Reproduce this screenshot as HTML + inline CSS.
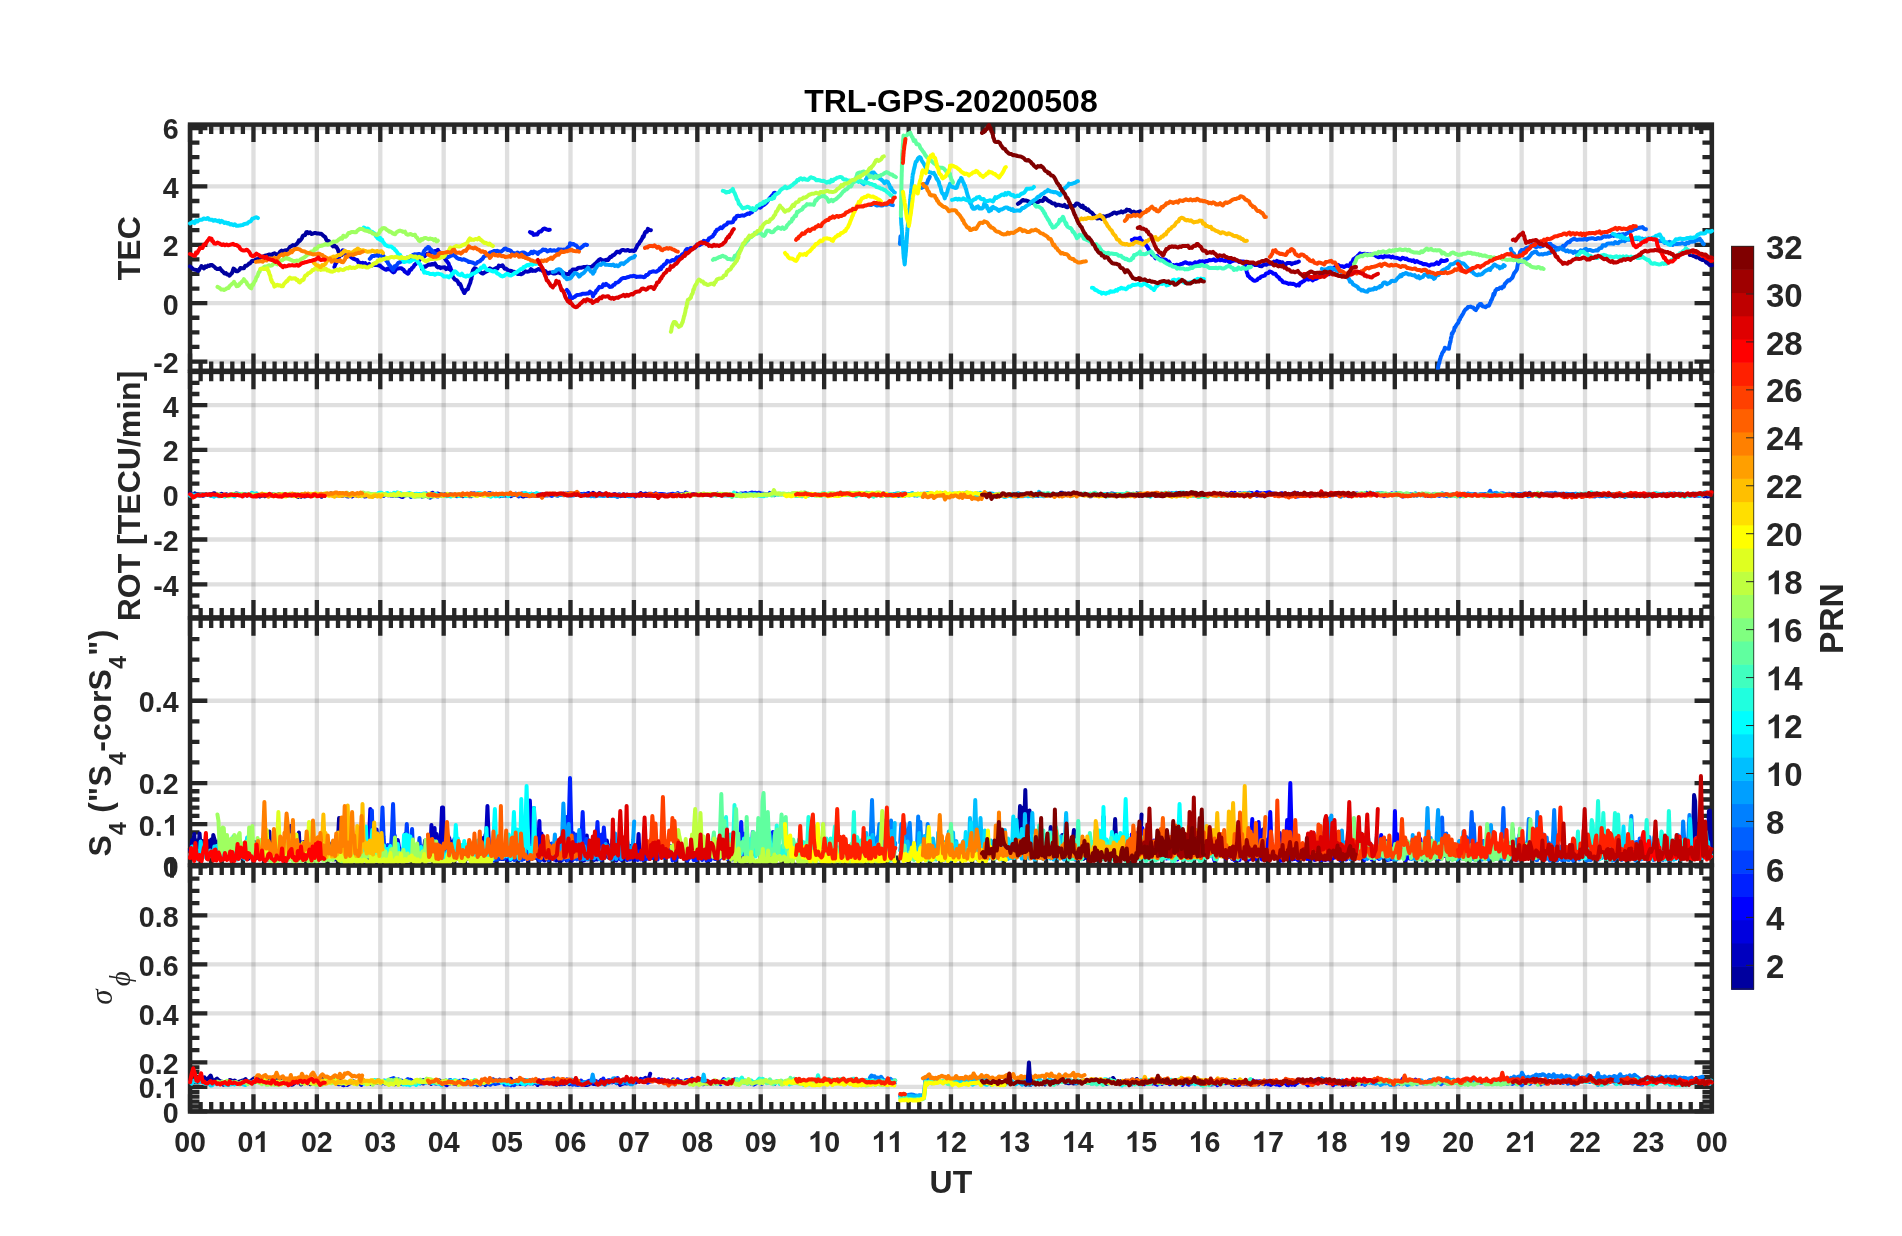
<!DOCTYPE html>
<html><head><meta charset="utf-8"><title>TRL-GPS-20200508</title>
<style>html,body{margin:0;padding:0;background:#fff;}body{width:1902px;height:1236px;overflow:hidden;font-family:"Liberation Sans",sans-serif;}svg{display:block;}</style></head>
<body>
<svg width="1902" height="1236" viewBox="0 0 1902 1236" font-family="'Liberation Sans', sans-serif" font-weight="bold" style="will-change:transform">
<style>.n path{vector-effect:non-scaling-stroke}text{font-kerning:none}</style>
<rect width="1902" height="1236" fill="#fff"/>
<g id="p1">
<path d="M253.46,124.6V370.8M316.87,124.6V370.8M380.27,124.6V370.8M443.68,124.6V370.8M507.09,124.6V370.8M570.5,124.6V370.8M633.91,124.6V370.8M697.32,124.6V370.8M760.72,124.6V370.8M824.13,124.6V370.8M887.54,124.6V370.8M950.95,124.6V370.8M1014.36,124.6V370.8M1077.77,124.6V370.8M1141.17,124.6V370.8M1204.58,124.6V370.8M1267.99,124.6V370.8M1331.4,124.6V370.8M1394.81,124.6V370.8M1458.22,124.6V370.8M1521.62,124.6V370.8M1585.03,124.6V370.8M1648.44,124.6V370.8" stroke="rgba(38,38,38,0.15)" stroke-width="4.3" fill="none"/>
<path d="M190.05,128H1711.85M190.05,186.39H1711.85M190.05,244.78H1711.85M190.05,303.16H1711.85M190.05,361.55H1711.85" stroke="rgba(38,38,38,0.15)" stroke-width="4.3" fill="none"/>
<path d="M190.05,124.6v17.3M190.05,370.8v-17.3M200.62,124.6v9.4M200.62,370.8v-9.4M211.19,124.6v9.4M211.19,370.8v-9.4M221.75,124.6v9.4M221.75,370.8v-9.4M232.32,124.6v9.4M232.32,370.8v-9.4M242.89,124.6v9.4M242.89,370.8v-9.4M253.46,124.6v17.3M253.46,370.8v-17.3M264.03,124.6v9.4M264.03,370.8v-9.4M274.59,124.6v9.4M274.59,370.8v-9.4M285.16,124.6v9.4M285.16,370.8v-9.4M295.73,124.6v9.4M295.73,370.8v-9.4M306.3,124.6v9.4M306.3,370.8v-9.4M316.87,124.6v17.3M316.87,370.8v-17.3M327.43,124.6v9.4M327.43,370.8v-9.4M338,124.6v9.4M338,370.8v-9.4M348.57,124.6v9.4M348.57,370.8v-9.4M359.14,124.6v9.4M359.14,370.8v-9.4M369.71,124.6v9.4M369.71,370.8v-9.4M380.27,124.6v17.3M380.27,370.8v-17.3M390.84,124.6v9.4M390.84,370.8v-9.4M401.41,124.6v9.4M401.41,370.8v-9.4M411.98,124.6v9.4M411.98,370.8v-9.4M422.55,124.6v9.4M422.55,370.8v-9.4M433.12,124.6v9.4M433.12,370.8v-9.4M443.68,124.6v17.3M443.68,370.8v-17.3M454.25,124.6v9.4M454.25,370.8v-9.4M464.82,124.6v9.4M464.82,370.8v-9.4M475.39,124.6v9.4M475.39,370.8v-9.4M485.96,124.6v9.4M485.96,370.8v-9.4M496.52,124.6v9.4M496.52,370.8v-9.4M507.09,124.6v17.3M507.09,370.8v-17.3M517.66,124.6v9.4M517.66,370.8v-9.4M528.23,124.6v9.4M528.23,370.8v-9.4M538.8,124.6v9.4M538.8,370.8v-9.4M549.36,124.6v9.4M549.36,370.8v-9.4M559.93,124.6v9.4M559.93,370.8v-9.4M570.5,124.6v17.3M570.5,370.8v-17.3M581.07,124.6v9.4M581.07,370.8v-9.4M591.64,124.6v9.4M591.64,370.8v-9.4M602.2,124.6v9.4M602.2,370.8v-9.4M612.77,124.6v9.4M612.77,370.8v-9.4M623.34,124.6v9.4M623.34,370.8v-9.4M633.91,124.6v17.3M633.91,370.8v-17.3M644.48,124.6v9.4M644.48,370.8v-9.4M655.04,124.6v9.4M655.04,370.8v-9.4M665.61,124.6v9.4M665.61,370.8v-9.4M676.18,124.6v9.4M676.18,370.8v-9.4M686.75,124.6v9.4M686.75,370.8v-9.4M697.32,124.6v17.3M697.32,370.8v-17.3M707.88,124.6v9.4M707.88,370.8v-9.4M718.45,124.6v9.4M718.45,370.8v-9.4M729.02,124.6v9.4M729.02,370.8v-9.4M739.59,124.6v9.4M739.59,370.8v-9.4M750.16,124.6v9.4M750.16,370.8v-9.4M760.72,124.6v17.3M760.72,370.8v-17.3M771.29,124.6v9.4M771.29,370.8v-9.4M781.86,124.6v9.4M781.86,370.8v-9.4M792.43,124.6v9.4M792.43,370.8v-9.4M803,124.6v9.4M803,370.8v-9.4M813.57,124.6v9.4M813.57,370.8v-9.4M824.13,124.6v17.3M824.13,370.8v-17.3M834.7,124.6v9.4M834.7,370.8v-9.4M845.27,124.6v9.4M845.27,370.8v-9.4M855.84,124.6v9.4M855.84,370.8v-9.4M866.41,124.6v9.4M866.41,370.8v-9.4M876.97,124.6v9.4M876.97,370.8v-9.4M887.54,124.6v17.3M887.54,370.8v-17.3M898.11,124.6v9.4M898.11,370.8v-9.4M908.68,124.6v9.4M908.68,370.8v-9.4M919.25,124.6v9.4M919.25,370.8v-9.4M929.81,124.6v9.4M929.81,370.8v-9.4M940.38,124.6v9.4M940.38,370.8v-9.4M950.95,124.6v17.3M950.95,370.8v-17.3M961.52,124.6v9.4M961.52,370.8v-9.4M972.09,124.6v9.4M972.09,370.8v-9.4M982.65,124.6v9.4M982.65,370.8v-9.4M993.22,124.6v9.4M993.22,370.8v-9.4M1003.79,124.6v9.4M1003.79,370.8v-9.4M1014.36,124.6v17.3M1014.36,370.8v-17.3M1024.93,124.6v9.4M1024.93,370.8v-9.4M1035.49,124.6v9.4M1035.49,370.8v-9.4M1046.06,124.6v9.4M1046.06,370.8v-9.4M1056.63,124.6v9.4M1056.63,370.8v-9.4M1067.2,124.6v9.4M1067.2,370.8v-9.4M1077.77,124.6v17.3M1077.77,370.8v-17.3M1088.33,124.6v9.4M1088.33,370.8v-9.4M1098.9,124.6v9.4M1098.9,370.8v-9.4M1109.47,124.6v9.4M1109.47,370.8v-9.4M1120.04,124.6v9.4M1120.04,370.8v-9.4M1130.61,124.6v9.4M1130.61,370.8v-9.4M1141.17,124.6v17.3M1141.17,370.8v-17.3M1151.74,124.6v9.4M1151.74,370.8v-9.4M1162.31,124.6v9.4M1162.31,370.8v-9.4M1172.88,124.6v9.4M1172.88,370.8v-9.4M1183.45,124.6v9.4M1183.45,370.8v-9.4M1194.02,124.6v9.4M1194.02,370.8v-9.4M1204.58,124.6v17.3M1204.58,370.8v-17.3M1215.15,124.6v9.4M1215.15,370.8v-9.4M1225.72,124.6v9.4M1225.72,370.8v-9.4M1236.29,124.6v9.4M1236.29,370.8v-9.4M1246.86,124.6v9.4M1246.86,370.8v-9.4M1257.42,124.6v9.4M1257.42,370.8v-9.4M1267.99,124.6v17.3M1267.99,370.8v-17.3M1278.56,124.6v9.4M1278.56,370.8v-9.4M1289.13,124.6v9.4M1289.13,370.8v-9.4M1299.7,124.6v9.4M1299.7,370.8v-9.4M1310.26,124.6v9.4M1310.26,370.8v-9.4M1320.83,124.6v9.4M1320.83,370.8v-9.4M1331.4,124.6v17.3M1331.4,370.8v-17.3M1341.97,124.6v9.4M1341.97,370.8v-9.4M1352.54,124.6v9.4M1352.54,370.8v-9.4M1363.1,124.6v9.4M1363.1,370.8v-9.4M1373.67,124.6v9.4M1373.67,370.8v-9.4M1384.24,124.6v9.4M1384.24,370.8v-9.4M1394.81,124.6v17.3M1394.81,370.8v-17.3M1405.38,124.6v9.4M1405.38,370.8v-9.4M1415.94,124.6v9.4M1415.94,370.8v-9.4M1426.51,124.6v9.4M1426.51,370.8v-9.4M1437.08,124.6v9.4M1437.08,370.8v-9.4M1447.65,124.6v9.4M1447.65,370.8v-9.4M1458.22,124.6v17.3M1458.22,370.8v-17.3M1468.78,124.6v9.4M1468.78,370.8v-9.4M1479.35,124.6v9.4M1479.35,370.8v-9.4M1489.92,124.6v9.4M1489.92,370.8v-9.4M1500.49,124.6v9.4M1500.49,370.8v-9.4M1511.06,124.6v9.4M1511.06,370.8v-9.4M1521.62,124.6v17.3M1521.62,370.8v-17.3M1532.19,124.6v9.4M1532.19,370.8v-9.4M1542.76,124.6v9.4M1542.76,370.8v-9.4M1553.33,124.6v9.4M1553.33,370.8v-9.4M1563.9,124.6v9.4M1563.9,370.8v-9.4M1574.47,124.6v9.4M1574.47,370.8v-9.4M1585.03,124.6v17.3M1585.03,370.8v-17.3M1595.6,124.6v9.4M1595.6,370.8v-9.4M1606.17,124.6v9.4M1606.17,370.8v-9.4M1616.74,124.6v9.4M1616.74,370.8v-9.4M1627.31,124.6v9.4M1627.31,370.8v-9.4M1637.87,124.6v9.4M1637.87,370.8v-9.4M1648.44,124.6v17.3M1648.44,370.8v-17.3M1659.01,124.6v9.4M1659.01,370.8v-9.4M1669.58,124.6v9.4M1669.58,370.8v-9.4M1680.15,124.6v9.4M1680.15,370.8v-9.4M1690.71,124.6v9.4M1690.71,370.8v-9.4M1701.28,124.6v9.4M1701.28,370.8v-9.4M1711.85,124.6v17.3M1711.85,370.8v-17.3M190.05,361.55h9.4M1711.85,361.55h-9.4M190.05,346.95h9.4M1711.85,346.95h-9.4M190.05,332.36h9.4M1711.85,332.36h-9.4M190.05,317.76h9.4M1711.85,317.76h-9.4M190.05,303.16h9.4M1711.85,303.16h-9.4M190.05,288.57h9.4M1711.85,288.57h-9.4M190.05,273.97h9.4M1711.85,273.97h-9.4M190.05,259.37h9.4M1711.85,259.37h-9.4M190.05,244.78h9.4M1711.85,244.78h-9.4M190.05,230.18h9.4M1711.85,230.18h-9.4M190.05,215.58h9.4M1711.85,215.58h-9.4M190.05,200.98h9.4M1711.85,200.98h-9.4M190.05,186.39h9.4M1711.85,186.39h-9.4M190.05,171.79h9.4M1711.85,171.79h-9.4M190.05,157.19h9.4M1711.85,157.19h-9.4M190.05,142.6h9.4M1711.85,142.6h-9.4M190.05,128h9.4M1711.85,128h-9.4M190.05,128h17.3M1711.85,128h-17.3M190.05,186.39h17.3M1711.85,186.39h-17.3M190.05,244.78h17.3M1711.85,244.78h-17.3M190.05,303.16h17.3M1711.85,303.16h-17.3M190.05,361.55h17.3M1711.85,361.55h-17.3" stroke="#262626" stroke-width="4.3" fill="none"/>
<rect x="190.05" y="124.6" width="1521.8" height="246.2" fill="none" stroke="#262626" stroke-width="4.5"/>
<text x="162.7" y="139.34" font-size="28.6" text-anchor="start" fill="#262626" >6</text>
<text x="162.7" y="197.73" font-size="28.6" text-anchor="start" fill="#262626" >4</text>
<text x="162.7" y="256.11" font-size="28.6" text-anchor="start" fill="#262626" >2</text>
<text x="162.7" y="314.5" font-size="28.6" text-anchor="start" fill="#262626" >0</text>
<text x="153.17" y="372.89" font-size="28.6" text-anchor="start" fill="#262626" >-2</text>
<clipPath id="c0"><rect x="187.85" y="122.4" width="1526.2" height="250.6"/></clipPath>
<g clip-path="url(#c0)">
<g fill="none" stroke-width="4" stroke-linejoin="round" stroke-linecap="round">
<polyline points="190.0,266.4 191.3,267.3 192.7,268.7 194.0,269.4 195.3,269.7 196.7,269.9 198.0,270.9 198.9,270.4 199.7,268.7 200.6,267.8 201.5,266.0 202.7,267.4 204.0,268.5 205.3,266.4 206.7,267.0 208.0,265.6 209.4,266.0 210.7,264.9 212.1,265.1 213.5,266.2 214.6,267.0 215.8,268.3 217.0,268.9 218.5,269.0 220.0,268.2 221.0,269.8 222.0,271.0 223.0,271.7 224.5,273.5 226.0,273.1 227.1,274.6 228.3,274.6 229.5,275.7 230.3,274.7 231.1,273.9 232.0,273.1 232.5,271.7 233.0,270.0 233.5,268.6 234.8,269.5 236.1,271.3 237.5,271.2 238.5,270.6 239.5,269.7 240.4,268.0 242.2,268.2 243.9,268.3 245.3,265.7 246.6,265.7 247.9,264.9 248.9,263.6 249.9,263.5 250.9,262.3 251.9,261.0 253.4,261.1 254.9,260.2 256.4,259.2 257.8,259.3 259.2,258.2 260.6,257.5 261.9,256.6 263.3,256.9 264.7,255.8 266.0,255.6 267.4,255.1 268.8,254.6 270.2,254.6 271.5,255.5 272.9,253.8 274.4,253.3 275.9,254.1 277.4,254.6 278.9,253.6 280.2,251.6 281.6,250.6 282.9,251.6 284.7,250.5 286.4,250.1 287.6,249.9 288.7,248.8 289.9,247.0 291.4,246.1 292.9,245.1 294.4,245.7 295.9,244.6 296.9,243.7 297.9,242.6 298.9,240.3 299.9,240.9 300.9,239.6 301.9,238.1 303.0,235.6 304.1,235.3 305.2,235.0 306.3,232.2 307.4,232.1 308.7,233.2 310.0,232.3 311.4,234.0 312.9,233.6 314.4,233.0 315.9,233.1 317.2,233.5 318.5,233.4 319.9,233.8 321.0,233.7 322.2,234.6 323.4,235.8 324.3,236.6 325.2,237.1 326.1,239.3 327.0,240.7 327.9,240.8 328.9,241.1 329.9,242.9 330.9,243.9 331.9,244.9 333.0,246.3 334.2,245.3 335.4,246.8 336.2,246.7 337.0,248.0 337.9,249.6 338.5,251.6 339.2,253.0 339.9,254.1 341.8,255.0" stroke="#00009f"/>
<polyline points="1017.9,203.9 1019.2,203.0 1020.4,202.3 1021.7,200.8 1022.9,200.0 1024.6,200.6 1026.3,200.6 1027.9,201.2 1029.4,201.8 1030.9,203.1 1032.4,202.6 1033.9,202.8 1035.4,202.2 1036.9,201.9 1038.4,202.0 1039.9,200.8 1041.4,200.7 1042.9,201.0 1044.4,197.9 1045.9,198.6 1047.1,199.9 1048.3,200.8 1049.5,201.5 1050.7,201.9 1051.9,203.1 1053.3,203.5 1054.7,203.4 1056.1,205.6 1057.5,204.7 1058.9,204.8 1060.3,205.3 1061.7,205.6 1063.1,206.1 1064.5,204.9 1065.9,206.8 1067.4,207.3 1068.9,205.7 1070.4,206.1 1071.9,206.2 1073.4,205.9 1074.9,205.8 1076.4,203.4 1077.9,203.8 1079.1,204.5 1080.3,205.9 1081.5,207.0 1082.7,205.5 1083.9,208.2 1085.3,207.8 1086.7,209.9 1088.1,209.4 1089.5,211.2 1090.9,212.3 1091.9,212.8 1092.9,214.0 1093.9,215.4 1094.9,216.0 1095.9,216.9 1096.9,218.4 1098.5,218.3 1100.0,217.3 1101.6,219.0 1103.2,216.4 1104.8,217.2 1106.2,216.1 1107.6,215.8 1109.0,215.5 1110.4,214.6 1111.8,214.1 1113.4,212.8 1115.0,212.6 1116.6,213.7 1118.2,212.5 1119.8,212.6 1121.2,211.4 1122.6,212.5 1124.0,211.6 1125.4,211.4 1126.8,209.6 1128.2,210.3 1129.6,210.0 1131.0,211.6 1132.4,212.5 1133.8,211.6 1135.4,212.8 1136.9,212.5 1138.5,211.8 1140.0,211.3 1140.0,212.3 1142.0,212.9" stroke="#00009f"/>
<polyline points="1689.8,254.9 1691.4,254.9 1693.0,255.9 1694.6,256.3 1696.2,257.4 1697.8,256.6 1699.3,258.3 1700.8,259.3 1702.3,260.0 1703.8,259.8 1705.0,260.4 1706.2,262.5 1707.4,262.9 1708.6,263.9 1709.8,265.3 1710.9,265.2 1712.0,265.2" stroke="#00009f"/>
<polyline points="422.0,268.9 423.0,267.7 424.0,266.4 425.3,266.8 426.6,265.8 428.0,264.8 429.3,264.6 430.6,264.8 431.9,264.0 433.4,264.5 434.9,263.4 435.9,265.2 436.9,266.7 437.9,267.4 439.3,266.9 440.6,268.1 441.9,267.4 443.3,267.5 444.7,267.2 446.1,269.2 447.5,268.0 448.9,268.9 450.2,269.6 451.4,270.4 451.8,271.7 452.2,273.8 452.6,276.4 452.9,276.9 453.9,278.2 454.9,279.5 455.9,279.8 456.9,280.5 457.9,281.8 458.9,284.1 459.9,283.7 460.9,285.7 461.6,287.9 462.3,289.2 463.0,290.1 463.7,292.0 464.4,293.0 465.3,291.2 466.2,290.0 467.0,289.5 467.9,289.2 468.4,287.3 468.9,285.9 469.4,284.7 469.9,283.5 470.4,282.2 470.9,279.9 471.4,279.0 471.7,276.1 471.9,276.3 472.2,274.3 472.4,272.1 472.7,272.3 472.9,270.4 474.4,268.3 475.9,268.7 477.2,269.9 478.6,270.3 479.9,271.7 481.4,272.9 482.9,273.6 484.4,272.6 485.9,271.8 487.2,271.0 488.6,270.0 489.9,268.3 491.6,269.5 493.2,269.7 494.9,268.8 496.2,267.9 497.5,268.5 498.8,265.5 500.1,266.0 501.4,265.7 502.5,265.3 503.6,267.1 504.8,268.7 505.9,268.4 507.2,269.6 508.5,270.6 509.9,270.7 511.2,271.0 512.5,271.4 513.9,271.7 515.2,272.4 516.5,273.3 517.9,274.1 519.5,273.9 521.2,274.3 522.9,273.5 524.2,272.1 525.5,271.3 526.9,271.7 528.3,271.5 529.7,271.1 531.0,269.1 532.4,270.9 533.8,270.6 535.5,270.9 537.2,269.7 538.8,268.9 540.1,269.7 541.3,268.8 542.6,271.1 543.8,271.0 545.3,271.0 546.8,272.7 548.3,273.5 549.8,272.5 551.5,272.7 553.2,273.4 554.8,273.5 556.5,272.9 558.2,272.2 559.8,273.1 561.5,273.6 563.2,272.7 564.8,273.5 566.1,274.7 567.4,274.0 568.7,274.3 570.0,273.2 570.0,271.6 571.3,271.4 572.7,269.4 574.0,269.6 575.3,269.4 576.7,269.2 578.0,268.0 579.5,267.8 581.0,267.8 582.5,267.4 584.0,267.0 585.6,267.0 587.2,266.7 588.8,267.3 590.4,266.9 592.0,266.6 593.0,265.5 594.0,264.9 595.0,263.8 596.0,263.0 597.0,261.9 598.0,261.0 599.0,259.8 600.5,259.1 602.0,260.1 603.5,260.5 605.0,260.1 606.5,259.8 608.0,260.0 609.2,258.3 610.4,256.7 611.6,256.9 612.8,255.3 614.0,255.1 615.4,253.4 616.8,251.7 618.2,251.8 619.6,252.6 620.9,250.8 622.3,249.9 623.7,250.0 625.1,250.6 626.5,250.4 627.9,249.9 629.4,251.0 630.9,250.8 632.4,250.6 633.9,251.1 634.8,250.6 635.6,248.9 636.5,247.6 637.4,245.1 638.2,244.4 639.1,243.6 639.9,241.8 640.6,241.2 641.4,239.7 642.1,238.6 642.8,236.6 643.5,237.0 644.2,234.9 644.9,232.8 645.9,231.6 646.9,231.8 647.9,228.8 649.4,229.9 650.9,230.2" stroke="#0000bf"/>
<polyline points="334.4,266.9 334.9,265.6 335.5,263.6 336.1,263.1 336.7,261.8 337.3,261.0 337.9,259.2 338.6,257.7 339.3,256.9 340.0,255.4 340.7,253.9 341.4,252.6 342.1,251.1 342.8,250.2 343.6,250.6 344.3,252.1 345.1,253.7 345.8,254.5 347.3,255.3 348.8,255.0 350.3,256.4 351.8,257.6 353.2,258.6 354.5,259.1 355.8,259.8 357.2,259.9 358.5,262.7 359.8,262.6 361.2,263.5 362.5,262.7 363.8,263.6 365.2,263.0 366.5,265.0 367.8,265.2 369.2,263.9 370.6,265.1 372.0,265.6 373.4,264.3 374.8,264.9 376.5,265.0 378.3,265.4 380.0,265.5 380.0,265.9 381.2,266.8 382.5,267.8 383.7,268.6 385.0,269.4 386.3,269.8 387.7,268.5 389.0,269.3 390.1,269.5 391.2,270.3 392.4,271.6 393.5,272.4 394.6,271.7 395.7,269.5 396.9,268.7 398.0,268.4 399.7,268.3 401.5,268.3 402.6,269.3 403.6,269.8 404.7,271.6 405.8,272.3 406.9,273.0 408.0,273.7 408.8,272.7 409.6,270.1 410.4,270.0 411.2,269.6 412.0,268.0 412.8,267.6 413.7,266.5 414.6,264.6 415.5,264.4 416.3,263.3 417.2,262.7 418.1,261.8 419.0,260.4 420.0,259.1 421.0,258.6 422.0,257.8 423.0,257.2 424.4,256.3 425.8,254.9 427.2,253.7 428.6,253.5 430.0,252.7 431.3,251.8 432.7,251.9 434.1,251.2 435.4,251.0 436.7,250.8 437.9,249.8 438.9,252.6 439.9,252.3 440.9,254.4 441.9,255.0 442.9,257.0 443.9,256.2 444.9,258.7 445.9,260.1 446.9,261.3 447.9,262.6 448.6,263.5 449.2,265.5 449.8,266.5 450.4,267.7 450.9,269.2 451.4,270.4" stroke="#0000df"/>
<polyline points="529.9,232.0 531.1,233.0 532.3,232.8 533.6,234.9 534.8,234.7 536.1,234.2 537.3,234.5 538.6,232.2 539.8,231.5 541.1,231.4 542.3,230.0 543.6,228.7 544.8,228.6 546.5,229.3 548.2,229.9 549.8,229.7" stroke="#0000df"/>
<polyline points="1243.9,261.5 1245.2,262.9 1246.6,263.3 1247.9,262.7 1249.2,263.2 1250.6,263.2 1251.9,264.3 1253.5,263.8 1255.1,265.1 1256.7,264.8 1258.3,265.0 1259.9,266.1 1261.5,266.3 1263.1,265.1 1264.7,264.3 1266.3,264.7 1267.9,263.8 1269.4,263.5 1270.9,263.8 1272.4,263.0 1273.9,261.6 1275.4,262.7 1276.9,260.9 1278.3,261.9 1279.7,261.7 1281.1,262.6 1282.5,262.2 1283.9,264.4 1285.5,264.7 1287.1,263.1 1288.7,263.0 1290.2,262.9 1291.8,264.2 1293.2,263.2 1294.6,263.0 1296.0,262.5 1297.4,262.2 1298.8,261.5" stroke="#0000df"/>
<polyline points="1131.8,239.9 1133.2,239.6 1134.5,238.4 1135.9,238.8 1137.3,238.7 1138.6,238.5 1140.0,237.8 1140.0,238.6 1141.0,240.0 1142.0,240.6 1143.0,242.8 1144.0,243.3 1145.0,243.8 1145.8,244.8 1146.6,245.9 1147.4,246.9 1148.2,248.5 1149.0,250.0 1150.0,251.4 1151.0,252.6 1152.0,254.7 1153.0,254.2 1154.0,255.9 1155.5,258.3 1157.0,256.2 1158.5,257.8 1160.0,258.9 1161.5,259.2 1163.0,259.6 1164.5,259.5 1166.0,260.0 1167.0,260.9 1168.0,262.3 1169.0,261.7 1170.0,263.3 1171.0,264.9 1172.0,265.5 1173.5,265.0 1175.0,265.7 1176.5,264.7 1178.0,265.0 1179.5,264.8 1181.0,264.0 1182.5,263.7 1184.0,262.8 1185.6,262.2 1187.2,263.2 1188.8,263.7 1190.3,263.3 1191.9,263.8 1193.4,263.8 1194.9,262.3 1196.4,262.7 1197.9,262.4 1199.5,261.3 1201.1,261.6 1202.7,261.2 1204.3,262.0 1205.9,261.0 1207.5,261.2 1209.1,260.0 1210.7,260.3 1212.3,260.1 1213.9,259.3 1215.5,260.7 1217.1,260.4 1218.7,258.8 1220.3,260.3 1221.9,259.8 1223.5,260.5 1225.1,260.9 1226.7,260.2 1228.3,261.3 1229.9,262.3 1231.5,261.3 1233.1,260.8 1234.7,260.4 1236.3,260.3 1237.9,261.0 1239.4,262.0 1240.9,261.4 1242.4,261.5 1243.9,262.1 1244.3,262.6 1244.7,263.9 1245.1,266.1 1245.5,267.5 1245.9,268.0 1246.3,269.4 1246.7,271.7 1247.1,273.1 1247.5,273.6 1247.9,275.8 1249.1,276.5 1250.3,278.1 1251.5,278.8 1252.7,279.8 1253.9,280.7 1255.4,280.7 1256.9,280.2 1258.4,278.4 1259.9,278.1 1261.1,276.6 1262.3,276.3 1263.5,275.9 1264.7,275.6 1265.9,273.7 1267.1,273.3 1268.4,273.0 1269.6,271.5 1270.9,271.9 1272.0,272.3 1273.2,273.7 1274.4,273.7 1275.5,274.0 1276.7,276.0 1277.9,276.9 1278.9,277.5 1279.9,279.4 1280.9,279.7 1281.9,280.5 1282.9,282.1 1283.9,282.4 1285.5,282.6 1287.1,283.2 1288.7,283.9 1290.2,283.5 1291.8,283.9 1293.3,283.7 1294.8,284.5 1296.3,285.6 1297.8,284.6 1299.0,285.5 1300.2,282.9 1301.4,282.5 1302.6,281.7 1303.8,281.2 1305.3,279.6 1306.8,278.6 1308.3,279.7 1309.8,279.1 1311.3,279.2 1312.8,280.4 1314.3,279.0 1315.8,278.9 1317.0,278.4 1318.2,277.1 1319.4,276.8 1320.6,274.1 1321.8,273.7 1323.2,271.6 1324.5,274.0 1325.9,273.1 1327.3,273.7 1328.6,274.3 1330.0,272.8 1330.0,272.8 1331.0,271.3 1332.0,269.9 1333.0,268.7 1334.0,268.0 1335.3,266.9 1336.7,265.9 1338.0,264.8 1339.5,265.9 1341.0,266.2 1342.5,266.3 1344.0,267.1 1345.5,266.3 1347.0,265.2 1348.5,266.2 1350.0,265.0 1350.8,263.1 1351.6,263.2 1352.5,261.6 1353.3,259.3 1354.1,260.0 1355.0,258.0 1356.2,257.4 1357.5,256.0 1358.7,254.8 1360.0,253.4 1361.5,254.5 1363.0,253.9 1364.5,253.7 1366.0,254.0 1367.5,254.2 1369.0,254.8 1370.5,254.4 1372.0,254.9 1373.6,254.0 1375.2,255.4 1376.8,256.5 1378.4,257.3 1380.0,256.8 1381.5,256.6 1383.1,257.4 1384.7,256.1 1386.3,256.5 1387.9,256.4 1389.5,256.3 1391.1,257.4 1392.7,256.6 1394.3,257.6 1395.9,257.8 1397.5,258.0 1399.1,258.7 1400.7,259.5 1402.3,257.8 1403.9,258.1 1405.3,259.0 1406.6,258.5 1407.9,259.9 1409.3,260.3 1410.6,260.3 1411.9,261.0 1413.5,260.3 1415.1,262.1 1416.7,261.1 1418.3,262.0 1419.9,262.7 1421.5,263.0 1423.1,264.2 1424.7,264.1 1426.3,264.2 1427.9,265.0 1429.4,265.7 1430.9,264.6 1432.4,264.6 1433.9,264.6 1435.4,263.8 1436.9,262.3 1438.4,264.0 1439.9,262.5 1441.3,260.3 1442.7,261.0 1444.1,260.9 1445.5,260.8 1446.9,260.1" stroke="#0000ff"/>
<polyline points="566.8,289.9 567.6,291.0 568.4,291.8 569.2,293.7 570.0,295.2 570.0,295.9 570.0,297.6 570.0,299.8 571.2,297.9 572.4,298.1 573.6,297.2 574.8,296.9 576.0,295.6 577.6,294.9 579.2,294.8 580.8,294.6 582.4,293.8 584.0,293.8 585.5,293.8 587.0,293.5 588.5,293.4 590.0,291.6 591.0,292.9 592.0,293.0 593.0,296.4 593.8,294.2 594.6,293.5 595.5,292.6 596.3,290.4 597.1,290.3 598.0,288.8 599.3,286.9 600.6,287.3 602.0,287.1 603.3,284.4 604.6,285.2 606.0,283.9 607.2,284.9 608.5,285.6 609.7,286.9 611.0,286.8 612.1,286.5 613.3,284.9 614.5,284.8 615.6,283.0 616.8,282.6 618.0,282.4 619.2,281.3 620.3,280.1 621.5,278.8 622.7,278.2 623.9,277.9 625.5,278.0 627.1,277.3 628.7,277.0 630.3,276.2 631.9,276.3 633.3,275.8 634.7,275.9 636.1,277.0 637.5,276.7 638.9,276.8 640.4,276.5 641.9,276.7 643.4,277.2 644.9,277.0 646.1,275.1 647.3,275.1 648.5,274.0 649.7,272.3 650.9,272.1 652.3,271.5 653.7,271.3 655.1,271.7 656.5,271.8 657.9,270.6 658.9,270.1 659.9,268.3 660.9,269.2 661.9,266.6 662.9,266.6 663.9,264.5 664.9,264.3 665.9,263.5 667.2,260.8 668.6,261.6 669.9,261.7 671.2,260.8 672.6,260.0 673.9,260.5 675.4,259.2 676.9,257.4 678.4,258.1 679.9,256.4 680.9,256.6 681.9,254.5 682.9,254.0 683.9,253.6 684.9,251.9 685.9,250.0 686.9,248.9 687.9,249.2 689.4,249.1 690.9,247.9 692.4,248.6 693.9,248.0 695.3,247.5 696.7,244.9 698.1,245.3 699.5,245.2 700.9,244.1 702.3,243.6 703.7,240.8 705.1,241.6 706.5,241.0 707.9,240.6 709.1,238.3 710.4,237.7 711.6,236.9 712.9,236.2 713.7,234.4 714.5,234.2 715.3,231.8 716.1,231.3 716.9,229.7 718.1,229.5 719.4,228.5 720.6,227.4 721.8,228.2 723.0,227.1 724.2,225.6 725.4,225.0 726.6,224.5 727.8,222.6 729.5,222.5 731.2,222.6 732.8,222.1 733.6,220.5 734.4,218.2 735.2,219.1 736.0,217.3 736.8,215.9 738.2,215.7 739.6,216.1 741.0,215.7 742.4,215.3 743.8,215.7 745.2,215.0 746.6,214.3 748.0,213.4 749.4,213.9 750.8,212.5 752.0,212.3 753.2,210.3 754.4,210.1 755.6,209.7 756.8,208.0 757.9,206.5 758.9,205.9 760.0,205.0 760.0,205.4 760.0,207.7 761.2,207.0 762.5,205.6 763.7,205.0 765.0,204.1 766.0,203.2 767.0,202.1 768.0,200.7 769.0,199.0 770.0,197.9 771.0,196.8 772.0,195.7 773.0,194.8 774.0,192.9 775.0,192.8" stroke="#0020ff"/>
<polyline points="369.8,258.9 370.8,257.9 371.8,256.4 372.8,255.9 374.1,255.9 375.5,255.2 376.8,255.6 377.9,254.1 378.9,256.2 380.0,256.4 380.0,256.2 381.3,257.9 382.7,255.1 384.0,257.0 384.8,258.5 385.6,259.2 386.4,260.9 387.2,260.4 388.0,263.2 388.8,264.3 389.7,265.3 390.5,266.1 391.3,268.0 392.2,268.5 393.0,270.0 393.8,268.5 394.6,266.4 395.4,266.6 396.2,265.7 397.0,264.7 398.3,262.9 399.6,262.4 401.0,261.6 402.2,261.0 403.5,261.2 404.7,261.1 406.0,259.2 407.1,257.5 408.3,258.5 409.5,258.1 410.6,257.0 411.8,256.2 413.0,254.8 414.5,254.3 416.0,254.7 417.5,254.2 419.0,253.9 420.5,254.6 422.0,256.2 422.7,255.2 423.5,252.3 424.2,250.9 425.0,250.0 426.0,248.5 427.0,248.7 428.0,246.9 429.0,247.1 430.0,249.4 430.9,249.3 431.9,250.8 432.9,251.8 433.9,252.9 435.4,253.9 436.9,254.0 438.4,254.1 439.9,255.3 441.5,255.4 443.1,255.9 444.7,256.5 446.3,256.8 447.9,257.1 449.4,256.6 450.9,255.7 452.4,255.4 453.9,254.8 455.2,256.2 456.4,257.5 457.7,258.4 458.9,258.9 460.4,259.0 461.9,259.8 463.4,259.3 464.9,259.7 466.2,260.4 467.4,260.8 468.7,262.1 469.9,261.8 471.2,262.2 472.6,262.5 473.9,263.2 475.2,263.9 476.4,263.5 477.7,262.0 478.9,261.6 480.1,261.0 481.4,259.7 482.6,258.8 483.9,256.6 485.1,255.8 486.3,255.6 487.5,255.4 488.7,253.8 489.9,252.7 491.4,252.2 492.9,251.6 494.4,250.9 495.9,251.4 497.2,250.7 498.5,251.3 499.9,252.1 501.4,251.4 502.9,250.2 504.4,248.8 505.9,248.6 507.2,249.9 508.5,249.8 509.9,250.3 510.9,251.0 511.9,252.3 512.9,252.9 514.4,253.3 515.9,254.0 517.4,252.5 518.9,253.4 520.5,253.3 522.2,252.4 523.9,252.4 525.5,253.4 527.2,254.7 528.9,254.1 530.1,253.5 531.3,251.8 532.6,253.2 533.8,251.5 535.2,252.3 536.5,252.4 537.8,253.9 539.1,252.2 540.3,251.7 541.6,250.9 542.8,249.5 544.3,250.0 545.8,249.7 547.3,251.4 548.8,250.8 550.2,249.9 551.6,250.8 553.0,250.5 554.4,250.3 555.8,250.8 557.1,250.6 558.3,249.2 559.6,249.4 560.8,249.4 562.5,249.7 564.1,249.5 565.8,250.0 566.9,248.6 567.9,247.4 569.0,246.6 570.0,244.9 570.0,243.2 571.7,244.2 573.3,244.0 575.0,245.1 576.2,245.5 577.5,247.0 578.7,249.2 580.0,248.6 581.4,247.4 582.8,246.4 584.2,245.0 585.6,244.6 587.0,245.0" stroke="#0040ff"/>
<polyline points="1437.9,368.8 1438.2,366.9 1438.6,364.7 1438.9,363.5 1439.2,363.4 1439.6,361.1 1439.9,359.9 1440.2,358.9 1440.6,358.0 1440.9,356.4 1441.6,355.1 1442.2,353.2 1442.9,351.9 1443.6,351.5 1444.2,350.0 1444.9,347.7 1446.2,348.4 1447.5,348.6 1448.9,348.8 1449.2,347.0 1449.5,345.0 1449.8,344.0 1450.1,341.9 1450.4,342.0 1450.7,340.1 1451.0,337.6 1451.3,337.6 1451.6,335.8 1451.9,333.2 1452.5,333.6 1453.2,331.6 1453.9,331.0 1454.5,327.7 1455.2,327.4 1455.9,325.9 1456.7,324.7 1457.5,323.5 1458.3,322.8 1459.1,320.1 1459.9,319.4 1460.5,317.6 1461.2,316.8 1461.9,315.4 1462.5,314.7 1463.2,313.3 1463.9,311.8 1464.9,310.2 1465.9,309.0 1466.9,308.6 1467.9,307.0 1469.2,306.9 1470.5,306.6 1471.9,307.3 1473.2,307.5 1474.5,309.2 1475.9,310.2 1476.7,308.5 1477.5,307.9 1478.3,305.5 1479.1,305.6 1479.9,303.9 1481.2,303.9 1482.5,306.2 1483.8,306.5 1485.5,307.3 1487.2,305.7 1488.8,305.8 1489.4,304.7 1490.0,303.0 1490.6,302.1 1491.1,300.3 1491.7,299.8 1492.3,298.1 1492.8,296.9 1493.5,293.8 1494.2,294.9 1494.8,292.9 1495.5,290.4 1496.2,290.2 1496.8,289.0 1498.5,289.1 1500.2,287.5 1501.8,288.3 1502.8,286.5 1503.8,286.8 1504.8,284.0 1505.8,283.0 1507.0,281.6 1508.2,280.2 1509.4,280.5 1510.6,279.4 1511.8,278.3 1512.7,277.0 1513.5,274.8 1514.3,272.9 1515.1,272.1 1516.0,270.8 1516.8,269.6 1517.1,268.7 1517.3,267.1 1517.6,265.2 1517.9,264.0 1518.1,262.3 1518.4,261.0 1518.7,259.8 1518.9,258.4 1519.2,256.0 1519.5,254.0 1519.7,254.2 1520.0,251.9 1520.0,252.2 1521.5,250.1 1523.0,250.2 1524.5,249.6 1526.0,248.4 1527.2,247.8 1528.4,247.7 1529.6,247.1 1530.8,246.6 1532.0,244.6 1533.2,244.5 1534.5,246.2 1535.7,246.9 1537.0,246.9 1538.6,245.8 1540.3,246.7 1542.0,246.1 1543.5,245.7 1545.0,244.6 1546.5,244.6 1548.0,244.1 1549.2,244.0 1550.5,243.8 1551.7,245.6 1553.0,246.0 1554.2,246.6 1555.5,247.9 1556.7,247.8 1558.0,248.9 1559.2,247.9 1560.5,247.7 1561.7,247.6 1563.0,245.8 1564.2,246.1 1565.5,244.8 1566.7,243.4 1568.0,242.1 1569.5,242.2 1570.9,240.3 1572.4,239.6 1573.9,238.6 1575.5,239.3 1577.1,239.9 1578.7,239.6 1580.3,239.6 1581.9,239.4 1583.5,239.5 1585.1,238.4 1586.7,239.8 1588.3,238.8 1589.9,238.6 1591.5,238.3 1593.1,238.2 1594.7,239.0 1596.3,239.0 1597.9,237.9 1599.5,238.6 1601.1,238.3 1602.7,237.1 1604.3,236.3 1605.9,236.7 1607.5,236.3 1609.1,236.7 1610.7,236.1 1612.3,234.9 1613.9,236.0 1615.5,234.8 1617.1,236.0 1618.7,234.6 1620.3,234.7 1621.9,234.6 1623.2,234.1 1624.6,234.7 1625.9,233.9 1627.2,233.3 1628.6,232.6 1629.9,231.4 1631.4,230.8 1632.9,230.1 1634.4,229.1 1635.9,229.0 1637.5,228.1 1639.2,227.8 1640.9,227.6 1642.5,227.0 1644.2,228.9 1645.9,229.3" stroke="#0060ff"/>
<polyline points="869.9,204.9 871.3,205.0 872.7,204.3 874.2,203.3 875.6,205.0 877.0,205.6 878.5,205.1 879.9,205.2 881.5,205.6 883.1,205.2 884.7,204.1 886.3,204.8 887.9,204.2 889.5,203.5 891.2,204.7 892.9,205.1" stroke="#0080ff"/>
<polyline points="899.9,243.9 900.0,242.2 900.2,241.0 900.3,238.4 900.5,236.3 900.7,236.3" stroke="#0080ff"/>
<polyline points="921.8,187.9 922.8,187.2 923.8,186.8 924.8,184.1 925.8,184.3 926.6,183.8 927.4,182.3 928.2,179.6 929.0,178.5 929.8,176.9" stroke="#0080ff"/>
<polyline points="1510.8,248.9 1511.5,250.8 1512.2,252.2 1512.8,252.9 1513.8,253.3 1514.8,255.8 1515.8,256.3 1516.8,258.1 1517.9,259.2 1518.9,261.2 1520.0,261.8 1520.0,261.7 1521.5,261.3 1523.0,261.4 1524.5,259.3 1526.0,259.0 1527.2,258.6 1528.5,257.6 1529.7,256.2 1531.0,254.5 1532.0,253.1 1533.0,253.0 1534.0,252.1 1535.0,251.6 1536.2,251.4 1537.5,253.6 1538.7,254.3 1540.0,254.4 1541.5,254.1 1543.0,254.5 1544.5,253.8 1546.0,253.8 1547.4,253.8 1548.8,252.6 1550.2,253.0 1551.6,251.9 1553.0,251.7 1554.4,251.4 1555.8,249.9 1557.2,249.6 1558.6,249.6 1560.0,247.9 1561.5,248.5 1563.0,249.8 1564.5,249.9 1566.0,251.2 1567.5,250.4 1569.0,251.7 1570.4,251.3 1571.9,251.6 1573.4,252.9 1574.9,251.4 1576.4,252.9 1577.9,252.1 1579.3,252.2 1580.6,250.3 1581.9,251.1 1583.3,250.7 1584.6,249.3 1585.9,248.8 1587.4,250.8 1588.9,250.0 1590.4,250.1 1591.9,250.7 1593.4,250.9 1594.9,250.6 1596.4,250.2 1597.9,250.4 1599.1,248.7 1600.3,248.2 1601.5,247.8 1602.7,245.3 1603.9,245.2 1605.5,245.8 1607.1,243.7 1608.7,243.6 1610.3,243.5 1611.9,243.3 1613.5,243.8 1615.1,242.0 1616.7,243.0 1618.3,243.2 1619.9,241.4 1621.5,241.3 1623.1,239.9 1624.7,241.2 1626.3,239.8 1627.9,239.8 1629.5,239.7 1631.1,239.8 1632.7,239.1 1634.3,239.1 1635.9,238.7 1637.5,239.2 1639.1,238.6 1640.7,239.5 1642.3,238.5 1643.9,239.7 1645.5,240.8 1647.1,239.5 1648.7,238.5 1650.3,239.2 1651.9,238.6 1653.5,238.3 1655.1,239.2 1656.7,240.5 1658.3,240.7 1659.9,240.9 1661.5,240.7 1663.1,241.0 1664.7,242.9 1666.3,242.6 1667.9,242.6 1669.5,241.8 1671.0,242.5 1672.6,245.0 1674.2,243.0 1675.8,243.9 1677.4,244.0 1679.0,243.8 1680.6,243.7 1682.2,243.1 1683.8,243.6 1685.4,244.5 1687.0,242.6 1688.6,243.2 1690.2,241.3 1691.8,241.8 1693.2,241.5 1694.5,241.5 1695.8,239.7 1697.2,240.2 1698.5,239.6 1699.8,238.7 1700.6,240.4 1701.4,240.7 1702.2,242.0 1703.0,243.7 1703.8,244.1" stroke="#0080ff"/>
<polyline points="552.8,271.9 554.3,271.6 555.8,271.1 556.8,269.7 557.8,269.5 558.8,269.2 560.3,269.7 561.8,271.3 562.3,271.5 562.8,272.6 563.3,275.6 563.8,276.0 564.8,277.5 565.8,277.4 566.8,279.2 568.4,278.8 570.0,278.6 570.0,277.9 571.2,277.6 572.4,275.5 573.6,274.3 574.8,273.0 576.0,273.2 577.0,273.7 578.0,274.9 579.0,276.6 580.2,275.6 581.5,274.1 582.7,273.7 584.0,272.7 585.0,271.3 586.0,269.8 587.0,269.1 588.0,267.7 589.0,269.1 590.0,270.4 591.0,271.7 592.0,271.3 593.0,273.7 593.7,272.1 594.4,271.7 595.1,269.1 595.8,268.3 596.5,267.3 597.3,265.9 598.0,265.2 599.5,264.3 601.0,264.9 602.5,263.2 604.0,263.3 605.5,264.8 607.0,264.6 608.5,264.9 610.0,264.9 611.6,265.3 613.2,264.5 614.8,266.0 616.4,265.3 618.0,266.2 619.4,265.3 620.7,263.5 622.1,263.3 623.5,264.1 624.9,262.8 626.2,261.6 627.4,261.0 628.7,259.6 629.9,258.7 631.2,258.2 632.4,257.5 633.7,257.5 634.9,255.9" stroke="#009fff"/>
<polyline points="1321.8,268.9 1323.2,269.8 1324.5,269.6 1325.9,269.4 1327.3,268.8 1328.6,268.1 1330.0,267.9 1330.0,267.8 1331.5,267.9 1333.0,268.8 1334.5,269.0 1336.0,270.3 1337.5,270.9 1339.0,271.1 1340.5,271.0 1342.0,272.8 1343.2,273.6 1344.4,274.2 1345.6,275.2 1346.8,275.5 1348.0,278.0 1349.0,279.0 1350.0,281.7 1351.0,281.3 1352.0,282.4 1353.0,284.5 1354.0,284.9 1355.2,285.7 1356.4,286.2 1357.6,286.9 1358.8,288.9 1360.0,289.1 1361.5,290.6 1363.0,290.1 1364.5,291.1 1366.0,291.6 1367.5,291.7 1369.0,289.5 1370.5,289.9 1372.0,289.2 1373.4,289.5 1374.8,287.9 1376.2,288.9 1377.6,287.6 1379.0,287.6 1380.0,286.0 1380.9,286.5 1381.9,285.8 1382.9,283.5 1383.9,282.6 1385.4,282.6 1386.9,284.3 1388.4,283.4 1389.9,282.7 1391.3,281.0 1392.7,280.8 1394.1,281.2 1395.5,280.8 1396.9,278.8 1398.1,277.6 1399.3,276.9 1400.4,275.2 1401.6,276.1 1402.8,274.0 1403.9,274.2 1405.5,273.0 1407.1,273.5 1408.7,274.6 1410.3,274.2 1411.9,275.1 1413.3,275.4 1414.6,275.1 1415.9,276.7 1417.2,277.4 1418.6,276.2 1419.9,278.4 1421.4,277.4 1422.9,276.8 1424.4,274.5 1425.9,274.6 1427.2,275.3 1428.6,276.8 1429.9,276.0 1431.2,277.0 1432.6,277.0 1433.9,278.8 1434.9,278.1 1435.9,275.8 1436.9,275.5 1437.9,275.2 1438.9,274.8 1439.9,273.1 1441.1,271.9 1442.3,270.5 1443.5,269.9 1444.7,269.3 1445.9,268.9 1447.1,267.8 1448.3,267.9 1449.5,266.0 1450.7,264.2 1451.9,264.3 1453.4,263.9 1454.9,262.9 1456.4,261.9 1457.9,261.3 1459.3,261.8 1460.7,263.6 1462.1,263.2 1463.5,263.5 1464.9,264.9 1465.9,266.0 1466.9,267.2 1467.9,268.2 1468.9,269.7 1469.9,269.6 1471.1,271.4 1472.3,271.3 1473.5,273.3 1474.7,274.0 1475.9,274.9 1477.4,275.2 1478.9,274.3 1480.3,274.8 1481.8,274.1 1483.0,273.1 1484.2,271.9 1485.4,271.0 1486.6,270.3 1487.8,269.8 1489.0,269.0 1490.2,270.0 1491.3,267.7 1492.5,267.0 1493.7,265.2 1494.8,264.6 1496.1,265.4 1497.3,266.5 1498.6,266.5 1499.8,268.3 1501.1,267.0 1502.3,267.5 1503.6,265.0 1504.8,265.9" stroke="#009fff"/>
<polyline points="859.9,180.9 861.2,182.1 862.6,183.1 863.9,184.1 864.6,182.8 865.3,181.5 866.0,179.0 866.8,178.4 867.5,176.1 868.2,176.6 868.9,175.0 870.1,174.1 871.4,173.0 872.6,172.4 873.9,172.5 874.7,174.2 875.5,174.3 876.3,176.3 877.1,175.8 877.9,177.4 879.1,178.4 880.4,178.9 881.6,179.9 882.9,181.0 884.5,183.1 886.2,181.2 887.9,182.0 888.5,183.4 889.2,184.6 889.9,186.5 890.5,188.3 891.2,187.9 891.9,190.0 892.9,190.8 893.9,192.1 894.9,192.5" stroke="#00bfff"/>
<polyline points="900.9,217.9 901.0,218.3 901.1,219.5 901.2,222.7 901.3,224.0 901.4,225.4 901.6,225.5 901.7,228.2 901.8,229.4 901.9,230.5 902.0,232.3 902.1,234.8 902.3,236.1 902.4,237.4 902.5,239.2 902.6,240.0 902.7,241.9 902.8,243.4 902.9,245.2 903.0,246.3 903.1,247.8 903.2,249.3 903.3,250.5 903.4,253.7 903.5,254.0 903.6,255.6 903.8,258.1 904.0,259.0 904.1,258.6 904.3,261.4 904.5,262.9 904.7,264.4 904.8,263.2 905.0,261.3 905.1,258.7 905.3,257.3 905.4,256.5 905.6,255.2 905.7,252.8 905.9,251.8 906.0,250.1 906.1,248.9 906.2,247.6 906.3,245.7 906.4,243.6 906.5,243.6 906.6,242.3 906.7,239.8 906.8,239.0 906.9,237.2 907.0,235.8 907.1,234.2 907.2,231.9 907.3,231.2 907.4,230.0 907.5,227.6 907.6,227.6 907.8,226.2 907.9,224.5 908.1,223.1 908.2,220.8 908.4,218.7 908.5,217.0 908.7,215.4 908.8,214.5 909.0,212.9 909.1,211.8 909.3,208.7 909.4,209.8 909.6,208.3 909.7,205.4 909.9,204.1 910.0,202.7 910.1,201.1 910.3,199.3 910.4,197.9 910.6,195.9 910.7,195.0 910.9,193.4 911.0,192.1 911.2,189.9 911.3,189.0 911.5,187.5 911.6,186.3 911.8,183.8 911.9,183.2 912.1,182.0 912.2,180.3 912.4,178.2 912.5,176.7 912.7,175.3 912.8,174.2 913.2,173.4 913.6,170.9 914.0,169.1 914.3,168.2 914.7,166.6 915.1,164.4 915.5,163.0 915.8,161.9 916.8,161.1 917.8,158.7 918.8,157.6 919.8,157.1 920.6,157.6 921.4,159.8 922.2,161.4 923.0,162.5 923.8,163.7 924.5,165.3 925.2,166.4 925.8,168.2 926.5,168.8 927.2,171.3 927.8,171.4 929.3,172.1 930.8,172.5 932.3,173.3 933.8,172.8 934.5,174.6 935.3,175.2 936.0,177.2 936.7,179.1 937.4,179.1 938.1,180.9 938.8,181.7 939.2,184.0 939.7,185.5 940.1,186.2 940.5,187.0 941.0,189.3 941.4,191.2 941.8,192.3 942.6,193.9 943.3,193.8 944.1,196.0 944.8,198.4 945.3,195.9 945.8,195.9 946.3,195.1 946.8,193.1 947.3,191.9 947.8,189.8 948.4,187.7 948.9,186.9 949.5,185.3 950.0,183.9 950.0,186.1 951.5,186.4 953.0,187.1 954.5,187.7 956.0,187.9 956.7,187.6 957.4,185.3 958.1,183.7 958.8,182.1 959.6,180.4 960.3,180.2 961.0,178.0 961.7,178.6 962.3,180.3 963.0,181.9 963.7,183.0 964.3,185.3 965.0,185.6 965.4,187.6 965.8,188.8 966.2,189.4 966.6,191.6 967.0,192.9 967.4,194.6 967.8,195.5 968.2,197.3 968.6,197.5 969.0,199.6 969.6,201.7 970.1,203.1 970.7,203.8 971.3,204.7 971.8,207.0 972.4,206.4 973.0,208.7 974.2,208.8 975.5,208.3 976.7,206.8 978.0,206.4 979.3,208.5 980.6,208.3 982.0,208.6 982.7,207.7 983.5,207.0 984.2,203.6 985.0,204.3 985.8,205.8 986.6,205.5 987.4,208.6 988.2,208.4 989.0,211.3 990.0,210.2 991.0,210.3 992.0,207.5 993.0,206.9 994.2,208.3 995.4,208.1 996.6,208.9 997.8,209.9 999.0,210.9 1000.3,209.5 1001.7,209.6 1003.1,208.8 1004.5,207.8 1005.9,207.4 1007.3,207.4 1008.6,209.0 1009.9,208.6 1011.3,210.0 1012.6,209.1 1013.9,211.0 1015.4,210.8 1016.9,210.6 1018.4,210.5 1019.9,210.8 1021.1,209.6 1022.3,207.9 1023.4,208.1 1024.6,207.3 1025.8,206.4 1026.9,205.6 1028.1,204.8 1029.3,204.4 1030.4,202.8 1031.6,201.6 1032.8,201.7 1033.9,200.2 1035.1,199.6 1036.2,199.0 1037.4,197.2 1038.6,196.5 1039.7,196.4 1040.9,194.8 1042.1,194.0 1043.2,193.5 1044.4,192.7 1045.6,191.4 1046.7,191.4 1047.9,189.9 1049.4,190.9 1050.9,191.6 1052.4,191.8 1053.9,192.2 1055.4,192.0 1056.9,192.6 1058.4,193.8 1059.9,195.1 1060.7,194.7 1061.6,191.9 1062.4,191.6 1063.2,189.8 1064.1,188.7 1064.9,187.9 1065.9,187.4 1066.9,186.1 1067.9,185.6 1068.9,183.6 1070.5,184.1 1072.2,183.8 1073.9,183.0 1075.2,182.8 1076.5,181.7 1077.9,181.2" stroke="#00bfff"/>
<polyline points="190.0,223.5 191.5,222.6 193.0,221.7 194.5,223.2 196.0,220.6 197.5,221.4 199.0,220.1 200.5,219.8 202.0,219.7 203.5,218.4 205.0,218.8 206.4,218.9 207.8,218.0 209.3,219.5 210.7,219.7 212.1,219.8 213.5,220.7 215.0,219.9 216.3,220.7 217.6,221.2 219.0,220.5 220.3,222.2 221.6,220.9 223.0,221.8 224.4,223.0 225.8,222.4 227.2,223.5 228.6,223.0 230.0,224.5 231.6,224.1 233.2,225.2 234.8,224.3 236.4,225.8 238.0,225.7 239.6,225.6 241.1,225.2 242.7,225.1 244.3,223.9 245.9,223.7 247.2,223.6 248.4,222.2 249.7,221.6 250.9,221.1 252.3,218.7 253.6,218.4 254.9,217.6 256.4,217.3 257.9,218.1" stroke="#00dfff"/>
<polyline points="952.0,199.9 953.4,199.6 954.8,199.0 956.2,198.7 957.6,199.6 959.0,198.7 960.4,199.5 961.8,199.6 963.2,198.4 964.6,199.1 966.0,199.9 967.5,200.4 969.0,200.9 970.5,201.2 972.0,201.2 973.2,199.9 974.4,199.2 975.6,199.0 976.8,197.5 978.0,197.2 979.4,196.8 980.8,198.9 982.2,199.2 983.6,198.9 985.0,201.2 986.6,201.1 988.2,200.9 989.8,200.3 991.4,200.6 993.0,201.4 994.1,199.6 995.3,197.2 996.5,197.9 997.6,196.9 998.8,196.7 1000.0,195.8 1001.3,194.9 1002.6,194.4 1003.9,195.1 1005.3,193.1 1006.6,194.6 1007.9,192.8 1009.3,192.9 1010.6,194.7 1011.9,195.3 1013.3,195.0 1014.6,196.7 1015.9,196.4 1017.4,195.6 1018.9,196.1 1020.4,194.5 1021.9,193.5 1023.1,193.2 1024.3,192.5 1025.5,190.9 1026.7,188.8 1027.9,188.8 1029.4,188.7 1030.9,188.4 1032.4,188.5 1033.9,186.9" stroke="#00dfff"/>
<polyline points="1612.9,233.9 1614.3,234.2 1615.7,235.1 1617.1,236.4 1618.5,235.7 1619.9,237.3 1621.5,235.6 1623.1,238.2 1624.7,237.7 1626.3,238.8 1627.9,239.1 1629.5,238.0 1631.1,238.4 1632.7,238.4 1634.3,238.4 1635.9,237.6 1637.5,237.7 1639.1,237.5 1640.7,240.6 1642.3,239.4 1643.9,239.8 1645.5,238.6 1647.1,239.6 1648.7,238.4 1650.3,239.1 1651.9,238.1 1653.2,237.4 1654.5,237.3 1655.9,235.7 1657.2,235.7 1658.5,235.0 1659.9,234.5 1660.7,236.3 1661.5,237.6 1662.3,239.9 1663.1,238.5 1663.9,241.7 1665.4,242.1 1666.9,243.1 1668.4,244.4 1669.9,245.0 1671.0,243.9 1672.2,242.6 1673.4,242.2 1674.6,241.1 1675.8,239.3 1677.4,239.5 1679.0,238.7 1680.6,238.6 1682.2,239.2 1683.8,238.9 1685.4,238.8 1687.0,238.0 1688.6,238.2 1690.2,237.5 1691.8,238.0 1693.3,237.6 1694.8,237.4 1696.3,236.4 1697.8,234.6 1699.3,234.1 1700.8,233.3 1702.3,233.6 1703.8,233.5 1705.3,233.1 1706.8,231.1 1708.3,231.4 1709.8,231.5 1710.9,231.7 1712.0,230.9" stroke="#00dfff"/>
<polyline points="363.8,227.5 365.1,228.2 366.3,229.5 367.6,228.5 368.8,229.2 369.8,231.5 370.8,231.4 371.8,231.6 372.8,232.4 373.8,233.1 374.8,233.5 375.8,236.0 376.8,237.0 377.9,238.6 378.9,238.9 380.0,239.8 380.0,237.7 381.0,240.4 382.0,239.6 383.0,242.0 384.0,243.1 385.0,244.7 386.0,245.3 387.7,246.1 389.3,246.6 391.0,246.4 392.0,247.1 393.0,248.1 394.0,248.5 395.0,249.9 396.0,250.8 397.0,252.1 398.0,253.8 399.0,254.7 400.0,254.8 400.8,256.7 401.6,257.9 402.4,259.6 403.2,260.6 404.0,262.0 405.6,261.5 407.3,261.1 409.0,261.7 410.2,261.6 411.5,260.6 412.7,259.8 414.0,259.0 415.3,259.7 416.6,259.9 418.0,262.1 418.8,263.2 419.6,263.8 420.4,264.7 421.2,267.1 422.0,266.9 422.7,269.7 423.5,270.3 424.2,272.6 425.0,272.2 426.6,272.9 428.3,273.1 430.0,274.0 431.6,274.0 433.3,273.8 434.9,274.8 436.6,273.8 438.3,273.8 439.9,274.1 441.3,274.4 442.6,275.3 443.9,276.5 445.6,276.5 447.3,276.3 448.9,277.4 449.9,276.1 450.9,276.1 451.9,273.6 452.9,273.7 453.9,271.8 454.9,271.3 456.3,272.2 457.6,273.6 458.9,274.7 460.4,275.2 461.9,273.7 463.3,275.6 464.6,276.2 465.9,276.7 467.2,275.6 468.6,276.3 469.9,275.4 471.2,274.9 472.4,273.8 473.7,273.6 474.9,272.8 476.2,272.2 477.4,270.6 478.7,270.4 479.9,269.4 481.2,267.4 482.6,267.8 483.9,265.5 484.9,267.3 485.9,268.3 486.9,269.8 487.9,270.0 489.2,270.1 490.6,270.5 491.9,271.1 493.4,271.6 494.9,270.9 495.9,271.5 496.9,273.3 497.9,273.7 499.4,274.7 500.9,275.8 502.5,276.4 504.2,275.8 505.9,274.4 507.5,273.8 509.2,275.3 510.9,275.5 512.2,274.8 513.5,274.1 514.9,272.8 516.1,272.7 517.4,271.9 518.6,270.8 519.9,269.8 521.1,268.9 522.4,268.9 523.6,267.0 524.9,266.9 526.1,265.9 527.4,264.9 528.6,265.4 529.9,264.4 531.3,264.3 532.8,264.7 534.3,263.2 535.8,263.9 537.3,263.6 538.8,263.2" stroke="#00ffff"/>
<polyline points="1091.9,287.8 1093.4,287.9 1094.9,289.8 1096.4,290.2 1097.9,291.2 1099.2,292.0 1100.5,292.2 1101.8,293.6 1103.2,292.8 1104.5,293.1 1105.8,293.7 1107.3,292.8 1108.8,292.8 1110.3,291.2 1111.8,291.8 1113.2,291.6 1114.5,291.4 1115.8,290.1 1117.2,290.7 1118.5,288.9 1119.8,288.8 1121.3,287.7 1122.8,288.4 1124.3,288.4 1125.8,289.3 1127.2,288.3 1128.6,286.6 1130.0,286.8 1131.4,285.9 1132.8,284.8 1134.3,284.9 1135.7,284.7 1137.1,284.5 1138.6,283.8 1140.0,284.8 1140.0,285.2 1141.5,285.4 1143.0,284.2 1144.5,283.7 1146.0,283.8 1147.3,285.4 1148.7,286.0 1150.0,286.7 1151.3,288.0 1152.7,288.7 1154.0,290.0 1155.0,288.3 1156.0,286.5 1157.0,286.1 1158.0,285.1 1159.5,283.7 1161.0,283.8 1162.5,283.9 1164.0,282.7 1165.3,283.1 1166.6,285.4 1168.0,285.1 1169.2,284.4 1170.4,282.3 1171.6,282.8 1172.8,279.9 1174.0,279.7 1175.5,280.3 1177.0,280.6 1178.5,279.3 1180.0,279.7 1181.2,280.7 1182.5,280.2 1183.7,282.5 1185.0,283.0 1186.4,282.4 1187.8,282.8 1189.2,282.7 1190.5,282.2 1191.9,282.0 1193.4,282.0 1194.9,280.1 1196.4,279.7 1197.9,278.7 1199.4,279.4 1200.9,278.6 1202.4,279.1 1203.9,278.9" stroke="#00ffff"/>
<polyline points="722.8,190.9 724.5,191.3 726.2,192.6 727.8,191.9 729.1,192.0 730.3,190.9 731.6,190.5 732.8,188.9 733.4,190.9 734.0,192.2 734.6,192.8 735.2,194.7 735.8,195.9 736.3,197.2 736.8,199.3 737.3,199.5 737.8,200.3 738.3,201.6 738.8,203.8 739.8,204.5 740.8,205.9 741.8,207.2 742.8,208.4 744.3,207.8 745.8,207.7 747.3,206.7 748.8,207.1 750.1,208.5 751.3,209.2 752.6,208.0 753.8,210.2 754.8,209.8 755.9,208.4 756.9,206.1 757.9,205.7 759.0,205.3 760.0,204.0 760.0,204.7 761.2,203.6 762.4,203.9 763.6,201.8 764.8,202.6 766.0,200.9 767.5,200.6 769.0,199.2 770.5,199.1 772.0,199.1 773.0,197.1 774.0,198.1 775.0,195.1 776.0,194.2 777.0,193.9 778.0,193.2 779.0,192.4 780.0,190.7 781.0,189.8 782.0,188.9 783.6,188.2 785.2,186.6 786.8,188.3 788.4,187.5 790.0,187.0 791.2,185.6 792.4,185.1 793.6,183.9 794.8,182.9 796.0,182.3 797.2,180.1 798.5,180.3 799.7,178.6 801.0,178.3 802.5,179.6 804.0,178.5 805.5,179.5 807.0,179.8 808.2,179.9 809.5,178.2 810.7,177.2 811.9,177.7 813.4,178.0 814.9,178.8 816.4,180.3 817.9,180.1 819.4,180.3 820.9,180.7 822.4,181.0 823.9,180.8 825.4,181.8 826.9,182.7 828.4,181.5 829.9,182.5 831.3,179.9 832.7,181.2 834.1,179.3 835.5,178.8 836.9,177.8 838.6,177.4 840.3,176.9 841.9,177.4 843.1,179.0 844.3,179.6 845.5,179.4 846.7,180.0 847.9,180.7 849.4,180.5 850.9,182.5 852.4,182.1 853.9,182.0 855.4,181.4 856.9,180.9 858.4,182.0 859.9,181.2 861.4,180.9 862.9,182.5 864.4,181.8 865.9,183.1 867.4,182.6 868.9,183.2 870.4,184.0 871.9,184.1 873.4,185.3 874.9,185.0 876.4,187.1 877.9,187.3 879.4,187.7 880.9,188.7 882.4,188.7 883.9,189.9 885.1,189.9 886.4,191.5 887.6,192.3 888.9,193.3 889.9,194.5 890.9,195.4 891.9,195.7 892.9,196.9" stroke="#20ffdf"/>
<polyline points="1576.9,255.9 1578.2,254.7 1579.4,254.0 1580.7,251.8 1581.9,252.1 1583.4,251.7 1584.9,253.1 1586.4,254.1 1587.9,254.7 1589.3,256.3 1590.6,255.8 1591.9,257.3 1593.3,257.5 1594.6,257.1 1595.9,258.0 1597.3,258.1 1598.6,256.7 1599.9,256.4 1601.3,255.5 1602.6,255.4 1603.9,254.8 1605.5,255.3 1607.1,256.2 1608.7,256.9 1610.3,256.5 1611.9,256.9 1613.5,257.4 1615.1,256.7 1616.7,256.3 1618.3,257.5 1619.9,256.6 1621.5,257.4 1623.1,256.3 1624.7,257.9 1626.3,256.3 1627.9,257.1 1629.5,257.9 1631.1,256.6 1632.7,258.1 1634.3,256.9 1635.9,257.0 1637.5,258.0 1639.1,258.0 1640.7,257.6 1642.3,256.3 1643.9,257.9 1645.1,258.5 1646.3,259.2 1647.5,260.1 1648.7,260.0 1649.9,261.7 1651.4,263.4 1652.9,263.8 1654.4,263.2 1655.9,263.7 1657.5,264.1 1659.1,264.5 1660.7,264.3 1662.3,263.2 1663.9,263.9 1665.1,263.4 1666.4,263.7 1667.6,263.1 1668.9,262.0 1670.1,261.7 1671.4,259.9 1672.7,260.2 1674.0,258.2 1675.3,257.8 1676.6,257.3 1677.8,255.6 1679.0,254.5 1680.1,252.9 1681.3,253.0 1682.4,251.8 1683.6,250.7 1684.7,250.2 1685.8,248.3 1687.3,249.6 1688.8,250.4 1690.3,251.0 1691.8,252.1" stroke="#20ffdf"/>
<polyline points="1034.9,204.9 1036.3,206.7 1037.7,206.3 1039.1,206.8 1040.5,207.8 1041.9,208.9 1042.7,210.5 1043.4,210.9 1044.2,213.2 1044.9,213.3 1045.7,215.6 1046.4,216.7 1047.2,217.9 1047.9,219.5 1048.6,220.0 1049.3,221.4 1050.0,223.0 1050.8,224.5 1051.5,224.6 1052.2,226.8 1052.9,227.7 1054.1,227.3 1055.4,226.7 1056.6,224.9 1057.9,223.9 1058.7,222.8 1059.6,219.9 1060.4,220.8 1061.2,219.6 1062.1,218.2 1062.9,216.8 1063.5,217.8 1064.0,219.4 1064.6,221.5 1065.2,222.0 1065.7,224.1 1066.3,223.1 1066.9,225.8 1068.1,227.1 1069.4,227.9 1070.6,227.9 1071.9,229.7 1072.7,231.9 1073.5,231.8 1074.4,233.3 1075.2,234.6 1076.0,236.2 1076.9,238.1 1078.2,237.2 1079.5,234.7 1080.9,235.3 1081.9,235.5 1082.9,236.5 1083.9,238.8 1084.9,238.8 1085.9,239.5 1087.4,240.3 1088.9,241.0 1090.4,241.6 1091.9,242.8 1093.4,244.1 1094.9,244.6 1096.4,244.3 1097.9,246.7 1098.9,246.5 1099.9,248.3 1100.8,249.5 1101.8,251.1 1102.8,251.8 1104.2,252.5 1105.6,253.9 1107.0,253.1 1108.4,252.8 1109.8,254.0 1111.3,253.4 1112.8,253.7 1114.3,254.0 1115.8,254.0 1117.2,254.4 1118.5,255.7 1119.8,255.8 1121.2,255.8 1122.5,257.7 1123.8,257.8 1125.2,259.2 1126.6,258.7 1128.0,260.0 1129.4,260.4 1130.8,260.1 1131.6,258.8 1132.4,257.8 1133.2,258.1 1134.0,255.0 1134.8,255.1 1136.1,254.7 1137.4,253.7 1138.7,253.0 1140.0,251.7 1140.0,253.9 1141.5,254.0 1143.0,254.1 1144.5,254.3 1146.0,253.8 1147.2,253.0 1148.5,252.5 1149.7,252.6 1151.0,251.4 1152.0,252.3 1153.0,254.0 1154.0,255.2 1155.0,256.5 1156.0,257.1 1157.5,258.4 1159.0,259.2 1160.5,260.6 1162.0,260.3 1163.5,261.4 1165.0,262.6 1166.5,263.4 1168.0,264.2 1169.5,265.2 1171.0,264.8 1172.5,266.5 1174.0,266.8 1175.5,266.9 1177.0,268.7 1178.5,268.0 1180.0,268.6 1181.6,268.6 1183.2,268.4 1184.8,269.4 1186.4,269.1 1188.0,269.3 1189.5,268.6 1190.9,267.5 1192.4,268.0 1193.9,266.7 1195.5,266.2 1197.1,266.0 1198.7,265.7 1200.3,265.9 1201.9,264.7 1203.3,265.7 1204.7,266.0 1206.1,265.9 1207.5,266.6 1208.9,267.8 1210.3,268.1 1211.7,268.0 1213.1,268.1 1214.5,267.9 1215.9,267.7 1217.5,268.3 1219.1,267.7 1220.7,267.7 1222.3,268.5 1223.9,268.4 1225.2,267.8 1226.4,266.9 1227.7,266.3 1228.9,265.8 1230.2,266.4 1231.4,267.6 1232.7,267.9 1233.9,269.9 1235.4,269.1 1236.9,269.6 1238.4,267.5 1239.9,268.6 1241.4,269.0 1242.9,267.4 1244.4,268.6 1245.9,268.9 1247.1,268.4 1248.4,267.0 1249.6,267.5 1250.9,266.9" stroke="#40ffbf"/>
<polyline points="712.9,259.9 714.1,258.8 715.4,259.3 716.6,258.3 717.9,257.9 719.1,257.0 720.3,257.0 721.6,256.1 722.8,255.8 724.1,256.6 725.3,256.8 726.6,257.9 727.8,259.1 729.5,258.9 731.2,259.5 732.8,259.6 733.8,258.2 734.8,255.8 735.8,256.1 736.8,254.9 737.6,253.7 738.4,252.0 739.2,251.9 739.9,249.9 740.7,248.4 741.5,247.1 742.3,246.5 743.0,244.5 743.8,243.6 744.8,244.0 745.8,242.5 746.8,241.3 747.8,240.4 748.8,238.9 749.8,237.0 751.1,237.2 752.3,236.2 753.6,234.8 754.8,232.9 756.1,233.8 757.4,233.5 758.7,232.0 760.0,231.9 760.0,233.1 761.3,233.8 762.7,235.5 764.0,235.9 764.8,235.1 765.6,233.5 766.4,231.4 767.2,230.5 768.0,230.8 769.3,230.7 770.7,232.0 772.0,232.2 773.2,232.1 774.4,230.6 775.6,229.1 776.8,228.7 778.0,227.3 779.5,228.0 781.0,228.9 782.5,227.4 784.0,229.0 785.0,228.4 786.0,227.7 787.0,225.4 788.0,224.5 789.0,223.4 789.8,222.1 790.6,221.9 791.5,221.6 792.3,218.6 793.1,218.9 794.0,217.0 795.0,215.5 796.0,215.9 797.0,211.9 798.0,212.2 799.0,211.2 800.0,210.5 801.1,210.0 802.3,209.2 803.5,207.0 804.6,206.5 805.8,205.7 807.0,204.1 808.5,204.4 810.0,204.3 811.4,204.4 812.9,204.6 813.8,204.9 814.7,202.4 815.5,200.3 816.4,200.5 817.2,199.2 818.1,198.2 818.9,197.5 820.6,196.5 822.3,196.1 823.9,195.7 825.1,196.9 826.3,197.7 827.5,199.0 828.7,201.7 829.9,201.0 831.4,199.9 832.9,201.1 834.4,199.9 835.9,199.2 836.9,198.3 837.9,197.4 838.9,196.3 839.9,195.8 840.9,194.5 841.9,193.3 843.1,191.6 844.3,190.9 845.5,189.5 846.7,189.5 847.9,188.2 848.9,186.7 849.9,186.3 850.9,186.5 851.9,184.7 852.9,182.3 853.9,181.9 854.5,181.0 855.0,179.4 855.6,178.3 856.2,177.5 856.8,175.7 857.3,173.6 857.9,173.2 859.4,172.6 860.9,172.5 862.4,171.9 863.9,171.5 865.1,172.2 866.4,173.7 867.6,174.3 868.9,175.2 870.1,177.1 871.4,176.3 872.6,177.0 873.9,178.1 875.4,176.0 876.9,177.7 878.4,176.0 879.9,176.1 881.1,174.9 882.4,174.6 883.6,173.8 884.9,173.0 886.4,172.1 887.9,172.6 889.4,173.7 890.9,174.4 892.1,174.4 893.4,175.8 894.6,176.3 895.9,177.1" stroke="#60ff9f"/>
<polyline points="900.9,215.9 900.9,215.0 900.9,212.0 900.9,211.5 901.0,209.7 901.0,208.1 901.0,206.3 901.1,204.8 901.1,203.1 901.1,201.6 901.1,202.2 901.2,200.2 901.2,197.6 901.2,196.6 901.3,194.0 901.3,191.4 901.3,190.5 901.3,190.1 901.4,189.3 901.4,187.0 901.4,184.9 901.5,183.9 901.5,181.9 901.5,180.1 901.6,179.3 901.6,177.7 901.7,176.0 901.7,174.4 901.7,172.9 901.8,172.1 901.8,171.3 901.9,168.8 901.9,168.8 901.9,165.0 902.0,164.6 902.0,162.3 902.1,161.4 902.1,160.0 902.1,158.8 902.2,157.6 902.2,155.1 902.3,153.6 902.4,152.4 902.5,151.1 902.6,149.1 902.7,148.5 902.8,147.5 902.9,144.1 903.0,143.7 903.1,142.6 903.2,139.4 903.3,139.1 903.4,137.4 903.5,135.6 905.2,136.3 906.9,135.1 908.0,133.8 909.1,133.5 910.2,132.6 910.8,134.3 911.4,135.6 912.0,136.9 912.6,137.4 913.2,139.3 913.8,141.0 915.2,140.4 916.5,144.2 917.8,143.9 918.6,144.6 919.4,145.3 920.2,147.7 921.0,148.8 921.8,149.8 922.6,150.9 923.4,151.9 924.2,153.1 925.0,154.7 925.8,155.8 927.0,157.4 928.2,157.9 929.4,159.0 930.6,160.2 931.8,161.3 932.8,162.3 933.8,163.1 934.8,163.9 935.8,164.5 936.8,165.8 937.8,167.2 939.3,167.6 940.8,167.7 942.3,167.7 943.8,168.5 945.1,170.1 946.3,171.6 947.5,172.2 948.8,172.1 950.0,173.9 950.0,176.0 950.6,176.8 951.2,178.9 951.8,180.0 952.4,181.1 953.0,182.6" stroke="#60ff9f"/>
<polyline points="1354.0,263.9 1354.8,262.9 1355.6,261.3 1356.4,259.1 1357.2,257.7 1358.0,257.1 1359.5,256.7 1361.0,255.7 1362.5,256.3 1364.0,254.8 1365.6,254.3 1367.2,255.5 1368.8,254.8 1370.4,255.1 1372.0,254.9 1373.3,253.8 1374.6,253.2 1376.0,253.3 1377.3,253.7 1378.6,251.8 1380.0,252.3 1381.5,252.0 1383.1,251.2 1384.7,252.0 1386.3,252.2 1387.9,251.6 1389.5,250.3 1391.1,251.4 1392.7,250.3 1394.3,250.9 1395.9,249.7 1397.4,250.1 1398.8,249.7 1400.2,249.2 1401.6,249.9 1403.1,250.1 1404.5,249.6 1405.9,249.5 1407.5,250.4 1409.1,249.7 1410.7,251.4 1412.3,251.8 1413.9,252.4 1415.4,252.6 1416.9,252.6 1418.4,252.8 1419.9,252.9 1421.3,251.3 1422.7,252.1 1424.1,250.8 1425.5,249.5 1426.9,248.5 1428.3,249.9 1429.7,249.6 1431.1,248.8 1432.5,250.1 1433.9,250.4 1435.3,250.1 1436.7,250.5 1438.1,250.2 1439.5,250.3 1440.9,251.2 1442.1,253.5 1443.3,252.5 1444.5,253.2 1445.7,254.5 1446.9,254.8 1448.3,254.9 1449.7,254.6 1451.1,253.1 1452.5,252.6 1453.9,252.8 1455.4,253.9 1456.9,254.0 1458.4,255.1 1459.9,254.5 1461.5,254.8 1463.1,253.7 1464.7,253.7 1466.3,253.5 1467.9,252.6 1469.4,253.0 1470.9,252.7 1472.4,253.8 1473.9,253.6 1475.3,253.8 1476.7,254.4 1478.1,254.1 1479.5,255.3 1480.8,254.7 1482.2,255.8 1483.6,255.8 1485.0,255.5 1486.4,256.3 1487.8,256.6 1489.4,256.9 1491.0,257.1 1492.6,258.5 1494.2,257.4 1495.8,258.3 1497.4,258.3 1499.0,257.5 1500.6,257.1 1502.2,259.1 1503.8,258.3 1505.4,259.5 1507.0,259.9 1508.6,259.7 1510.2,259.5 1511.8,259.8 1513.2,260.2 1514.5,260.0 1515.9,260.1 1517.3,260.3 1518.6,261.4 1520.0,260.7 1520.0,261.0 1521.5,260.7 1523.0,261.4 1524.5,261.6 1526.0,262.8 1527.2,264.1 1528.4,264.6 1529.6,265.0 1530.8,266.4 1532.0,266.8 1533.5,267.3 1535.0,267.5 1536.5,267.9 1538.0,267.1 1539.4,267.2 1540.8,268.5 1542.2,268.1 1543.6,268.9" stroke="#80ff80"/>
<polyline points="217.5,286.9 218.7,287.5 220.0,288.3 221.3,289.6 222.6,289.4 224.0,290.0 225.5,289.2 227.0,288.3 228.5,288.1 229.3,286.5 230.1,285.7 231.0,284.8 232.0,283.8 233.0,283.4 234.0,281.8 234.8,283.4 235.7,284.1 236.6,286.2 237.5,286.1 238.3,285.8 239.2,285.0 240.1,283.3 240.9,283.2 241.9,281.7 242.9,281.0 243.9,279.2 244.8,280.7 245.7,281.6 246.6,282.4 247.4,284.4 248.4,285.3 249.4,286.9 250.4,287.8 251.3,288.4 252.2,284.5 253.1,284.9 253.9,282.8 254.6,281.4 255.3,280.8 255.9,278.9 256.6,276.9 257.3,276.5 257.9,274.9 258.7,272.2 259.4,272.0 260.2,269.8 260.9,268.7 262.2,268.5 263.4,267.6 264.7,266.5 265.9,266.6 267.4,266.1 268.9,265.3 270.4,265.7 271.9,265.4 273.3,263.7 274.6,263.5 275.9,263.5 277.2,264.3 278.6,262.2 279.9,261.4 281.1,260.3 282.2,260.3 283.4,259.0 284.7,258.9 285.9,257.2 287.2,258.7 288.6,258.5 289.9,259.6 291.2,259.9 292.6,260.7 293.9,260.9 295.2,260.9 296.6,260.6 297.9,260.8 299.2,260.8 300.6,259.4 301.9,258.8 303.2,258.1 304.6,257.3 305.9,256.2 307.2,254.6 308.5,254.4 309.9,252.9 311.1,251.6 312.4,251.6 313.6,251.2 314.9,248.7 316.1,249.2 317.4,247.9 318.6,246.2 319.9,246.0 321.2,245.8 322.5,245.5 323.9,244.9 325.2,244.1 326.5,244.6 327.9,244.7 329.2,244.2 330.5,243.5 331.9,242.8 333.2,241.6 334.5,241.8 335.9,241.6 337.1,241.2 338.4,239.8 339.6,239.1 340.8,238.0 342.1,238.7 343.3,235.7 344.6,236.5 345.8,236.7 347.2,235.1 348.5,232.9 349.8,233.0 351.5,231.9 353.2,232.0 354.8,232.2 356.1,232.2 357.3,230.6 358.6,229.8 359.8,228.8 361.2,229.1 362.5,229.0 363.8,229.9 365.1,230.6 366.3,230.7 367.6,230.9 368.8,231.7 370.1,231.5 371.3,232.3 372.6,233.4 373.8,233.9 375.1,234.2 376.5,235.1 377.8,234.6 378.9,233.2 380.0,231.6 380.0,230.2 381.2,229.9 382.3,228.3 383.5,228.1 385.0,228.2 386.5,229.7 388.0,230.5 389.2,231.7 390.4,231.6 391.6,232.4 392.8,233.4 394.0,234.0 395.2,234.2 396.4,232.4 397.6,231.6 398.8,231.0 400.0,230.6 401.6,231.1 403.3,231.9 405.0,231.6 406.3,234.2 407.6,234.7 409.0,234.5 410.6,233.9 412.3,234.9 414.0,235.1 415.0,234.7 416.0,237.0 417.0,237.5 418.0,239.2 419.0,240.8 420.0,241.3 421.3,239.1 422.6,239.8 424.0,238.2 425.5,237.9 427.0,238.5 428.5,239.2 430.0,238.4 431.3,239.0 432.6,239.1 433.9,240.3 435.3,239.1 436.6,241.5 437.9,240.7" stroke="#9fff60"/>
<polyline points="670.9,331.8 671.3,330.7 671.7,327.7 672.1,326.5 672.5,325.1 672.9,324.0 673.9,321.9 674.9,322.0 675.9,322.7 676.9,325.0 677.9,325.4 678.9,326.9 679.9,325.7 680.9,325.8 681.9,323.7 682.3,322.4 682.7,322.1 683.2,319.6 683.6,318.5 684.0,316.2 684.5,315.4 684.9,313.2 685.2,312.5 685.5,310.6 685.8,308.7 686.1,307.4 686.4,307.5 686.7,305.7 687.0,303.1 687.3,303.7 687.6,300.8 687.9,299.7 689.4,299.0 690.9,297.5 691.4,295.4 691.9,294.4 692.4,294.0 692.9,292.4 693.4,289.4 693.9,289.5 694.4,287.4 694.9,286.0 695.7,284.7 696.5,283.7 697.3,281.7 698.1,280.5 698.9,279.6 700.2,280.3 701.5,281.5 702.9,281.5 704.2,283.8 705.5,283.5 706.9,284.7 708.2,284.9 709.5,284.4 710.9,283.7 712.4,283.7 713.9,284.6 714.6,282.4 715.4,282.5 716.1,281.0 716.9,279.4 718.5,278.8 720.2,278.4 721.8,278.1 722.8,277.4 723.8,275.7 724.8,275.1 725.8,275.1 726.8,271.9 727.8,271.4 728.8,270.0 729.8,269.8 730.8,268.8 731.8,266.8 732.8,266.0 733.8,264.4 734.8,263.4 735.8,261.7 736.8,260.9 737.3,259.4 737.8,258.5 738.3,257.7 738.8,253.8 739.3,253.7 739.8,251.9 740.4,251.1 741.0,249.9 741.5,248.5 742.1,247.2 742.7,244.9 743.3,243.2 743.8,243.4 744.8,242.3 745.8,239.8 746.8,239.9 747.8,238.1 749.3,235.7 750.8,236.9 752.3,235.1 753.8,235.2 755.1,233.5 756.3,232.5 757.5,231.0 758.8,230.8 760.0,230.2 760.0,229.7 760.7,227.6 761.5,228.6 762.2,227.2 763.0,225.1 764.2,223.8 765.5,222.7 766.7,221.7 768.0,222.1 769.2,221.7 770.5,219.3 771.7,218.9 773.0,217.8 773.7,216.3 774.5,215.2 775.2,214.6 776.0,211.7 776.8,211.2 777.6,210.1 778.4,208.2 779.2,207.0 780.0,205.5 781.0,207.7 782.0,208.0 783.0,209.1 784.0,210.8 785.0,211.7 786.2,210.6 787.5,210.2 788.7,210.5 790.0,208.9 791.0,208.2 792.0,206.1 793.0,204.8 794.0,206.0 795.0,203.7 796.0,202.5 797.2,202.1 798.4,201.7 799.6,199.5 800.8,199.2 802.0,199.0 803.4,197.6 804.8,197.8 806.2,197.1 807.6,196.0 809.0,194.8 810.3,194.5 811.7,193.8 813.1,193.7 814.5,193.5 815.9,192.8 817.4,193.2 818.9,193.9 820.4,191.9 821.9,192.0 823.4,192.2 824.9,191.8 826.4,191.0 827.9,190.8 829.4,191.8 830.9,191.8 832.4,192.0 833.9,191.7 835.1,191.3 836.3,190.4 837.5,188.8 838.7,188.3 839.9,187.6 841.3,185.2 842.6,186.0 843.9,184.3 845.2,183.5 846.6,183.5 847.9,183.1 849.4,182.2 850.9,180.8 852.4,179.9 853.9,179.8 855.4,179.2 856.9,178.0 858.4,176.8 859.9,177.5 861.1,175.7 862.3,175.3 863.5,174.2 864.7,173.4 865.9,173.0 866.9,171.8 867.9,171.3 868.9,169.3 869.9,168.1 870.9,168.5 871.7,166.7 872.6,166.1 873.4,165.1 874.2,163.6 875.1,162.1 875.9,160.5 877.2,159.7 878.5,160.9 879.9,160.2 881.2,159.3 882.5,157.0 883.9,156.3" stroke="#bfff40"/>
<polyline points="260.4,268.9 262.2,268.6 263.9,269.1 265.7,269.0 267.4,268.1 267.9,270.7 268.4,270.7 268.9,272.0 269.4,274.1 269.9,275.0 270.3,275.8 270.7,278.2 271.1,280.2 271.5,279.8 271.9,281.9 272.8,282.8 273.6,283.8 274.4,286.6 275.9,285.8 277.4,284.7 278.7,285.4 279.9,285.3 281.4,286.2 282.9,286.2 283.7,284.4 284.6,283.1 285.4,282.6 286.4,281.1 287.4,281.2 288.4,279.1 289.9,277.5 291.4,278.8 292.9,278.3 294.1,278.4 295.2,278.2 296.4,279.9 297.6,279.8 298.7,281.7 299.9,282.4 300.9,281.2 301.9,279.9 302.9,280.2 303.6,279.5 304.4,277.4 305.1,275.8 305.9,275.4 307.0,275.0 308.2,273.2 309.4,273.1 310.4,272.2 311.4,271.5 312.4,270.0 313.7,269.9 315.0,268.5 316.4,268.2 317.9,269.5 319.4,269.1 320.9,269.9 322.5,269.4 324.2,269.6 325.9,268.7 327.1,270.4 328.4,270.2 329.6,271.1 330.9,271.6 332.5,271.7 334.2,271.0 335.9,269.9 337.2,269.6 338.5,270.5 339.9,269.1 341.2,269.6 342.5,269.9 343.8,269.7 345.3,268.8 346.8,268.1 348.3,268.4 349.8,267.0 351.5,268.1 353.2,267.6 354.8,268.0 356.5,267.2 358.2,265.7 359.8,266.5 361.2,266.3 362.5,267.0 363.8,266.5 365.2,266.7 366.5,267.5 367.8,267.6 369.2,266.6 370.5,266.1 371.8,265.8 372.8,264.1 373.8,263.9 374.8,263.0 375.8,263.3 376.8,262.4 377.8,260.4 378.9,260.5 380.0,259.4 380.0,260.6 381.7,259.9 383.3,259.1 385.0,259.0 386.5,257.7 388.0,258.5 389.5,257.7 391.0,257.1 392.5,257.1 394.0,257.5 395.5,256.7 397.0,257.1 398.5,257.5 400.0,258.4 401.5,257.1 403.0,257.9 404.5,258.0 406.0,258.3 407.5,257.4 409.0,257.2 410.6,255.9 412.3,256.3 414.0,256.9 415.6,256.4 417.3,258.1 419.0,256.7 420.3,257.6 421.6,257.7 423.0,259.6 424.5,260.4 426.0,261.5 427.3,260.5 428.6,259.8 430.0,259.0 431.3,258.9 432.6,259.0 433.9,258.2 435.3,258.8 436.6,258.8 437.9,258.4 439.3,258.3 440.6,257.5 441.9,256.6 443.4,257.2 444.9,255.6 445.7,253.7 446.5,253.5 447.3,252.3 448.1,251.6 448.9,250.4 450.3,247.5 451.6,249.0 452.9,248.4 454.6,246.9 456.3,245.9 457.9,246.5 459.3,246.5 460.6,246.3 461.9,245.6 463.3,244.8 464.6,244.4 465.9,243.7 466.9,243.6 467.9,241.4 468.9,239.7 469.9,238.3 471.2,239.9 472.6,239.6 473.9,239.9 475.6,238.9 477.2,239.4 478.9,237.9 480.2,239.5 481.6,240.5 482.9,241.6 484.2,242.9 485.6,242.7 486.9,243.5 488.2,244.5 489.6,243.5 490.9,244.9 492.9,246.0" stroke="#dfff20"/>
<polyline points="785.0,252.9 786.0,254.6 787.0,254.8 788.0,256.9 789.0,257.9 790.0,258.4 791.5,258.5 793.0,259.0 794.5,260.4 796.0,260.9 796.8,259.9 797.6,258.6 798.4,256.3 799.2,255.9 800.0,254.1 801.5,254.4 803.0,254.7 804.5,253.9 806.0,255.0 807.0,253.3 808.0,252.2 809.0,251.7 810.0,251.0 810.9,249.8 811.9,248.8 812.9,247.3 813.9,247.0 814.9,245.4 815.9,244.0 816.9,243.9 817.9,243.3 819.1,241.8 820.3,240.6 821.5,241.3 822.7,240.7 823.9,238.8 825.6,238.4 827.3,238.3 828.9,238.8 830.3,239.0 831.6,240.5 832.9,241.0 833.9,238.6 834.9,237.8 835.9,236.6 836.9,236.3 837.9,234.9 839.4,235.2 840.9,233.2 842.4,232.8 843.9,231.9 844.7,230.8 845.6,230.9 846.4,228.6 847.2,228.1 848.1,226.8 848.9,224.7 849.5,223.9 850.1,221.8 850.6,220.7 851.2,219.3 851.8,217.8 852.3,216.1 852.9,215.4 853.5,213.3 854.0,212.5 854.6,211.6 855.2,209.6 855.8,208.4 856.3,207.2 856.9,205.2 857.9,204.7 858.9,201.7 859.9,202.5 860.9,200.1 861.9,198.4 863.3,197.9 864.7,196.9 866.1,197.1 867.5,195.6 868.9,195.6 870.3,196.5 871.7,196.8 873.1,196.6 874.5,197.4 875.9,197.9 877.1,198.7 878.4,199.4 879.6,200.0 880.9,201.2" stroke="#ffff00"/>
<polyline points="902.9,191.9 903.1,192.5 903.4,194.6 903.6,196.5 903.9,197.7 904.1,199.1 904.4,200.7 904.6,202.5 904.9,204.3 905.1,205.4 905.3,206.9 905.5,208.8 905.7,210.0 906.0,210.5 906.2,213.4 906.4,214.6 906.6,216.0 906.9,218.1 907.3,219.5 907.7,220.8 908.1,221.4 908.5,223.3 908.9,225.9 909.1,224.3 909.4,223.2 909.6,221.5 909.9,219.6 910.1,217.6 910.3,216.3 910.6,215.3 910.8,213.6 911.0,212.9 911.2,210.2 911.4,208.5 911.6,208.0 911.8,205.6 911.9,206.2 912.1,203.1 912.3,202.3 912.5,200.7 912.7,198.9 912.8,197.4 913.1,195.3 913.3,195.4 913.6,194.0 913.8,193.2 914.1,189.6 914.3,189.3 914.6,187.4 914.8,186.2 915.4,187.0 916.0,189.2 916.6,190.7 917.2,191.9 917.8,193.4 918.1,191.3 918.4,190.7 918.7,187.8 919.0,187.7 919.3,183.4 919.6,183.5 919.8,181.7 920.2,180.4 920.6,179.6 921.0,177.9 921.3,176.0 921.7,175.5 922.1,172.1 922.5,171.0 922.8,170.4 923.8,171.1 924.8,170.7 925.8,173.1 926.1,170.8 926.4,171.0 926.7,169.4 927.0,167.0 927.3,166.7 927.6,164.1 927.9,163.7 928.2,162.1 928.5,160.3 928.8,158.5 929.8,157.8 930.8,155.6 931.8,155.6 932.8,154.4 933.6,157.2 934.3,157.4 935.1,158.0 935.8,161.1 936.2,162.6 936.6,163.4 936.9,166.4 937.3,166.9 937.7,167.9 938.1,168.8 938.4,168.8 938.8,172.1 939.6,173.9 940.4,174.4 941.2,175.3 942.0,177.5 942.8,178.4 943.8,177.7 944.8,176.9 945.8,176.1 946.8,174.0 947.5,172.9 948.1,172.0 948.7,171.2 949.4,169.0 950.0,167.6 950.0,165.7 951.5,165.5 953.0,165.9 954.5,166.6 956.0,167.1 957.2,168.0 958.4,169.0 959.6,169.7 960.8,171.2 962.0,172.2 963.4,173.0 964.8,174.0 966.2,173.6 967.6,174.2 969.0,175.5 970.4,174.3 971.8,173.6 973.2,172.3 974.6,172.3 976.0,170.8 977.1,171.3 978.3,172.9 979.5,173.7 980.6,175.4 981.8,175.7 983.0,177.0 984.2,175.8 985.4,175.2 986.6,173.6 987.8,173.6 989.0,171.5 990.5,172.2 992.0,172.5 993.5,173.8 995.0,174.0 996.0,175.2 997.0,175.8 998.0,176.5 999.0,177.6 999.8,176.5 1000.5,175.2 1001.3,174.5 1002.1,173.4 1002.9,172.2 1003.7,170.6 1004.4,169.0 1005.2,167.6 1005.9,167.0" stroke="#ffff00"/>
<polyline points="313.9,262.9 315.4,264.2 316.9,265.5 318.2,265.5 319.5,267.0 320.9,267.0 322.2,265.0 323.5,265.5 324.9,264.3 325.6,263.6 326.4,261.7 327.1,261.1 327.9,259.3 329.2,258.6 330.5,257.8 331.9,257.5 333.5,256.5 335.2,256.9 336.9,256.0 338.2,255.0 339.5,255.1 340.8,254.6 341.8,253.1 342.8,253.1 343.8,251.4 344.8,250.7 346.3,251.6 347.8,251.9 349.3,252.1 350.8,253.0 352.2,252.5 353.5,251.6 354.8,250.3 356.3,249.8 357.8,248.5 359.2,249.7 360.5,250.2 361.8,250.5 363.3,250.3 364.8,251.0 366.3,251.3 367.8,251.8 369.3,251.5 370.8,251.4 372.3,250.6 373.8,251.2 375.4,251.8 376.9,250.9 378.5,251.7 380.0,251.5 380.0,251.4 381.5,251.2 383.0,253.0" stroke="#ffbf00"/>
<polyline points="1079.9,219.9 1081.5,218.4 1083.1,219.3 1084.7,218.5 1086.3,219.0 1087.9,217.8 1089.4,217.9 1090.9,218.3 1092.4,218.2 1093.9,217.8 1095.4,217.6 1096.9,216.6 1098.4,216.3 1099.9,214.8 1100.8,215.9 1101.8,216.7 1102.8,217.4 1103.8,219.0 1104.6,220.5 1105.4,222.6 1106.2,222.9 1107.0,224.7 1107.8,226.2 1108.7,227.0 1109.5,228.3 1110.3,229.5 1111.2,230.1 1112.0,231.1 1112.8,233.2 1113.7,234.2 1114.5,235.2 1115.3,235.6 1116.2,237.6 1117.0,239.4 1117.8,239.5 1119.0,240.1 1120.2,242.1 1121.4,243.1 1122.6,244.0 1123.8,243.7 1125.3,244.5 1126.8,243.9 1128.3,244.9 1129.8,244.8 1131.3,244.2 1132.8,244.2 1134.3,242.8 1135.8,241.8 1137.2,242.2 1138.6,242.7 1140.0,242.7 1140.0,242.9 1141.3,243.6 1142.7,244.5 1144.0,243.3 1145.0,242.2 1146.0,241.1 1147.0,241.4 1148.0,240.6 1149.2,239.5 1150.5,239.0 1151.7,239.1 1153.0,237.2 1154.2,238.3 1155.5,237.0 1156.7,239.5 1158.0,239.7 1159.2,238.6 1160.4,238.1 1161.6,236.5 1162.8,236.6 1164.0,234.9 1165.0,234.1 1166.0,234.4 1167.0,231.6 1168.0,231.4 1169.0,229.4 1170.0,229.3 1171.0,228.5 1172.0,227.0 1173.0,226.5 1174.0,225.9 1175.0,224.7 1176.0,222.9 1177.2,221.8 1178.4,221.4 1179.6,218.8 1180.8,218.2 1182.0,217.7 1183.5,218.4 1185.0,219.8 1186.5,220.4 1188.0,220.0 1189.5,220.8 1190.9,220.3 1192.4,221.6 1193.9,222.4 1195.3,221.9 1196.7,221.8 1198.1,221.8 1199.5,220.6 1200.9,220.7 1201.9,220.8 1202.9,223.6 1203.9,223.3 1204.9,223.9 1205.9,226.1 1207.6,226.1 1209.3,227.1 1210.9,226.8 1212.2,229.2 1213.4,229.3 1214.7,230.0 1215.9,230.9 1217.5,231.2 1219.1,232.2 1220.7,233.3 1222.3,232.2 1223.9,232.6 1225.5,233.6 1227.1,234.3 1228.7,233.2 1230.3,234.1 1231.9,234.6 1233.2,235.7 1234.6,236.2 1235.9,236.0 1237.2,236.2 1238.6,237.8 1239.9,237.3 1241.3,238.9 1242.7,239.0 1244.1,240.8 1245.5,240.9 1246.9,240.7" stroke="#ffbf00"/>
<polyline points="255.9,261.9 257.3,261.6 258.6,261.4 259.9,261.2 261.3,261.3 262.6,261.7 263.9,260.5 265.3,260.1 266.6,260.5 267.9,259.2 269.6,258.5 271.3,258.5 272.9,258.7 274.6,257.7 276.2,259.0 277.9,258.0 278.9,256.7 279.9,255.4 280.9,255.1 281.9,254.3 283.2,255.3 284.6,253.8 285.9,254.0 287.2,254.3 288.6,253.7 289.9,252.9 290.9,250.8 291.9,252.1 292.9,250.6 294.4,249.4 295.9,248.9 297.2,248.7 298.6,249.1 299.9,249.5 301.6,250.8 303.2,251.3 304.9,251.5 306.1,252.4 307.4,252.8 308.6,253.0 309.9,253.2 311.4,253.9 312.9,254.4 314.4,254.2 315.9,254.3 317.5,253.8 319.2,253.7 320.9,254.8 322.2,254.9 323.5,256.3 324.9,256.9 326.2,257.8 327.5,258.5 328.9,259.3 330.2,258.9 331.5,261.6 332.9,261.0 334.2,260.0 335.5,260.7 336.9,261.1 338.5,261.2 340.2,260.3 341.8,262.1 343.1,262.2 344.3,260.4 344.8,259.7 345.3,258.5 345.8,256.6 347.2,257.0 348.5,254.6 349.8,254.8 351.5,254.4 353.2,255.0 354.8,254.0 356.5,253.5 358.2,252.8 359.8,253.0 361.3,252.2 362.8,251.7" stroke="#ff8000"/>
<polyline points="922.8,183.9 923.8,185.8 924.8,186.4 925.8,186.9 926.8,187.9 927.6,190.4 928.3,191.1 929.1,192.4 929.8,194.5 931.1,195.4 932.3,195.3 933.6,195.4 934.8,195.7 935.6,198.0 936.4,198.5 937.2,200.7 938.0,201.1 938.8,203.0 940.1,204.2 941.3,205.0 942.6,206.1 943.8,207.0 945.1,207.1 946.3,207.9 947.5,209.2 948.8,211.2 950.0,210.9 950.0,210.6 951.7,210.2 953.3,210.3 955.0,210.3 956.0,210.8 957.0,212.6 958.0,213.6 959.0,214.5 960.0,215.6 960.8,217.2 961.7,218.1 962.5,220.2 963.3,220.2 964.2,223.2 965.0,224.1 966.0,225.4 967.0,227.2 968.0,227.9 969.0,227.7 970.0,229.9 971.5,229.9 973.0,229.0 974.5,228.5 976.0,229.0 976.8,228.0 977.6,226.2 978.4,225.2 979.2,223.8 980.0,222.7 981.4,222.7 982.8,223.1 984.2,221.4 985.6,221.9 987.0,222.4 987.8,223.3 988.6,224.4 989.4,226.0 990.2,226.1 991.0,227.5 992.4,227.7 993.8,228.6 995.2,230.4 996.6,231.6 998.0,231.8 999.4,232.1 1000.7,233.3 1002.1,234.0 1003.5,234.4 1004.9,234.3 1006.3,234.2 1007.7,232.6 1009.1,233.8 1010.5,232.8 1011.9,232.7 1013.3,233.1 1014.6,232.3 1015.9,231.2 1017.3,230.4 1018.6,229.7 1019.9,228.7 1021.3,229.5 1022.7,231.2 1024.1,230.2 1025.5,230.9 1026.9,231.9 1028.4,232.1 1029.9,231.7 1031.4,230.3 1032.9,230.5 1034.4,230.1 1035.9,229.5 1037.3,230.7 1038.7,231.2 1040.1,232.8 1041.5,233.3 1042.9,233.7 1044.1,234.8 1045.2,235.3 1046.4,236.0 1047.6,236.9 1048.7,238.7 1049.9,238.8 1050.8,239.2 1051.6,241.0 1052.5,243.2 1053.3,245.3 1054.2,244.7 1055.0,246.4 1055.9,247.8 1056.9,248.1 1057.9,250.1 1058.9,250.8 1059.9,252.0 1060.9,253.5 1062.6,253.0 1064.2,254.0 1065.9,254.1 1067.1,254.5 1068.3,255.5 1069.5,257.8 1070.7,258.3 1071.9,258.9 1073.4,259.0 1074.9,260.9 1076.4,261.4 1077.9,262.5 1079.5,262.6 1081.1,262.2 1082.7,261.8 1084.3,261.6 1085.9,261.3" stroke="#ff8000"/>
<polyline points="428.0,254.5 429.3,255.1 430.6,255.6 431.9,256.1 433.3,256.9 434.6,256.8 435.9,256.8 436.9,256.4 437.9,255.9 438.9,253.5 439.9,253.1 441.6,253.1 443.3,252.9 444.9,252.6 446.6,252.2 448.3,252.1 449.9,252.4 451.4,252.2 452.9,250.0 454.3,249.8 455.6,252.4 456.9,252.8 458.3,252.8 459.6,252.4 460.9,253.6 462.3,252.4 463.6,251.1 464.9,250.7 465.9,250.9 466.9,249.3 467.9,248.1 468.9,246.3 470.4,247.6 471.9,247.9 473.4,248.4 474.9,247.6 476.2,248.3 477.6,249.4 478.9,249.7 480.1,250.9 481.4,251.8 482.6,251.2 483.9,252.1 485.2,252.0 486.6,254.5 487.9,255.2 488.9,255.6 489.9,258.0 491.2,256.5 492.6,254.4 493.9,254.1 495.2,255.3 496.6,255.0 497.9,255.8 499.2,254.7 500.5,255.7 501.9,256.2 503.5,255.9 505.2,257.0 506.9,256.8 508.1,256.6 509.4,256.1 510.6,256.8 511.9,254.6 513.4,255.4 514.9,255.7 516.4,254.3 517.9,255.0 519.1,256.8 520.4,256.6 521.6,254.7 522.9,256.9 524.1,256.5 525.4,258.1 526.6,258.0 527.9,258.8 529.4,259.1 530.8,260.4 532.3,260.5 533.8,261.2 535.3,261.4 536.8,261.9 538.3,261.3 539.8,262.3 541.5,260.5 543.2,261.2 544.8,260.3 546.5,260.9 548.2,259.1 549.8,258.8 551.1,257.5 552.3,258.9 553.6,257.4 554.8,256.1 556.1,255.4 557.3,254.1 558.6,254.7 559.8,253.1 561.5,251.3 563.2,252.1 564.8,251.7 566.1,251.2 567.4,251.2 568.7,250.6 570.0,250.5 570.0,249.9 571.5,249.8 573.0,250.7 574.5,251.0 576.0,251.2 577.5,251.1 579.0,251.6" stroke="#ff6000"/>
<polyline points="1124.8,220.9 1125.8,219.8 1126.8,218.9 1127.8,215.7 1128.8,215.8 1130.5,216.4 1132.2,215.8 1133.8,214.7 1135.4,215.9 1136.9,214.8 1138.5,215.2 1140.0,216.5 1140.0,215.8 1141.2,215.0 1142.4,213.3 1143.6,212.9 1144.8,212.0 1146.0,211.9 1147.2,209.8 1148.4,210.5 1149.6,208.7 1150.8,207.6 1152.0,206.7 1153.2,208.2 1154.4,209.4 1155.6,209.1 1156.8,211.1 1158.0,211.4 1159.2,210.7 1160.4,209.1 1161.6,207.0 1162.8,207.3 1164.0,205.8 1165.2,205.2 1166.4,203.2 1167.6,203.4 1168.8,202.9 1170.0,201.6 1171.6,202.1 1173.2,202.9 1174.8,202.1 1176.4,201.5 1178.0,202.6 1179.6,200.3 1181.2,200.6 1182.8,201.0 1184.4,200.0 1186.0,199.3 1187.6,200.0 1189.2,200.2 1190.7,199.2 1192.3,200.5 1193.9,199.7 1195.5,200.3 1197.1,198.8 1198.7,199.8 1200.3,200.8 1201.9,200.5 1203.3,201.3 1204.7,201.1 1206.1,201.8 1207.5,202.0 1208.9,203.2 1210.3,202.7 1211.7,203.4 1213.1,202.3 1214.5,202.8 1215.9,204.4 1217.3,204.2 1218.7,204.4 1220.1,203.2 1221.5,204.7 1222.9,205.5 1224.3,203.4 1225.7,202.3 1227.1,203.0 1228.5,202.2 1229.9,201.9 1231.4,200.4 1232.9,199.6 1234.4,199.0 1235.9,199.1 1237.4,198.2 1238.9,198.1 1240.4,196.3 1241.9,196.5 1243.1,197.0 1244.3,198.2 1245.5,199.6 1246.7,200.0 1247.9,200.8 1248.9,201.1 1249.9,203.4 1250.9,205.0 1251.9,205.3 1252.9,206.9 1254.1,206.7 1255.2,207.8 1256.4,209.7 1257.5,211.0 1258.7,210.9 1259.9,211.4 1261.1,212.7 1262.3,213.0 1263.5,214.7 1264.7,217.0 1265.9,217.0" stroke="#ff6000"/>
<polyline points="644.9,247.9 646.2,247.3 647.4,247.5 648.7,246.2 649.9,246.0 651.4,246.1 652.9,246.3 654.4,245.3 655.9,246.5 657.2,247.7 658.4,246.7 659.7,247.4 660.9,249.6 662.4,250.3 663.9,248.9 665.4,248.8 666.9,248.0 668.3,248.7 669.7,248.1 671.1,248.5 672.5,249.4 673.9,249.7 675.2,250.6 676.6,251.3 677.9,251.7" stroke="#ff4000"/>
<polyline points="1269.9,256.9 1270.7,256.3 1271.5,254.7 1272.3,253.9 1273.1,250.6 1273.9,251.2 1275.4,250.2 1276.9,252.5 1278.4,252.7 1279.9,253.9 1281.4,253.8 1282.9,254.2 1284.4,254.7 1285.9,255.0 1286.9,253.4 1287.9,251.4 1288.9,251.4 1289.9,251.2 1290.8,249.4 1291.8,249.0 1292.8,249.8 1293.8,250.6 1294.8,253.1 1295.8,254.5 1296.8,254.6 1297.8,255.9 1299.3,256.2 1300.8,254.6 1302.3,254.6 1303.8,255.2 1304.8,256.4 1305.8,256.6 1306.8,257.4 1307.8,259.1 1308.8,259.0 1309.8,260.7 1311.3,261.2 1312.8,260.4 1314.3,262.7 1315.8,263.1 1317.2,263.7 1318.6,262.4 1320.0,262.7 1321.4,263.2 1322.8,263.5 1324.3,264.5 1325.7,262.1 1327.1,261.9 1328.6,261.6 1330.0,261.0 1330.0,261.3 1331.2,260.7 1332.5,262.4 1333.7,262.5 1335.0,262.5 1335.8,264.3 1336.7,264.7 1337.5,267.8 1338.3,267.8 1339.2,270.1 1340.0,271.2 1341.5,271.2 1343.0,271.8 1344.5,273.2 1346.0,273.5 1347.5,273.9 1349.0,273.0 1350.5,271.9 1352.0,271.6 1353.6,272.5 1355.2,271.4 1356.8,273.5 1358.4,272.2 1360.0,272.8 1361.2,271.3 1362.4,271.8 1363.6,270.3 1364.8,269.6 1366.0,268.1 1367.5,267.7 1369.0,268.4 1370.5,267.5 1372.0,267.0 1373.6,266.8 1375.2,266.5 1376.8,265.8 1378.4,265.2 1380.0,264.4 1381.5,266.1 1383.1,264.1 1384.7,263.6 1386.3,264.4 1387.9,265.4 1389.5,265.7 1391.1,264.7 1392.7,265.4 1394.3,265.3 1395.9,264.9 1397.5,265.5 1399.1,266.2 1400.7,267.0 1402.3,265.9 1403.9,266.2 1405.5,266.3 1407.1,267.9 1408.7,268.1 1410.3,268.5 1411.9,268.9 1413.5,268.8 1415.1,268.4 1416.7,269.7 1418.3,269.9 1419.9,270.0 1421.5,271.0 1423.1,269.9 1424.7,269.7 1426.3,270.4 1427.9,272.5 1429.5,271.6 1431.1,272.7 1432.7,272.8 1434.3,273.6 1435.9,274.4 1437.5,273.0 1439.1,273.1 1440.7,272.7 1442.3,273.1 1443.9,273.0 1445.5,272.1 1447.1,273.2 1448.7,272.9 1450.3,272.3 1451.9,271.8 1453.4,271.0 1454.9,269.4 1456.4,270.0 1457.9,268.6 1459.2,269.1 1460.5,270.5 1461.9,269.8 1463.2,270.5 1464.5,271.9 1465.9,272.4" stroke="#ff4000"/>
<polyline points="796.0,239.9 797.0,238.5 798.0,238.5 799.0,236.5 800.0,236.1 801.0,235.0 802.2,233.4 803.4,233.9 804.6,233.6 805.8,231.7 807.0,231.0 808.5,229.7 810.0,231.0 811.4,229.4 812.9,228.5 814.3,228.8 815.7,226.8 817.1,226.7 818.5,225.2 819.9,226.3 821.1,226.2 822.3,223.5 823.4,222.5 824.6,221.6 825.8,220.6 826.9,220.1 828.4,220.0 829.9,217.8 831.4,217.9 832.9,216.4 834.3,217.6 835.7,216.5 837.1,215.9 838.5,217.0 839.9,215.9 841.4,216.0 842.9,215.1 844.4,214.7 845.9,212.7 847.3,212.1 848.7,211.5 850.1,210.4 851.5,210.6 852.9,208.7 854.3,209.1 855.7,208.9 857.1,206.5 858.5,206.7 859.9,206.6 861.5,206.2 863.1,206.4 864.7,205.6 866.3,205.4 867.9,204.8 869.4,204.4 870.9,204.2 872.4,203.9 873.9,202.7 875.4,203.1 876.9,203.0 878.4,203.6 879.9,203.5 881.3,204.5 882.7,204.3 884.1,203.8 885.5,203.5 886.9,203.8 888.2,202.5 889.5,201.0 890.9,201.4 892.2,201.9 893.5,198.2 894.9,197.6" stroke="#ff2000"/>
<polyline points="902.9,163.0 903.0,161.9 903.1,160.4 903.2,157.7 903.3,156.0 903.4,156.1 903.5,153.1 903.6,153.7 903.7,151.1 903.9,150.0 904.1,148.4 904.3,146.5 904.5,145.2 904.8,143.5 905.0,142.9 905.2,140.5 905.5,139.0" stroke="#ff2000"/>
<polyline points="1457.9,263.9 1458.7,264.7 1459.5,265.8 1460.4,266.9 1461.2,268.5 1462.0,270.8 1462.9,271.2 1464.5,271.0 1466.2,271.9 1467.9,271.2 1469.4,270.2 1470.9,269.3 1472.4,267.9 1473.9,267.9 1475.5,267.3 1477.1,266.1 1478.7,265.9 1480.2,267.4 1481.8,265.9 1483.2,265.3 1484.5,264.3 1485.8,263.1 1487.2,262.8 1488.5,262.3 1489.8,260.8 1491.2,260.7 1492.5,260.5 1493.8,259.1 1495.2,259.0 1496.5,257.9 1497.8,258.0 1499.2,257.1 1500.5,257.6 1501.8,255.9 1503.2,256.9 1504.5,255.2 1505.8,254.6 1507.5,254.0 1509.2,254.6 1510.8,253.6 1512.3,255.7 1513.8,256.1 1515.3,256.4 1516.8,256.4 1518.4,256.4 1520.0,255.7 1520.0,255.3 1521.2,255.3 1522.4,255.6 1523.6,253.1 1524.8,253.2 1526.0,252.3 1527.0,250.3 1528.0,249.7 1529.0,249.0 1530.0,248.2 1531.0,246.2 1532.0,245.9 1533.5,245.1 1535.0,245.0 1536.5,242.7 1538.0,242.7 1539.5,241.8 1541.0,241.2 1542.5,241.1 1544.0,239.7 1545.6,241.1 1547.2,238.7 1548.8,239.2 1550.4,238.9 1552.0,238.2 1553.3,237.3 1554.6,236.4 1556.0,236.2 1557.3,236.3 1558.6,235.5 1560.0,235.1 1561.6,235.0 1563.2,233.8 1564.8,233.5 1566.4,234.6 1568.0,233.3 1569.4,232.6 1570.8,234.7 1572.2,233.2 1573.7,233.2 1575.1,234.4 1576.5,233.2 1577.9,233.6 1579.4,234.5 1580.8,233.3 1582.2,235.2 1583.7,233.7 1585.1,235.2 1586.5,233.6 1587.9,233.5 1589.4,233.0 1590.8,233.2 1592.2,232.9 1593.6,233.1 1595.1,233.5 1596.5,232.2 1597.9,232.6 1599.5,231.4 1601.1,233.4 1602.7,232.2 1604.3,232.1 1605.9,231.9 1607.2,232.0 1608.6,231.1 1609.9,230.9 1611.2,229.8 1612.6,229.3 1613.9,228.9 1615.5,227.8 1617.1,229.5 1618.7,227.9 1620.3,228.3 1621.9,229.1 1623.3,228.6 1624.7,228.8 1626.1,229.1 1627.5,228.9 1628.9,227.9 1630.3,227.0 1631.7,228.1 1633.1,226.0 1634.5,226.2 1635.9,226.2" stroke="#ff2000"/>
<polyline points="190.0,254.0 191.3,254.5 192.7,255.2 194.0,255.8 195.0,255.8 196.0,252.5 197.0,253.3 197.7,252.3 198.5,250.4 199.2,249.5 200.0,247.7 201.2,247.7 202.5,248.0 203.7,244.8 205.0,244.9 205.9,243.2 206.8,241.9 207.7,240.6 208.6,239.6 209.5,238.1 211.5,238.6 212.2,241.1 213.0,241.2 213.7,242.7 214.5,243.6 216.0,243.7 217.5,242.5 219.0,243.2 220.5,244.3 222.0,245.1 223.5,244.3 225.0,245.3 226.6,244.5 228.2,245.3 229.8,244.8 231.4,244.3 233.0,243.8 234.2,244.7 235.5,245.0 236.7,245.0 238.0,246.1 239.1,246.7 240.2,248.8 241.3,249.7 242.4,250.2 243.9,250.6 245.4,250.2 246.9,249.7 247.9,250.7 248.9,251.5 249.9,253.0 250.9,255.1 252.4,256.2 253.9,255.8 255.2,254.8 256.4,253.6 257.8,254.7 259.2,255.2 260.6,256.4 261.9,256.7 263.4,256.6 264.9,257.9 266.4,256.9 267.9,258.9 269.6,259.3 271.3,260.0 272.9,259.9 274.2,261.1 275.4,262.0 276.7,261.3 277.9,262.3 279.2,263.7 280.4,265.0 281.7,265.9 282.9,267.2 284.4,265.7 285.9,266.4 287.4,266.1 288.9,265.3 290.6,265.4 292.2,265.1 293.9,265.6 295.4,265.6 296.9,264.8 298.4,265.8 299.6,265.1 300.7,264.0 301.9,263.2 303.6,262.8 305.2,262.2 306.9,262.0 308.5,261.4 310.2,261.0 311.9,260.7 313.5,260.0 315.2,259.7 316.9,258.6 318.2,257.4 319.5,259.2 320.9,259.9 322.2,259.7 323.5,259.6 324.9,259.8" stroke="#ff0000"/>
<polyline points="1630.9,234.9 1631.3,237.0 1631.7,237.8 1632.1,239.8 1632.5,242.0 1632.9,243.0 1633.9,245.6 1634.9,245.5 1635.9,247.2 1637.2,246.6 1638.5,245.2 1639.9,244.9 1641.1,243.5 1642.4,242.3 1643.6,242.1 1644.9,240.7 1646.1,241.4 1647.4,239.4 1648.6,239.1 1649.9,238.9 1651.4,238.8 1652.9,239.4 1654.4,239.3 1655.9,239.5 1656.4,239.9 1656.9,242.1 1657.4,245.3 1657.9,246.1 1658.4,247.5 1658.9,248.7 1659.7,250.2 1660.5,251.9 1661.3,252.2 1662.1,254.0 1662.9,255.6 1663.9,257.9 1664.9,257.7 1665.9,260.3 1666.9,260.7 1668.5,262.7 1670.2,261.2 1671.8,261.5 1672.8,261.4 1673.8,260.1 1674.8,259.3 1675.8,257.1 1676.8,257.2 1678.1,257.1 1679.3,255.3 1680.6,254.3 1681.8,253.5 1683.1,254.0 1684.3,253.0 1685.6,252.4 1686.8,251.5 1688.5,252.5 1690.2,251.7 1691.8,250.9 1693.3,252.3 1694.8,251.3 1696.3,252.9 1697.8,252.6 1699.3,254.5 1700.8,254.2 1702.3,255.9 1703.8,255.7 1705.0,256.9 1706.2,258.2 1707.4,257.7 1708.6,259.1 1709.8,259.6 1710.9,260.9 1712.0,260.7" stroke="#ff0000"/>
<polyline points="537.8,259.9 538.5,261.1 539.2,262.5 539.8,264.3 540.6,264.6 541.3,266.4 542.1,267.5 542.8,268.8 543.3,270.0 543.8,271.8 544.3,273.5 544.8,274.5 545.3,276.3 545.8,276.7 546.3,278.7 546.8,280.6 547.8,280.7 548.8,282.5 549.8,283.8 550.8,285.8 551.8,286.3 552.8,287.4 553.8,285.5 554.8,285.0 555.3,283.7 555.8,282.9 556.3,280.8 557.6,281.8 558.8,281.6 559.3,284.2 559.8,284.9 560.3,286.0 560.8,288.0 561.6,290.2 562.3,289.9 563.1,290.9 563.8,292.6 564.3,293.5 564.8,295.4 565.3,296.9 565.8,297.9 566.8,299.5 567.8,301.3 568.9,302.0 570.0,303.0 570.0,301.1 571.0,303.3 572.0,304.1 573.0,305.7 574.3,306.6 575.7,307.2 577.0,306.9 578.0,305.7 579.0,305.2 580.0,303.9 581.0,303.2 582.5,301.8 584.0,300.1 585.5,301.3 587.0,299.3 588.4,299.6 589.8,300.9 591.2,300.4 592.6,302.9 594.0,301.9 595.2,301.3 596.4,300.0 597.6,300.8 598.8,298.9 600.0,297.6 601.4,298.3 602.8,296.2 604.2,296.5 605.6,296.7 607.0,296.3 608.4,296.2 609.8,298.2 611.2,298.7 612.6,297.7 614.0,298.9 615.3,297.9 616.6,297.6 618.0,297.9 619.3,296.9 620.6,296.3 621.9,295.9 623.5,294.9 625.1,296.2 626.7,294.8 628.3,295.8 629.9,294.7 631.3,294.0 632.7,294.5 634.1,293.1 635.5,292.0 636.9,291.7 638.2,291.4 639.4,291.5 640.7,290.0 641.9,288.7 643.3,288.5 644.6,289.1 645.9,289.8 647.3,289.0 648.6,287.4 649.9,287.2 651.3,286.9 652.6,287.7 653.9,289.0 654.7,287.7 655.5,285.8 656.3,285.2 657.1,282.4 657.9,282.3 658.8,282.0 659.6,280.7 660.5,278.5 661.3,278.5 662.2,276.2 663.0,275.8 663.9,273.8 665.0,273.0 666.2,272.2 667.3,269.8 668.5,269.7 669.6,269.9 670.8,266.1 671.9,267.0 673.1,266.4 674.2,265.1 675.4,264.0 676.6,263.7 677.7,262.1 678.9,260.3 679.9,259.3 680.9,258.7 681.9,258.0 682.9,256.6 683.9,255.8 684.9,255.9 685.9,253.0 687.0,253.7 688.2,252.8 689.4,251.7 690.5,250.5 691.7,249.7 692.9,249.0 694.0,248.0 695.2,246.4 696.4,246.3 697.5,244.4 698.7,243.9 699.9,242.8 701.2,242.2 702.5,243.2 703.9,242.9 705.1,242.8 706.4,244.1 707.6,244.0 708.9,245.9 710.5,245.6 712.2,246.3 713.9,244.7 715.5,245.8 717.2,245.2 718.9,246.0 720.1,245.4 721.3,244.8 722.6,244.3 723.8,242.8 724.7,242.4 725.6,241.2 726.4,238.9 727.3,238.2 728.1,236.6 729.0,237.1 729.8,234.7 730.6,234.2 731.4,233.0 732.2,231.1 733.0,229.8 733.8,229.0" stroke="#df0000"/>
<polyline points="1303.8,273.9 1305.3,274.1 1306.8,274.6 1308.3,275.5 1309.8,276.9 1311.4,277.0 1313.0,277.9 1314.6,275.8 1316.2,277.1 1317.8,276.5 1319.4,277.3 1321.0,276.9 1322.6,276.3 1324.2,276.9 1325.8,275.7 1327.2,274.5 1328.6,273.2 1330.0,272.7 1330.0,272.9 1331.3,273.8 1332.7,274.6 1334.0,274.2 1335.3,274.4 1336.7,275.1 1338.0,275.7 1339.6,275.8 1341.2,276.0 1342.8,275.9 1344.4,276.6 1346.0,276.7 1347.4,276.0 1348.8,274.6 1350.3,274.8 1351.7,274.3 1353.1,273.7 1354.5,272.2 1356.0,271.5 1357.5,271.6 1359.0,272.2 1360.5,273.0 1362.0,273.8 1363.2,273.5 1364.5,275.7 1365.7,275.2 1367.0,276.6 1368.6,276.4 1370.3,277.3 1372.0,277.4 1373.5,275.9 1375.0,275.2 1376.5,274.4 1378.0,273.8" stroke="#df0000"/>
<polyline points="1512.8,239.9 1514.1,239.5 1515.5,240.7 1516.8,238.6 1517.9,237.5 1518.9,235.8 1520.0,235.0 1520.0,234.7 1521.5,234.2 1523.0,232.6 1523.4,235.6 1523.9,235.9 1524.3,236.1 1524.7,239.0 1525.1,239.7 1525.6,240.8 1526.0,243.0 1527.2,242.1 1528.5,242.3 1529.7,241.1 1531.0,241.2 1532.7,240.6 1534.3,240.4 1536.0,239.9 1537.0,240.7 1538.0,241.7 1539.0,243.1 1540.0,244.1 1541.6,243.6 1543.3,245.2 1545.0,244.4 1546.2,244.2 1547.5,246.5 1548.7,246.8 1550.0,247.9 1551.0,248.7 1552.0,251.4 1553.0,251.1 1554.0,252.8 1554.8,253.6 1555.6,256.3 1556.5,257.1 1557.3,256.8 1558.1,258.4 1559.0,260.0 1560.0,260.6 1561.0,261.7 1562.0,262.2 1563.0,263.9 1564.5,262.7 1566.0,263.4 1567.5,263.8 1569.0,261.8 1570.3,262.2 1571.7,260.9 1573.1,259.7 1574.5,259.3 1575.9,258.6 1577.5,258.7 1579.1,258.9 1580.7,258.8 1582.3,257.9 1583.9,257.5 1585.4,258.2 1586.9,259.7 1588.4,259.2 1589.9,259.4 1591.3,257.6 1592.6,258.0 1593.9,258.0 1595.3,256.5 1596.6,257.3 1597.9,255.7 1599.4,256.1 1600.9,257.0 1602.4,258.1 1603.9,259.2 1605.3,259.1 1606.7,258.8 1608.1,260.4 1609.5,261.3 1610.9,261.9 1612.3,261.0 1613.7,262.7 1615.1,262.3 1616.5,262.4 1617.9,262.0 1619.1,261.1 1620.3,260.3 1621.5,260.8 1622.7,259.7 1623.9,259.2 1625.5,259.9 1627.1,258.9 1628.7,258.8 1630.3,260.0 1631.9,258.5 1633.4,257.9 1634.9,257.1 1636.4,256.4 1637.9,255.9 1639.1,254.6 1640.3,255.0 1641.5,252.7 1642.7,252.2 1643.9,251.4 1645.5,250.7 1647.1,251.6 1648.7,251.3 1650.3,250.5 1651.9,250.5 1653.5,250.6 1655.1,249.9 1656.7,250.3 1658.3,250.5 1659.9,250.9 1661.5,250.3 1663.1,251.1 1664.7,251.6 1666.3,252.3 1667.9,252.0 1669.1,253.3 1670.2,252.8 1671.4,254.1 1672.6,253.9 1673.8,255.9 1675.3,257.0 1676.8,255.5 1678.3,255.2 1679.8,254.9 1681.3,254.5 1682.8,253.1 1684.3,253.0 1685.8,252.8 1687.3,252.5 1688.8,251.4 1690.3,251.3 1691.8,250.7 1693.3,250.3 1694.8,251.0 1696.3,251.1 1697.8,252.1 1699.3,253.4 1700.8,253.7 1702.3,254.0 1703.8,254.7 1705.3,254.4 1706.8,255.6 1708.3,257.3 1709.8,257.2 1710.9,257.5 1712.0,257.8" stroke="#bf0000"/>
<polyline points="1137.8,227.9 1138.9,227.4 1140.0,227.0 1140.0,227.9 1141.5,228.7 1143.0,228.4 1144.5,229.4 1146.0,229.8 1147.0,231.7 1148.0,231.6 1149.0,234.3 1150.0,234.6 1151.0,235.7 1151.5,237.2 1152.0,238.6 1152.5,239.7 1153.0,241.5 1153.5,242.2 1154.0,243.4 1154.8,245.7 1155.6,246.7 1156.4,249.1 1157.2,249.7 1158.0,250.3 1159.2,252.6 1160.5,252.5 1161.7,254.2 1163.0,255.5 1163.8,254.3 1164.6,251.8 1165.4,251.2 1166.2,249.1 1167.0,249.1 1168.2,248.5 1169.5,246.8 1170.7,246.9 1172.0,246.2 1173.5,246.9 1175.0,246.5 1176.5,247.0 1178.0,247.6 1179.5,246.5 1181.0,246.9 1182.5,246.1 1184.0,245.9 1185.3,246.0 1186.6,246.1 1188.0,245.8 1189.3,248.0 1190.6,247.6 1191.9,247.9 1193.1,246.5 1194.3,245.7 1195.5,245.9 1196.7,244.1 1197.9,244.1 1198.9,245.5 1199.9,246.2 1200.9,246.7 1201.9,249.0 1203.2,250.7 1204.4,250.4 1205.7,251.1 1206.9,253.2 1208.4,252.7 1209.9,252.0 1211.4,252.8 1212.9,251.8 1213.9,253.1 1214.9,253.6 1215.9,254.4 1216.9,256.0 1217.9,256.6 1219.4,255.3 1220.9,255.6 1222.4,256.1 1223.9,255.2 1225.4,256.9 1226.9,257.0 1228.4,258.1 1229.9,257.9 1231.4,258.1 1232.9,259.1 1234.4,258.8 1235.9,260.1 1237.4,260.3 1238.9,261.5 1240.4,261.6 1241.9,262.8 1243.4,263.2 1244.9,262.2 1246.4,261.7 1247.9,261.9 1249.3,262.8 1250.7,262.6 1252.1,262.4 1253.5,262.6 1254.9,263.5 1256.3,263.9 1257.7,262.6 1259.1,262.3 1260.5,262.1 1261.9,260.9 1263.4,261.1 1264.9,260.6 1266.4,259.9 1267.9,261.0 1269.1,261.6 1270.3,262.8 1271.5,262.6 1272.7,264.0 1273.9,265.5 1275.4,264.6 1276.9,265.4 1278.4,266.4 1279.9,265.8 1281.4,266.4 1282.9,265.6 1284.4,267.8 1285.9,267.7 1287.1,269.4 1288.3,269.4 1289.5,270.0 1290.6,271.3 1291.8,271.8 1293.3,271.3 1294.8,272.3 1296.3,271.7 1297.8,270.9 1298.8,272.3 1299.8,273.3 1300.8,274.2 1301.8,274.9 1302.8,275.9 1303.8,277.0 1305.0,276.2 1306.2,275.1 1307.4,273.5 1308.6,272.8 1309.8,272.0 1311.3,271.5 1312.8,272.3 1314.3,273.0 1315.8,272.9 1317.3,272.7 1318.8,272.8 1320.3,272.6 1321.8,273.1 1323.2,272.5 1324.5,271.5 1325.9,271.7 1327.3,272.4 1328.6,272.1 1330.0,271.7 1330.0,272.5 1331.5,273.3 1333.0,273.4 1334.5,274.0 1336.0,274.9 1337.5,274.9 1339.0,276.0 1340.5,275.9 1342.0,276.7 1343.7,276.4 1345.3,277.0 1347.0,276.3 1347.8,275.0 1348.6,272.6 1349.4,271.7 1350.2,270.8 1351.0,269.1 1352.2,267.4 1353.5,267.8 1354.7,266.9 1356.0,267.1" stroke="#9f0000"/>
<polyline points="982.0,133.0 983.0,132.4 984.0,130.7 985.0,131.3 986.0,128.9 987.0,129.1 988.0,126.2 989.0,125.0 989.6,127.5 990.2,127.5 990.8,128.9 991.4,131.5 992.0,132.0 992.4,133.7 992.8,134.1 993.2,137.3 993.7,138.3 994.1,139.3 994.5,141.0 995.0,141.8 996.6,142.1 998.3,141.7 1000.0,143.1 1000.7,144.9 1001.5,145.9 1002.3,147.1 1003.1,148.2 1003.9,148.7 1005.1,149.2 1006.3,151.3 1007.5,152.1 1008.7,153.5 1009.9,153.9 1011.4,154.0 1012.9,155.2 1014.4,155.1 1015.9,155.5 1017.5,156.0 1019.1,156.3 1020.7,156.5 1022.3,157.3 1023.9,158.2 1025.4,160.1 1026.9,160.5 1028.4,160.0 1029.9,161.3 1030.9,162.1 1031.9,163.6 1032.9,164.2 1033.9,165.7 1034.9,166.5 1036.4,167.8 1037.9,166.0 1039.4,166.6 1040.9,165.8 1041.9,167.1 1042.9,167.3 1043.9,168.7 1044.9,170.5 1045.9,171.3 1046.9,171.4 1048.1,173.3 1049.2,172.9 1050.4,174.6 1051.6,175.6 1052.7,175.7 1053.9,176.9 1054.7,178.1 1055.6,179.8 1056.4,181.5 1057.2,183.1 1058.1,183.8 1058.9,185.5 1059.7,185.7 1060.6,188.6 1061.4,188.8 1062.2,190.7 1063.1,191.5 1063.9,193.0 1064.7,193.6 1065.5,195.6 1066.3,197.7 1067.1,197.8 1067.9,198.9 1068.5,200.2 1069.0,201.9 1069.6,202.7 1070.2,204.1 1070.7,205.5 1071.3,207.4 1071.9,208.2 1072.4,208.6 1073.0,210.1 1073.6,211.8 1074.2,213.5 1074.7,214.9 1075.3,215.5 1075.9,217.5 1076.6,218.3 1077.3,220.6 1078.0,222.0 1078.7,223.6 1079.4,224.2 1080.2,225.8 1080.9,226.5 1081.7,227.2 1082.5,229.2 1083.4,231.3 1084.2,232.8 1085.0,233.5 1085.9,235.2 1086.9,236.4 1087.9,238.1 1088.9,237.5 1089.9,239.1 1090.9,240.2 1091.9,241.6 1092.7,244.2 1093.5,244.0 1094.4,245.4 1095.2,247.0 1096.0,249.1 1096.9,249.7 1097.9,251.5 1098.9,252.6 1099.9,253.1 1100.8,253.3 1101.8,255.6 1103.3,255.7 1104.8,257.8 1106.3,257.0 1107.8,257.6 1108.8,259.4 1109.8,260.6 1110.8,261.6 1112.2,263.1 1113.6,263.6 1115.0,263.8 1116.4,263.8 1117.8,264.6 1119.0,264.7 1120.2,267.1 1121.4,268.1 1122.6,268.3 1123.8,269.9 1125.1,272.3 1126.3,270.2 1127.6,270.3 1128.8,272.0 1129.6,272.8 1130.4,274.0 1131.2,275.8 1132.0,276.6 1132.8,278.1 1134.3,278.5 1135.7,279.3 1137.1,279.1 1138.6,278.2 1140.0,280.2 1140.0,278.3 1141.6,279.8 1143.2,279.8 1144.8,279.3 1146.4,280.5 1148.0,281.1 1149.6,280.6 1151.2,281.7 1152.8,281.6 1154.4,281.9 1156.0,282.7 1157.6,283.2 1159.2,282.4 1160.8,281.6 1162.4,281.2 1164.0,280.9 1165.5,281.5 1167.0,282.0 1168.5,281.3 1170.0,283.1 1171.5,282.8 1173.0,282.4 1174.5,284.8 1176.0,284.5 1177.2,283.8 1178.4,282.8 1179.6,281.5 1180.8,281.2 1182.0,279.8 1183.2,280.7 1184.5,281.3 1185.7,282.7 1187.0,283.5 1188.5,283.4 1190.0,283.6 1191.4,282.9 1192.9,282.0 1194.4,280.8 1195.9,281.9 1197.4,281.6 1198.9,281.5 1200.6,279.8 1202.3,281.3 1203.9,281.4" stroke="#800000"/>
</g>
</g>
</g>
<g id="p2">
<path d="M253.46,371.9V617.4M316.87,371.9V617.4M380.27,371.9V617.4M443.68,371.9V617.4M507.09,371.9V617.4M570.5,371.9V617.4M633.91,371.9V617.4M697.32,371.9V617.4M760.72,371.9V617.4M824.13,371.9V617.4M887.54,371.9V617.4M950.95,371.9V617.4M1014.36,371.9V617.4M1077.77,371.9V617.4M1141.17,371.9V617.4M1204.58,371.9V617.4M1267.99,371.9V617.4M1331.4,371.9V617.4M1394.81,371.9V617.4M1458.22,371.9V617.4M1521.62,371.9V617.4M1585.03,371.9V617.4M1648.44,371.9V617.4" stroke="rgba(38,38,38,0.15)" stroke-width="4.3" fill="none"/>
<path d="M190.05,405.2H1711.85M190.05,449.97H1711.85M190.05,494.75H1711.85M190.05,539.52H1711.85M190.05,584.3H1711.85" stroke="rgba(38,38,38,0.15)" stroke-width="4.3" fill="none"/>
<path d="M190.05,371.9v17.3M190.05,617.4v-17.3M200.62,371.9v9.4M200.62,617.4v-9.4M211.19,371.9v9.4M211.19,617.4v-9.4M221.75,371.9v9.4M221.75,617.4v-9.4M232.32,371.9v9.4M232.32,617.4v-9.4M242.89,371.9v9.4M242.89,617.4v-9.4M253.46,371.9v17.3M253.46,617.4v-17.3M264.03,371.9v9.4M264.03,617.4v-9.4M274.59,371.9v9.4M274.59,617.4v-9.4M285.16,371.9v9.4M285.16,617.4v-9.4M295.73,371.9v9.4M295.73,617.4v-9.4M306.3,371.9v9.4M306.3,617.4v-9.4M316.87,371.9v17.3M316.87,617.4v-17.3M327.43,371.9v9.4M327.43,617.4v-9.4M338,371.9v9.4M338,617.4v-9.4M348.57,371.9v9.4M348.57,617.4v-9.4M359.14,371.9v9.4M359.14,617.4v-9.4M369.71,371.9v9.4M369.71,617.4v-9.4M380.27,371.9v17.3M380.27,617.4v-17.3M390.84,371.9v9.4M390.84,617.4v-9.4M401.41,371.9v9.4M401.41,617.4v-9.4M411.98,371.9v9.4M411.98,617.4v-9.4M422.55,371.9v9.4M422.55,617.4v-9.4M433.12,371.9v9.4M433.12,617.4v-9.4M443.68,371.9v17.3M443.68,617.4v-17.3M454.25,371.9v9.4M454.25,617.4v-9.4M464.82,371.9v9.4M464.82,617.4v-9.4M475.39,371.9v9.4M475.39,617.4v-9.4M485.96,371.9v9.4M485.96,617.4v-9.4M496.52,371.9v9.4M496.52,617.4v-9.4M507.09,371.9v17.3M507.09,617.4v-17.3M517.66,371.9v9.4M517.66,617.4v-9.4M528.23,371.9v9.4M528.23,617.4v-9.4M538.8,371.9v9.4M538.8,617.4v-9.4M549.36,371.9v9.4M549.36,617.4v-9.4M559.93,371.9v9.4M559.93,617.4v-9.4M570.5,371.9v17.3M570.5,617.4v-17.3M581.07,371.9v9.4M581.07,617.4v-9.4M591.64,371.9v9.4M591.64,617.4v-9.4M602.2,371.9v9.4M602.2,617.4v-9.4M612.77,371.9v9.4M612.77,617.4v-9.4M623.34,371.9v9.4M623.34,617.4v-9.4M633.91,371.9v17.3M633.91,617.4v-17.3M644.48,371.9v9.4M644.48,617.4v-9.4M655.04,371.9v9.4M655.04,617.4v-9.4M665.61,371.9v9.4M665.61,617.4v-9.4M676.18,371.9v9.4M676.18,617.4v-9.4M686.75,371.9v9.4M686.75,617.4v-9.4M697.32,371.9v17.3M697.32,617.4v-17.3M707.88,371.9v9.4M707.88,617.4v-9.4M718.45,371.9v9.4M718.45,617.4v-9.4M729.02,371.9v9.4M729.02,617.4v-9.4M739.59,371.9v9.4M739.59,617.4v-9.4M750.16,371.9v9.4M750.16,617.4v-9.4M760.72,371.9v17.3M760.72,617.4v-17.3M771.29,371.9v9.4M771.29,617.4v-9.4M781.86,371.9v9.4M781.86,617.4v-9.4M792.43,371.9v9.4M792.43,617.4v-9.4M803,371.9v9.4M803,617.4v-9.4M813.57,371.9v9.4M813.57,617.4v-9.4M824.13,371.9v17.3M824.13,617.4v-17.3M834.7,371.9v9.4M834.7,617.4v-9.4M845.27,371.9v9.4M845.27,617.4v-9.4M855.84,371.9v9.4M855.84,617.4v-9.4M866.41,371.9v9.4M866.41,617.4v-9.4M876.97,371.9v9.4M876.97,617.4v-9.4M887.54,371.9v17.3M887.54,617.4v-17.3M898.11,371.9v9.4M898.11,617.4v-9.4M908.68,371.9v9.4M908.68,617.4v-9.4M919.25,371.9v9.4M919.25,617.4v-9.4M929.81,371.9v9.4M929.81,617.4v-9.4M940.38,371.9v9.4M940.38,617.4v-9.4M950.95,371.9v17.3M950.95,617.4v-17.3M961.52,371.9v9.4M961.52,617.4v-9.4M972.09,371.9v9.4M972.09,617.4v-9.4M982.65,371.9v9.4M982.65,617.4v-9.4M993.22,371.9v9.4M993.22,617.4v-9.4M1003.79,371.9v9.4M1003.79,617.4v-9.4M1014.36,371.9v17.3M1014.36,617.4v-17.3M1024.93,371.9v9.4M1024.93,617.4v-9.4M1035.49,371.9v9.4M1035.49,617.4v-9.4M1046.06,371.9v9.4M1046.06,617.4v-9.4M1056.63,371.9v9.4M1056.63,617.4v-9.4M1067.2,371.9v9.4M1067.2,617.4v-9.4M1077.77,371.9v17.3M1077.77,617.4v-17.3M1088.33,371.9v9.4M1088.33,617.4v-9.4M1098.9,371.9v9.4M1098.9,617.4v-9.4M1109.47,371.9v9.4M1109.47,617.4v-9.4M1120.04,371.9v9.4M1120.04,617.4v-9.4M1130.61,371.9v9.4M1130.61,617.4v-9.4M1141.17,371.9v17.3M1141.17,617.4v-17.3M1151.74,371.9v9.4M1151.74,617.4v-9.4M1162.31,371.9v9.4M1162.31,617.4v-9.4M1172.88,371.9v9.4M1172.88,617.4v-9.4M1183.45,371.9v9.4M1183.45,617.4v-9.4M1194.02,371.9v9.4M1194.02,617.4v-9.4M1204.58,371.9v17.3M1204.58,617.4v-17.3M1215.15,371.9v9.4M1215.15,617.4v-9.4M1225.72,371.9v9.4M1225.72,617.4v-9.4M1236.29,371.9v9.4M1236.29,617.4v-9.4M1246.86,371.9v9.4M1246.86,617.4v-9.4M1257.42,371.9v9.4M1257.42,617.4v-9.4M1267.99,371.9v17.3M1267.99,617.4v-17.3M1278.56,371.9v9.4M1278.56,617.4v-9.4M1289.13,371.9v9.4M1289.13,617.4v-9.4M1299.7,371.9v9.4M1299.7,617.4v-9.4M1310.26,371.9v9.4M1310.26,617.4v-9.4M1320.83,371.9v9.4M1320.83,617.4v-9.4M1331.4,371.9v17.3M1331.4,617.4v-17.3M1341.97,371.9v9.4M1341.97,617.4v-9.4M1352.54,371.9v9.4M1352.54,617.4v-9.4M1363.1,371.9v9.4M1363.1,617.4v-9.4M1373.67,371.9v9.4M1373.67,617.4v-9.4M1384.24,371.9v9.4M1384.24,617.4v-9.4M1394.81,371.9v17.3M1394.81,617.4v-17.3M1405.38,371.9v9.4M1405.38,617.4v-9.4M1415.94,371.9v9.4M1415.94,617.4v-9.4M1426.51,371.9v9.4M1426.51,617.4v-9.4M1437.08,371.9v9.4M1437.08,617.4v-9.4M1447.65,371.9v9.4M1447.65,617.4v-9.4M1458.22,371.9v17.3M1458.22,617.4v-17.3M1468.78,371.9v9.4M1468.78,617.4v-9.4M1479.35,371.9v9.4M1479.35,617.4v-9.4M1489.92,371.9v9.4M1489.92,617.4v-9.4M1500.49,371.9v9.4M1500.49,617.4v-9.4M1511.06,371.9v9.4M1511.06,617.4v-9.4M1521.62,371.9v17.3M1521.62,617.4v-17.3M1532.19,371.9v9.4M1532.19,617.4v-9.4M1542.76,371.9v9.4M1542.76,617.4v-9.4M1553.33,371.9v9.4M1553.33,617.4v-9.4M1563.9,371.9v9.4M1563.9,617.4v-9.4M1574.47,371.9v9.4M1574.47,617.4v-9.4M1585.03,371.9v17.3M1585.03,617.4v-17.3M1595.6,371.9v9.4M1595.6,617.4v-9.4M1606.17,371.9v9.4M1606.17,617.4v-9.4M1616.74,371.9v9.4M1616.74,617.4v-9.4M1627.31,371.9v9.4M1627.31,617.4v-9.4M1637.87,371.9v9.4M1637.87,617.4v-9.4M1648.44,371.9v17.3M1648.44,617.4v-17.3M1659.01,371.9v9.4M1659.01,617.4v-9.4M1669.58,371.9v9.4M1669.58,617.4v-9.4M1680.15,371.9v9.4M1680.15,617.4v-9.4M1690.71,371.9v9.4M1690.71,617.4v-9.4M1701.28,371.9v9.4M1701.28,617.4v-9.4M1711.85,371.9v17.3M1711.85,617.4v-17.3M190.05,606.69h9.4M1711.85,606.69h-9.4M190.05,595.49h9.4M1711.85,595.49h-9.4M190.05,584.3h9.4M1711.85,584.3h-9.4M190.05,573.11h9.4M1711.85,573.11h-9.4M190.05,561.91h9.4M1711.85,561.91h-9.4M190.05,550.72h9.4M1711.85,550.72h-9.4M190.05,539.52h9.4M1711.85,539.52h-9.4M190.05,528.33h9.4M1711.85,528.33h-9.4M190.05,517.14h9.4M1711.85,517.14h-9.4M190.05,505.94h9.4M1711.85,505.94h-9.4M190.05,494.75h9.4M1711.85,494.75h-9.4M190.05,483.56h9.4M1711.85,483.56h-9.4M190.05,472.36h9.4M1711.85,472.36h-9.4M190.05,461.17h9.4M1711.85,461.17h-9.4M190.05,449.97h9.4M1711.85,449.97h-9.4M190.05,438.78h9.4M1711.85,438.78h-9.4M190.05,427.59h9.4M1711.85,427.59h-9.4M190.05,416.39h9.4M1711.85,416.39h-9.4M190.05,405.2h9.4M1711.85,405.2h-9.4M190.05,394.01h9.4M1711.85,394.01h-9.4M190.05,382.81h9.4M1711.85,382.81h-9.4M190.05,405.2h17.3M1711.85,405.2h-17.3M190.05,449.97h17.3M1711.85,449.97h-17.3M190.05,494.75h17.3M1711.85,494.75h-17.3M190.05,539.52h17.3M1711.85,539.52h-17.3M190.05,584.3h17.3M1711.85,584.3h-17.3" stroke="#262626" stroke-width="4.3" fill="none"/>
<rect x="190.05" y="371.9" width="1521.8" height="245.5" fill="none" stroke="#262626" stroke-width="4.5"/>
<text x="162.7" y="416.54" font-size="28.6" text-anchor="start" fill="#262626" >4</text>
<text x="162.7" y="461.31" font-size="28.6" text-anchor="start" fill="#262626" >2</text>
<text x="162.7" y="506.09" font-size="28.6" text-anchor="start" fill="#262626" >0</text>
<text x="153.17" y="550.86" font-size="28.6" text-anchor="start" fill="#262626" >-2</text>
<text x="153.17" y="595.64" font-size="28.6" text-anchor="start" fill="#262626" >-4</text>
<clipPath id="c1"><rect x="187.85" y="369.7" width="1526.2" height="249.9"/></clipPath>
<g clip-path="url(#c1)">
<g class="n" fill="none" stroke-width="4" stroke-linejoin="round" stroke-linecap="round">
<path transform="translate(190.05,0) scale(1.5852,0.25)" d="M0,1973l1,6 1,-1 1,-5 1,5 1,0 1,4 1,-2 1,3 1,-2 1,-2 1,0 1,0 1,-2 1,0 1,-4 1,2 1,5 1,1 1,-3 1,-3 1,5 1,3 1,-6 1,6 1,-4 1,0 1,1 1,-2 1,-4 1,1 1,2 1,4 1,1 1,0 1,-4 1,4 1,-3 1,2 1,0 1,-1 1,5 1,-4 1,-1 1,6 1,-4 1,0 1,3 1,-6 1,5 1,-2 1,0 1,-4 1,0 1,5 1,-1 1,-6 1,1 1,3 1,-3 1,5 1,-2 1,2 1,0 1,0 1,0 1,-3 1,4 1,5 1,-6 1,5 1,-6 1,5 1,-1 1,-3 1,1 1,-3 1,1 1,-1 1,-4 1,3 1,3 1,-4 1,9 1,-7 1,3 1,-6 1,2 1,-2 1,-4 1,5 1,2 1,-4 1,4 1,1 1,0" stroke="#00009f"/>
<path transform="translate(1017.91,0) scale(1.5852,0.25)" d="M0,1982l1,-2 1,-1 1,2 1,-1 1,-1 1,3 1,-1 1,1 1,-6 1,0 1,2 1,4 1,1 1,-5 1,1 1,0 1,1 1,2 1,-1 1,-2 1,-2 1,-2 1,7 1,-2 1,0 1,-2 1,-7 1,0 1,10 1,-7 1,7 1,-7 1,1 1,6 1,-1 1,-2 1,-2 1,4 1,-2 1,-3 1,4 1,-3 1,3 1,1 1,5 1,0 1,-4 1,-5 1,2 1,4 1,-2 1,-1 1,4 1,-1 1,-3 1,-2 1,0 1,1 1,-4 1,1 1,2 1,0 1,2 1,4 1,-2 1,-2 1,3 1,3 1,-4 1,-4 1,2 1,-1 1,0 1,0 1,-5 1,3 1,-2 1,1" stroke="#00009f"/>
<path transform="translate(1689.85,0) scale(1.5852,0.25)" d="M0,1982l1,-2 1,0 1,3 1,-2 1,1 1,-2 1,1 1,-2 1,6 1,-2 1,3 1,-2 1,-5" stroke="#00009f"/>
<path transform="translate(421.93,0) scale(1.5852,0.25)" d="M0,1983l1,-3 1,-1 1,-2 1,0 1,5 1,-3 1,2 1,-3 1,2 1,1 1,2 1,-7 1,5 1,-3 1,0 1,-2 1,3 1,-1 1,4 1,-2 1,0 1,5 1,-3 1,-3 1,4 1,2 1,-5 1,-3 1,-1 1,2 1,7 1,-5 1,-6 1,7 1,0 1,-3 1,2 1,0 1,-4 1,1 1,3 1,-7 1,2 1,5 1,0 1,-1 1,-1 1,-1 1,8 1,-5 1,4 1,-4 1,2 1,-4 1,0 1,7 1,-3 1,-3 1,1 1,-3 1,-1 1,3 1,5 1,2 1,-4 1,1 1,0 1,-2 1,2 1,-4 1,2 1,0 1,-3 1,4 1,0 1,-1 1,-3 1,0 1,2 1,-1 1,2 1,2 1,-5 1,2 1,0 1,2 1,-5 1,1 1,-2 1,-1 1,0 1,1 1,-1 1,1 1,1 1,-1 1,-2 1,2 1,-1 1,5 1,-3 1,3 1,-1 1,-4 1,-3 1,4 1,3 1,-8 1,5 1,3 1,2 1,-9 1,3 1,5 1,-2 1,0 1,3 1,2 1,-1 1,1 1,-4 1,-1 1,3 1,-3 1,0 1,5 1,0 1,1 1,-4 1,4 1,-2 1,-2 1,-1 1,1 1,-1 1,2 1,0 1,-9 1,7 1,1 1,-6 1,4 1,-3 1,0" stroke="#0000bf"/>
<path transform="translate(334.37,0) scale(1.5852,0.25)" d="M0,1979l1,3 1,-1 1,-5 1,2 1,6 1,-3 1,0 1,4 1,1 1,-5 1,5 1,-4 1,-3 1,3 1,1 1,-1 1,2 1,-1 1,3 1,-1 1,-1 1,-4 1,2 1,0 1,0 1,-3 1,2 1,1 1,-1 1,-1 1,3 1,-6 1,2 1,2 1,-2 1,3 1,1 1,-4 1,5 1,-3 1,1 1,4 1,2 1,-4 1,-5 1,1 1,-3 1,2 1,1 1,0 1,-3 1,7 1,-3 1,-2 1,0 1,-1 1,-1 1,-3 1,6 1,-3 1,-3 1,-3 1,8 1,-2 1,-3 1,2 1,2 1,5 1,-3 1,0 1,-1 1,-1 1,0" stroke="#0000df"/>
<path transform="translate(529.86,0) scale(1.5852,0.25)" d="M0,1978l1,-3 1,6 1,0 1,3 1,0 1,-2 1,0 1,0 1,-3 1,-3 1,5 1,0" stroke="#0000df"/>
<path transform="translate(1243.9,0) scale(1.5852,0.25)" d="M0,1977l1,2 1,0 1,1 1,0 1,-8 1,7 1,-1 1,5 1,-4 1,0 1,2 1,-2 1,-7 1,7 1,-4 1,3 1,1 1,-5 1,0 1,3 1,0 1,5 1,-7 1,-2 1,4 1,-3 1,4 1,0 1,-1 1,2 1,-6 1,4 1,-2 1,-2" stroke="#0000df"/>
<path transform="translate(1131.79,0) scale(1.5852,0.25)" d="M0,1977l1,0 1,1 1,0 1,2 1,0 1,-2 1,4 1,-4 1,0 1,1 1,-1 1,2 1,-1 1,0 1,-1 1,4 1,-1 1,-5 1,3 1,-1 1,-3 1,1 1,-5 1,9 1,-7 1,0 1,4 1,-6 1,6 1,-3 1,0 1,4 1,5 1,-9 1,2 1,4 1,-3 1,3 1,1 1,-3 1,-2 1,1 1,2 1,-1 1,0 1,1 1,2 1,-4 1,-2 1,1 1,1 1,-1 1,4 1,-3 1,0 1,-4 1,5 1,1 1,-4 1,-1 1,2 1,-1 1,-4 1,5 1,-5 1,5 1,1 1,-4 1,2 1,0 1,-2 1,3 1,-2 1,-3 1,2 1,2 1,0 1,0 1,-7 1,6 1,-1 1,0 1,3 1,-2 1,-2 1,-2 1,-1 1,6 1,3 1,0 1,-1 1,5 1,-2 1,-3 1,2 1,3 1,1 1,-1 1,0 1,0 1,2 1,0 1,-4 1,6 1,-1 1,-1 1,0 1,-3 1,3 1,-4 1,0 1,0 1,1 1,2 1,-3 1,1 1,-1 1,-1 1,-1 1,2 1,5 1,-2 1,-4 1,0 1,3 1,-7 1,1 1,2 1,1 1,1 1,0 1,-4 1,-3 1,7 1,-1 1,2 1,-3 1,-1 1,4 1,-2 1,-4 1,-1 1,2 1,0 1,0 1,1 1,-3 1,-3 1,4 1,3 1,-2 1,0 1,4 1,-3 1,3 1,-2 1,0 1,0 1,7 1,-4 1,-3 1,1 1,0 1,-6 1,6 1,-2 1,0 1,1 1,-5 1,4 1,9 1,-8 1,-1 1,6 1,-5 1,1 1,-1 1,-1 1,1 1,0 1,2 1,-1 1,-2 1,2 1,0 1,1 1,4 1,-4 1,4 1,-6 1,-1 1,2 1,0 1,4 1,-4 1,1 1,2 1,-5" stroke="#0000ff"/>
<path transform="translate(566.82,0) scale(1.5852,0.25)" d="M0,1979l1,-4 1,0 1,0 1,1 1,1 1,1 1,-4 1,4 1,-2 1,0 1,-1 1,3 1,-2 1,4 1,-4 1,6 1,1 1,-2 1,0 1,-3 1,1 1,-2 1,6 1,-2 1,-1 1,1 1,1 1,-2 1,-1 1,-3 1,6 1,5 1,-7 1,5 1,-5 1,-3 1,6 1,-5 1,3 1,-1 1,1 1,0 1,5 1,-6 1,-1 1,-3 1,7 1,-4 1,-2 1,7 1,-4 1,3 1,-1 1,-6 1,3 1,-6 1,6 1,-2 1,-1 1,0 1,1 1,1 1,3 1,-3 1,0 1,-2 1,-1 1,3 1,-1 1,-5 1,10 1,-5 1,-1 1,3 1,-9 1,3 1,6 1,-3 1,3 1,-3 1,4 1,-1 1,0 1,-3 1,2 1,1 1,0 1,1 1,-1 1,-1 1,4 1,-1 1,-1 1,-1 1,-5 1,6 1,1 1,1 1,-2 1,1 1,-1 1,1 1,-3 1,3 1,-4 1,2 1,-5 1,6 1,-4 1,-2 1,2 1,-2 1,-2 1,5 1,-3 1,-2 1,-2 1,3 1,-2 1,4 1,-4 1,2 1,2 1,0 1,2 1,1 1,0 1,-7 1,5 1,1 1,4" stroke="#0020ff"/>
<path transform="translate(369.81,0) scale(1.5852,0.25)" d="M0,1978l1,6 1,-4 1,3 1,-4 1,3 1,-4 1,2 1,0 1,2 1,-4 1,0 1,1 1,3 1,-3 1,-1 1,2 1,3 1,-1 1,-3 1,1 1,-3 1,3 1,-1 1,-1 1,1 1,9 1,-7 1,4 1,-1 1,-1 1,-6 1,7 1,3 1,-6 1,2 1,0 1,5 1,3 1,-4 1,-3 1,-2 1,3 1,1 1,-6 1,1 1,1 1,0 1,-5 1,5 1,-2 1,1 1,-2 1,1 1,3 1,-3 1,0 1,0 1,1 1,-1 1,-1 1,4 1,-6 1,8 1,-12 1,2 1,-1 1,1 1,2 1,2 1,1 1,-1 1,0 1,-2 1,4 1,-3 1,-6 1,10 1,-4 1,1 1,5 1,-4 1,2 1,-2 1,1 1,-4 1,-1 1,2 1,4 1,-4 1,2 1,-1 1,-5 1,6 1,6 1,-8 1,-5 1,6 1,-1 1,3 1,2 1,-7 1,4 1,-1 1,-3 1,2 1,-2 1,3 1,-2 1,5 1,-1 1,1 1,-1 1,-5 1,0 1,6 1,-2 1,-1 1,-1 1,1 1,-2 1,2 1,-4 1,2 1,4 1,-8 1,5 1,-2 1,2 1,-5 1,5 1,-3 1,0 1,3 1,3 1,-2 1,0" stroke="#0040ff"/>
<path transform="translate(1437.86,0) scale(1.5852,0.25)" d="M0,1980l1,0 1,1 1,-4 1,3 1,3 1,2 1,-4 1,3 1,-6 1,1 1,3 1,-1 1,2 1,2 1,-4 1,-3 1,2 1,-2 1,-4 1,5 1,-2 1,5 1,-6 1,2 1,2 1,-1 1,-1 1,-1 1,1 1,-2 1,1 1,-4 1,-10 1,15 1,-3 1,-3 1,5 1,-1 1,0 1,-2 1,-1 1,3 1,2 1,-2 1,-1 1,2 1,0 1,3 1,1 1,-3 1,-2 1,0 1,1 1,2 1,-6 1,3 1,-1 1,-4 1,8 1,-2 1,-1 1,3 1,2 1,-1 1,-1 1,-1 1,-2 1,-2 1,-1 1,1 1,-1 1,0 1,2 1,3 1,-1 1,1 1,-1 1,4 1,-1 1,0 1,0 1,-3 1,1 1,0 1,-2 1,1 1,-2 1,2 1,6 1,-7 1,5 1,0 1,1 1,-2 1,-4 1,5 1,1 1,3 1,1 1,-4 1,-2 1,2 1,-1 1,0 1,1 1,-1 1,1 1,-1 1,-5 1,4 1,-1 1,2 1,0 1,2 1,2 1,-4 1,1 1,-2 1,4 1,-5 1,4 1,-4 1,1 1,6 1,-5 1,-3 1,6 1,-2 1,-4 1,4 1,2" stroke="#0060ff"/>
<path transform="translate(869.91,0) scale(1.5852,0.25)" d="M0,1980l1,1 1,-1 1,-2 1,3 1,-1 1,-2 1,3 1,1 1,-5 1,4 1,0 1,1 1,-2 1,1 1,-5 1,7 1,-2 1,3 1,-2 1,0 1,1 1,0 1,-7 1,5 1,-3 1,1 1,-5 1,8 1,-2 1,-5 1,4 1,-4 1,1 1,1 1,1 1,1 1,-3" stroke="#0080ff"/>
<path transform="translate(1510.85,0) scale(1.5852,0.25)" d="M0,1983l1,-2 1,-2 1,4 1,-1 1,-2 1,3 1,-6 1,-2 1,5 1,-1 1,6 1,-1 1,-4 1,-1 1,-4 1,4 1,4 1,3 1,-6 1,-3 1,2 1,1 1,-1 1,-3 1,3 1,0 1,3 1,-11 1,4 1,0 1,2 1,-2 1,0 1,1 1,-1 1,1 1,1 1,0 1,-1 1,1 1,-1 1,0 1,2 1,-2 1,3 1,2 1,0 1,2 1,-2 1,-1 1,2 1,-1 1,-7 1,6 1,2 1,3 1,-2 1,1 1,-5 1,7 1,-1 1,-1 1,-4 1,2 1,1 1,2 1,-3 1,-1 1,1 1,-3 1,6 1,3 1,-7 1,1 1,-5 1,-3 1,3 1,2 1,0 1,0 1,-1 1,-2 1,2 1,0 1,-1 1,-1 1,-1 1,1 1,6 1,-3 1,-4 1,-1 1,3 1,3 1,-4 1,-1 1,1 1,2 1,0 1,-2 1,1 1,-1 1,-3 1,5 1,2 1,-6 1,5 1,1 1,-1 1,0 1,1 1,1 1,-5 1,7 1,-9 1,6 1,0 1,-1 1,4 1,-4 1,2" stroke="#0080ff"/>
<path transform="translate(552.81,0) scale(1.5852,0.25)" d="M0,1975l1,2 1,4 1,2 1,-3 1,-2 1,2 1,1 1,-5 1,1 1,5 1,1 1,-1 1,0 1,-9 1,4 1,1 1,2 1,3 1,-5 1,3 1,1 1,-1 1,1 1,3 1,-4 1,4 1,0 1,-4 1,0 1,2 1,-1 1,2 1,-2 1,-2 1,0 1,4 1,-1 1,-1 1,2 1,1 1,2 1,-8 1,1 1,2 1,-1 1,2 1,-2 1,4 1,0 1,-3 1,-1" stroke="#009fff"/>
<path transform="translate(1321.83,0) scale(1.5852,0.25)" d="M0,1976l1,4 1,-6 1,3 1,2 1,3 1,-4 1,0 1,-3 1,-1 1,2 1,0 1,11 1,-5 1,-1 1,-1 1,2 1,3 1,-6 1,-1 1,0 1,-1 1,3 1,-2 1,4 1,-5 1,-1 1,3 1,-3 1,1 1,1 1,-4 1,-1 1,4 1,-2 1,-3 1,0 1,4 1,-4 1,3 1,2 1,3 1,-1 1,1 1,-3 1,3 1,-4 1,-4 1,6 1,3 1,-3 1,2 1,0 1,0 1,-1 1,0 1,-2 1,3 1,3 1,-10 1,10 1,-4 1,-1 1,0 1,4 1,-3 1,-1 1,1 1,2 1,4 1,-1 1,-4 1,-2 1,4 1,-4 1,-1 1,-4 1,5 1,2 1,-1 1,4 1,-2 1,3 1,-6 1,4 1,-2 1,2 1,1 1,-6 1,1 1,-4 1,6 1,-3 1,-2 1,5 1,-3 1,2 1,1 1,0 1,1 1,-4 1,4 1,-3 1,3 1,1 1,1 1,-7 1,2 1,2 1,-3 1,-6 1,3 1,7 1,-4 1,2 1,-4" stroke="#009fff"/>
<path transform="translate(859.9,0) scale(1.5852,0.25)" d="M0,1979l1,-5 1,6 1,-3 1,-6 1,1 1,2 1,8 1,0 1,-4 1,0 1,-1 1,-4 1,5 1,4 1,-8 1,2 1,2 1,2 1,-2 1,0 1,3 1,-3 1,-4 1,-1 1,2 1,2 1,-4 1,0 1,2 1,3 1,-2 1,-1 1,-3 1,5 1,-1 1,7 1,-6 1,3 1,-3 1,-2 1,1 1,-2 1,-2 1,4 1,0 1,3 1,-3 1,0 1,-3 1,6 1,-2 1,-5 1,2 1,-1 1,4 1,2 1,3 1,-1 1,-7 1,4 1,-1 1,-5 1,6 1,0 1,-2 1,2 1,-8 1,4 1,1 1,1 1,-2 1,6 1,-3 1,-4 1,6 1,-8 1,7 1,-3 1,-4 1,3 1,1 1,-1 1,0 1,1 1,5 1,-3 1,-1 1,-1 1,7 1,-1 1,-2 1,1 1,-1 1,-2 1,4 1,-6 1,2 1,-1 1,-1 1,-2 1,4 1,-1 1,2 1,5 1,-6 1,4 1,0 1,-2 1,7 1,-4 1,2 1,-4 1,-13 1,16 1,0 1,2 1,-1 1,-1 1,-3 1,-4 1,4 1,-3 1,6 1,-6 1,1 1,-2 1,0 1,-1 1,4 1,-1 1,1 1,-2 1,1 1,-5 1,5 1,-6 1,2" stroke="#00bfff"/>
<path transform="translate(190.05,0) scale(1.5852,0.25)" d="M0,1983l1,-4 1,-1 1,3 1,-2 1,4 1,0 1,-3 1,0 1,-3 1,2 1,1 1,0 1,4 1,-2 1,5 1,-4 1,0 1,2 1,0 1,-5 1,4 1,2 1,-6 1,4 1,-5 1,3 1,0 1,4 1,-9 1,2 1,-3 1,4 1,-5 1,5 1,-4 1,3 1,2 1,-2 1,-8 1,3 1,5 1,-6" stroke="#00dfff"/>
<path transform="translate(952.03,0) scale(1.5852,0.25)" d="M0,1978l1,0 1,0 1,-2 1,-1 1,-2 1,5 1,-3 1,-1 1,-1 1,-1 1,7 1,-2 1,1 1,4 1,0 1,0 1,-5 1,-1 1,5 1,-7 1,6 1,-5 1,4 1,4 1,2 1,-4 1,4 1,-2 1,1 1,0 1,-3 1,4 1,3 1,-1 1,-3 1,-2 1,3 1,0 1,-5 1,3 1,4 1,-2 1,0 1,-1 1,1 1,-5 1,-1 1,6 1,-1 1,-1 1,-6" stroke="#00dfff"/>
<path transform="translate(1612.93,0) scale(1.5852,0.25)" d="M0,1976l1,1 1,0 1,-2 1,5 1,-1 1,-1 1,-3 1,5 1,5 1,-10 1,2 1,2 1,2 1,1 1,3 1,-3 1,3 1,-7 1,6 1,-4 1,1 1,3 1,-1 1,-3 1,5 1,-7 1,5 1,-6 1,-2 1,3 1,2 1,-3 1,3 1,-2 1,-3 1,-2 1,8 1,-1 1,-4 1,1 1,1 1,-2 1,-2 1,5 1,-2 1,3 1,-2 1,1 1,-2 1,1 1,-1 1,-3 1,5 1,-3 1,5 1,-8 1,5 1,-9 1,2 1,7 1,-1 1,-2" stroke="#00dfff"/>
<path transform="translate(363.85,0) scale(1.5852,0.25)" d="M0,1976l1,1 1,-1 1,7 1,-6 1,0 1,2 1,0 1,1 1,-7 1,-2 1,0 1,4 1,2 1,-3 1,-2 1,5 1,-2 1,5 1,-9 1,5 1,-7 1,6 1,-3 1,3 1,3 1,-1 1,-1 1,-2 1,-2 1,6 1,-1 1,2 1,-4 1,1 1,1 1,3 1,-4 1,-2 1,2 1,2 1,3 1,0 1,0 1,-2 1,-4 1,2 1,3 1,3 1,-7 1,8 1,-4 1,5 1,-1 1,0 1,2 1,-7 1,2 1,-3 1,4 1,2 1,-1 1,-4 1,1 1,4 1,-2 1,-1 1,0 1,-1 1,2 1,-5 1,0 1,-5 1,0 1,2 1,2 1,2 1,2 1,1 1,3 1,3 1,-4 1,-4 1,6 1,-1 1,0 1,-6 1,4 1,1 1,-7 1,-1 1,10 1,-6 1,-2 1,-1 1,1 1,1 1,-1 1,1 1,-2 1,0 1,-3 1,-1 1,4 1,4 1,-4 1,-1 1,3 1,0 1,-6 1,3" stroke="#00ffff"/>
<path transform="translate(1091.84,0) scale(1.5852,0.25)" d="M0,1978l1,2 1,0 1,0 1,1 1,2 1,0 1,-4 1,-3 1,4 1,5 1,-4 1,-1 1,-2 1,2 1,-2 1,2 1,-2 1,-2 1,1 1,2 1,3 1,1 1,-1 1,0 1,-1 1,1 1,-2 1,0 1,-1 1,5 1,-8 1,1 1,2 1,-1 1,6 1,-2 1,5 1,-7 1,-3 1,6 1,-7 1,4 1,-3 1,-4 1,3 1,4 1,-5 1,-2 1,2 1,0 1,1 1,-4 1,3 1,-1 1,0 1,-4 1,2 1,-2 1,8 1,-4 1,3 1,-2 1,1 1,-7 1,4 1,-1 1,6 1,0 1,-1 1,0" stroke="#00ffff"/>
<path transform="translate(722.87,0) scale(1.5852,0.25)" d="M0,1975l1,5 1,-2 1,2 1,2 1,0 1,0 1,-12 1,11 1,2 1,-3 1,-4 1,8 1,-4 1,-2 1,2 1,-1 1,-3 1,5 1,-3 1,-1 1,2 1,3 1,0 1,2 1,-1 1,2 1,-5 1,2 1,-3 1,0 1,-5 1,3 1,1 1,-3 1,4 1,-5 1,4 1,-3 1,5 1,0 1,-2 1,3 1,-3 1,1 1,1 1,4 1,0 1,0 1,0 1,1 1,-4 1,3 1,0 1,-1 1,-5 1,3 1,-2 1,3 1,-3 1,1 1,1 1,3 1,-5 1,-7 1,5 1,1 1,-4 1,1 1,0 1,1 1,-1 1,3 1,-5 1,9 1,-7 1,2 1,2 1,-1 1,-2 1,5 1,-5 1,0 1,3 1,6 1,-5 1,0 1,1 1,-6 1,4 1,2 1,-1 1,-1 1,-4 1,5 1,7 1,-7 1,-4 1,3 1,-1 1,-2 1,3 1,-5 1,5 1,-1 1,1 1,-1 1,2" stroke="#20ffdf"/>
<path transform="translate(1576.92,0) scale(1.5852,0.25)" d="M0,1978l1,1 1,-5 1,6 1,-4 1,-1 1,-1 1,1 1,4 1,-10 1,6 1,4 1,-2 1,-5 1,5 1,0 1,-1 1,0 1,2 1,4 1,-2 1,0 1,-1 1,2 1,-1 1,0 1,1 1,3 1,-3 1,-2 1,5 1,-3 1,-2 1,3 1,-1 1,-4 1,2 1,-1 1,1 1,2 1,-4 1,3 1,-5 1,4 1,0 1,-4 1,5 1,-5 1,5 1,-7 1,1 1,6 1,-3 1,3 1,0 1,-1 1,1 1,3 1,-2 1,0 1,-1 1,-2 1,4 1,-3 1,3 1,2 1,1 1,-2 1,5 1,-7 1,2 1,0 1,-2" stroke="#20ffdf"/>
<path transform="translate(1034.9,0) scale(1.5852,0.25)" d="M0,1976l1,3 1,-3 1,3 1,-3 1,-2 1,0 1,4 1,-6 1,2 1,3 1,2 1,1 1,-1 1,1 1,-2 1,0 1,-1 1,-2 1,6 1,-3 1,1 1,0 1,5 1,-2 1,-6 1,2 1,-1 1,0 1,0 1,4 1,-8 1,6 1,0 1,0 1,-5 1,7 1,-8 1,-2 1,6 1,1 1,2 1,2 1,-1 1,1 1,4 1,-4 1,-5 1,1 1,2 1,-1 1,1 1,-3 1,-1 1,2 1,0 1,-1 1,2 1,-8 1,3 1,2 1,5 1,-7 1,4 1,2 1,-5 1,-2 1,1 1,6 1,-2 1,4 1,-3 1,2 1,-4 1,1 1,-4 1,1 1,0 1,7 1,-5 1,-1 1,2 1,-7 1,2 1,0 1,2 1,4 1,-5 1,4 1,1 1,5 1,-4 1,4 1,-4 1,1 1,2 1,0 1,-3 1,1 1,2 1,1 1,-4 1,4 1,4 1,-1 1,-2 1,-3 1,5 1,-2 1,2 1,-6 1,-2 1,2 1,0 1,2 1,-4 1,4 1,-4 1,3 1,2 1,-5 1,0 1,0 1,2 1,2 1,1 1,-6 1,3 1,-4 1,-3 1,6 1,-3 1,-5 1,1 1,3 1,-3 1,4" stroke="#40ffbf"/>
<path transform="translate(712.85,0) scale(1.5852,0.25)" d="M0,1977l1,1 1,5 1,-3 1,-4 1,3 1,1 1,1 1,-4 1,2 1,-1 1,5 1,5 1,-6 1,-3 1,5 1,-6 1,-1 1,2 1,2 1,3 1,-3 1,-3 1,1 1,-1 1,2 1,-2 1,1 1,1 1,-1 1,2 1,-3 1,1 1,-1 1,3 1,-1 1,-1 1,3 1,-1 1,-6 1,2 1,-1 1,1 1,-2 1,0 1,0 1,2 1,0 1,-2 1,3 1,-5 1,3 1,0 1,-1 1,2 1,-2 1,3 1,-5 1,-4 1,5 1,-1 1,5 1,0 1,-2 1,3 1,1 1,-1 1,-2 1,2 1,-6 1,4 1,5 1,-6 1,-1 1,0 1,2 1,0 1,4 1,-1 1,-5 1,-1 1,-3 1,2 1,0 1,7 1,-5 1,-4 1,6 1,-4 1,0 1,-1 1,3 1,4 1,1 1,-3 1,2 1,-2 1,2 1,-2 1,-1 1,4 1,2 1,-1 1,2 1,-3 1,-2 1,4 1,0 1,-5 1,2 1,4 1,0 1,-2 1,-4 1,3 1,4 1,-4 1,-7 1,10 1,-5 1,0 1,5 1,-3 1,-2 1,5 1,-5 1,0 1,-1 1,0 1,3 1,1 1,-1 1,3 1,-3 1,1 1,-2 1,-1 1,4 1,0 1,-1 1,-1 1,4 1,-6 1,3 1,1 1,-2 1,0 1,-3 1,0 1,0 1,0 1,-3" stroke="#60ff9f"/>
<path transform="translate(1353.97,0) scale(1.5852,0.25)" d="M0,1982l1,-2 1,-4 1,0 1,-2 1,-2 1,6 1,-6 1,7 1,-2 1,-8 1,9 1,1 1,-2 1,0 1,-4 1,1 1,3 1,-4 1,3 1,-3 1,3 1,6 1,-6 1,0 1,1 1,-2 1,7 1,-10 1,0 1,2 1,4 1,-2 1,-3 1,1 1,6 1,2 1,-4 1,-3 1,5 1,-2 1,-3 1,7 1,-9 1,4 1,-3 1,1 1,0 1,3 1,1 1,0 1,-4 1,2 1,-1 1,1 1,-1 1,1 1,3 1,0 1,-1 1,4 1,-6 1,7 1,-3 1,1 1,5 1,-7 1,-1 1,0 1,7 1,-4 1,1 1,-3 1,3 1,-3 1,1 1,0 1,-1 1,3 1,-2 1,-1 1,0 1,7 1,-4 1,-6 1,3 1,0 1,4 1,-3 1,2 1,1 1,-2 1,-4 1,-2 1,5 1,0 1,-1 1,-2 1,3 1,1 1,2 1,-2 1,-3 1,4 1,-3 1,1 1,-1 1,-2 1,3 1,-6 1,5 1,-2 1,0 1,-2 1,0 1,8 1,-13 1,11 1,-3 1,1" stroke="#80ff80"/>
<path transform="translate(217.44,0) scale(1.5852,0.25)" d="M0,1976l1,3 1,2 1,2 1,-1 1,-2 1,1 1,4 1,-2 1,-6 1,-1 1,3 1,-2 1,1 1,3 1,-5 1,1 1,2 1,1 1,-2 1,0 1,3 1,-4 1,3 1,-1 1,1 1,-1 1,2 1,-3 1,3 1,-3 1,0 1,5 1,-5 1,3 1,-2 1,-2 1,3 1,-2 1,1 1,2 1,-6 1,5 1,-2 1,-1 1,0 1,-3 1,5 1,-2 1,-1 1,4 1,-3 1,4 1,-5 1,2 1,-3 1,2 1,2 1,1 1,1 1,0 1,3 1,-1 1,-1 1,-1 1,-1 1,1 1,-6 1,2 1,1 1,3 1,-2 1,-2 1,2 1,1 1,0 1,-3 1,1 1,-5 1,4 1,-3 1,2 1,-5 1,7 1,-2 1,1 1,2 1,-2 1,0 1,-1 1,0 1,-4 1,-2 1,3 1,1 1,-1 1,2 1,3 1,0 1,0 1,-1 1,2 1,-2 1,3 1,-5 1,3 1,-1 1,3 1,0 1,-3 1,2 1,3 1,0 1,1 1,-4 1,1 1,-1 1,-2 1,5 1,0 1,-2 1,1 1,1 1,3 1,0 1,2 1,-1 1,0 1,-2 1,-5 1,8 1,-6 1,0 1,7 1,-7 1,4 1,1 1,-1 1,-3 1,2" stroke="#9fff60"/>
<path transform="translate(670.88,0) scale(1.5852,0.25)" d="M0,1980l1,3 1,-3 1,0 1,-3 1,3 1,1 1,-2 1,-1 1,0 1,-4 1,5 1,-4 1,8 1,-3 1,-1 1,0 1,-2 1,-2 1,7 1,-7 1,-1 1,5 1,-3 1,0 1,-1 1,4 1,-2 1,-1 1,0 1,4 1,-5 1,1 1,2 1,-1 1,-1 1,1 1,1 1,0 1,2 1,0 1,1 1,0 1,2 1,2 1,0 1,-6 1,6 1,-4 1,2 1,-1 1,-3 1,5 1,-3 1,2 1,-5 1,2 1,0 1,0 1,-3 1,3 1,-3 1,3 1,-5 1,-1 1,-14 1,14 1,1 1,-2 1,4 1,-1 1,-1 1,0 1,6 1,-4 1,0 1,0 1,-5 1,0 1,0 1,2 1,-1 1,-3 1,2 1,-1 1,7 1,-2 1,3 1,-3 1,-1 1,4 1,-2 1,6 1,-2 1,2 1,-6 1,3 1,-5 1,6 1,-2 1,-2 1,-4 1,0 1,1 1,3 1,0 1,0 1,-2 1,3 1,-2 1,-1 1,0 1,-2 1,-2 1,4 1,-2 1,1 1,-2 1,-1 1,1 1,2 1,1 1,0 1,-2 1,0 1,0 1,3 1,-2 1,1 1,-2 1,-3 1,0 1,1 1,7 1,1" stroke="#bfff40"/>
<path transform="translate(260.43,0) scale(1.5852,0.25)" d="M0,1980l1,-6 1,7 1,-5 1,3 1,0 1,0 1,1 1,0 1,1 1,-2 1,3 1,-4 1,-1 1,8 1,-1 1,2 1,-4 1,-2 1,2 1,-4 1,7 1,-5 1,6 1,-4 1,1 1,-1 1,-1 1,-2 1,-2 1,4 1,-5 1,-1 1,5 1,-5 1,-2 1,5 1,-3 1,1 1,0 1,2 1,-5 1,6 1,4 1,-4 1,-4 1,2 1,-1 1,0 1,0 1,0 1,3 1,1 1,-5 1,7 1,-1 1,2 1,0 1,-3 1,-2 1,1 1,1 1,-1 1,3 1,3 1,-5 1,1 1,-4 1,1 1,5 1,-3 1,-2 1,-1 1,3 1,1 1,-1 1,-2 1,1 1,-1 1,-1 1,3 1,1 1,-2 1,2 1,-5 1,4 1,-1 1,-8 1,6 1,5 1,-4 1,-2 1,1 1,-1 1,3 1,-4 1,1 1,9 1,-6 1,1 1,0 1,0 1,1 1,-4 1,1 1,4 1,-5 1,-2 1,2 1,1 1,4 1,2 1,0 1,0 1,-3 1,3 1,-2 1,-3 1,-4 1,3 1,1 1,3 1,1 1,-2 1,-3 1,1 1,-3 1,5 1,-1 1,-4 1,3 1,3 1,-1 1,-1 1,1 1,0 1,2 1,1 1,-7 1,-1 1,6 1,1 1,-2 1,-1 1,-4 1,6 1,-5" stroke="#dfff20"/>
<path transform="translate(784.95,0) scale(1.5852,0.25)" d="M0,1981l1,4 1,-4 1,2 1,2 1,-2 1,-2 1,0 1,-1 1,3 1,-2 1,0 1,0 1,7 1,-6 1,-4 1,0 1,-2 1,2 1,0 1,2 1,0 1,1 1,0 1,-4 1,3 1,-3 1,8 1,-2 1,1 1,-5 1,4 1,-1 1,2 1,0 1,-3 1,-2 1,1 1,-1 1,-2 1,-2 1,4 1,-5 1,4 1,-2 1,1 1,-1 1,-1 1,-3 1,1 1,2 1,5 1,-1 1,-2 1,-1 1,-5 1,5 1,0 1,1 1,-3 1,5 1,-3 1,6 1,-3 1,-4 1,6 1,-1 1,0 1,1 1,3 1,0 1,-5 1,0 1,0 1,5 1,0 1,-7 1,4 1,-1 1,-1 1,1 1,-2 1,-1 1,2 1,-5 1,4 1,-2 1,0 1,-2 1,3 1,-2 1,-1 1,-2 1,1 1,4 1,-2 1,-6 1,5 1,-4 1,4 1,0 1,-5 1,6 1,3 1,-5 1,6 1,-3 1,-3 1,0 1,1 1,-3 1,4 1,-3 1,2 1,-1 1,-4 1,4 1,-2 1,6 1,-2 1,-3 1,2 1,1 1,1 1,0 1,-3 1,0 1,2 1,6 1,0 1,0 1,0 1,2 1,-4 1,-2 1,0 1,1 1,2 1,-2 1,0" stroke="#ffff00"/>
<path transform="translate(313.89,0) scale(1.5852,0.25)" d="M0,1981l1,-2 1,0 1,0 1,0 1,-2 1,1 1,-1 1,3 1,-4 1,6 1,0 1,2 1,3 1,-10 1,5 1,2 1,-2 1,1 1,-4 1,0 1,1 1,0 1,3 1,-3 1,-2 1,5 1,-5 1,7 1,-3 1,-5 1,4 1,1 1,-2 1,3 1,4 1,0 1,1 1,-6 1,-1 1,5 1,-6 1,7 1,-6" stroke="#ffbf00"/>
<path transform="translate(1079.86,0) scale(1.5852,0.25)" d="M0,1977l1,1 1,3 1,1 1,-2 1,2 1,1 1,-1 1,-4 1,5 1,-1 1,1 1,3 1,-3 1,1 1,0 1,-4 1,-1 1,3 1,1 1,-4 1,4 1,2 1,-4 1,-2 1,4 1,1 1,2 1,-1 1,-1 1,-2 1,-2 1,5 1,-3 1,-1 1,-4 1,3 1,-2 1,0 1,-1 1,-2 1,-1 1,8 1,-3 1,-3 1,1 1,3 1,-2 1,-2 1,2 1,-1 1,2 1,0 1,1 1,3 1,-2 1,3 1,0 1,3 1,-9 1,6 1,2 1,-4 1,1 1,-1 1,0 1,0 1,-3 1,8 1,-7 1,4 1,-7 1,-7 1,8 1,-1 1,0 1,-1 1,-1 1,2 1,1 1,-1 1,6 1,-5 1,0 1,4 1,-5 1,-2 1,1 1,0 1,4 1,-2 1,0 1,-1 1,0 1,2 1,0 1,-3 1,6 1,-2 1,-3 1,0 1,4 1,-4 1,1 1,-3 1,8" stroke="#ffbf00"/>
<path transform="translate(255.93,0) scale(1.5852,0.25)" d="M0,1980l1,0 1,-1 1,-1 1,-3 1,6 1,0 1,0 1,6 1,-7 1,1 1,5 1,-4 1,1 1,-3 1,-2 1,5 1,-4 1,4 1,-6 1,5 1,-4 1,3 1,-7 1,7 1,-3 1,0 1,4 1,3 1,-9 1,5 1,-7 1,4 1,-4 1,5 1,3 1,-6 1,1 1,2 1,0 1,-1 1,-3 1,2 1,0 1,-1 1,-3 1,4 1,-4 1,2 1,-2 1,-3 1,0 1,4 1,-2 1,1 1,-1 1,3 1,-4 1,7 1,-1 1,-3 1,-2 1,4 1,-1 1,-3 1,3 1,-5 1,3" stroke="#ff8000"/>
<path transform="translate(922.86,0) scale(1.5852,0.25)" d="M0,1988l1,-13 1,11 1,3 1,-2 1,-4 1,0 1,9 1,-5 1,-4 1,0 1,-1 1,0 1,-2 1,18 1,-10 1,1 1,1 1,-8 1,4 1,-4 1,0 1,5 1,3 1,-12 1,14 1,-14 1,9 1,1 1,0 1,-3 1,11 1,-5 1,3 1,0 1,4 1,-7 1,5 1,-14 1,-14 1,14 1,-2 1,3 1,-4 1,6 1,-1 1,-1 1,5 1,-3 1,-2 1,-2 1,2 1,-1 1,2 1,-4 1,-4 1,4 1,4 1,1 1,1 1,-7 1,5 1,-1 1,1 1,-5 1,0 1,-2 1,0 1,5 1,-1 1,2 1,-3 1,-4 1,2 1,-2 1,3 1,3 1,0 1,2 1,-2 1,-1 1,0 1,2 1,5 1,-6 1,-2 1,5 1,-8 1,9 1,-3 1,-4 1,3 1,0 1,3 1,-3 1,-2 1,-1 1,7 1,-6 1,-4 1,4 1,0 1,1" stroke="#ff8000"/>
<path transform="translate(427.96,0) scale(1.5852,0.25)" d="M0,1979l1,2 1,-5 1,6 1,-4 1,5 1,-1 1,0 1,-5 1,1 1,3 1,-3 1,4 1,-1 1,-3 1,0 1,1 1,-3 1,4 1,-3 1,0 1,5 1,-9 1,5 1,-2 1,-2 1,7 1,-8 1,3 1,-1 1,4 1,-3 1,2 1,0 1,0 1,-2 1,-4 1,5 1,2 1,-2 1,0 1,-3 1,5 1,-5 1,5 1,-4 1,1 1,-2 1,4 1,-3 1,0 1,2 1,-7 1,8 1,-2 1,0 1,5 1,-6 1,0 1,1 1,5 1,-1 1,-1 1,2 1,4 1,-2 1,-4 1,5 1,-1 1,0 1,0 1,0 1,8 1,-10 1,-1 1,-3 1,2 1,-6 1,3 1,-2 1,4 1,1 1,-2 1,-2 1,-1 1,4 1,3 1,-7 1,3 1,-2 1,-3 1,1 1,2 1,-3 1,-5 1,7" stroke="#ff6000"/>
<path transform="translate(1124.82,0) scale(1.5852,0.25)" d="M0,1981l1,0 1,-6 1,7 1,-3 1,-1 1,8 1,-2 1,-4 1,-4 1,-2 1,8 1,-5 1,0 1,-5 1,1 1,3 1,-3 1,2 1,-3 1,-1 1,1 1,11 1,-9 1,2 1,3 1,-7 1,6 1,-4 1,6 1,0 1,0 1,-2 1,4 1,-3 1,2 1,-4 1,1 1,3 1,-3 1,2 1,-2 1,-4 1,4 1,1 1,5 1,-3 1,2 1,-8 1,0 1,5 1,0 1,2 1,-6 1,-1 1,3 1,3 1,1 1,1 1,-7 1,4 1,4 1,-5 1,3 1,0 1,1 1,-3 1,3 1,1 1,-1 1,1 1,-7 1,5 1,0 1,-3 1,0 1,-2 1,3 1,-3 1,11 1,-5 1,-3 1,-4 1,3 1,0 1,-1 1,3 1,-6 1,2" stroke="#ff6000"/>
<path transform="translate(644.94,0) scale(1.5852,0.25)" d="M0,1980l1,-1 1,-1 1,-2 1,-1 1,6 1,1 1,-7 1,6 1,0 1,0 1,0 1,2 1,-2 1,2 1,-1 1,-3 1,3 1,-2 1,0 1,5" stroke="#ff4000"/>
<path transform="translate(1269.89,0) scale(1.5852,0.25)" d="M0,1980l1,-1 1,0 1,5 1,-4 1,5 1,0 1,-3 1,1 1,-3 1,6 1,0 1,4 1,-6 1,2 1,-5 1,7 1,-5 1,0 1,1 1,0 1,-1 1,1 1,-1 1,-2 1,1 1,-4 1,5 1,-1 1,0 1,0 1,0 1,3 1,-4 1,3 1,-1 1,1 1,-3 1,-4 1,4 1,0 1,-4 1,0 1,2 1,6 1,-6 1,-1 1,5 1,-7 1,2 1,5 1,0 1,2 1,-6 1,3 1,1 1,-4 1,0 1,-3 1,3 1,4 1,-1 1,-5 1,5 1,0 1,-4 1,-1 1,3 1,-4 1,5 1,1 1,-1 1,1 1,-3 1,4 1,-2 1,-2 1,3 1,-2 1,-1 1,-1 1,1 1,1 1,5 1,-4 1,4 1,-2 1,2 1,-2 1,1 1,-5 1,3 1,-1 1,0 1,-5 1,5 1,-3 1,-1 1,7 1,-3 1,2 1,1 1,-2 1,1 1,1 1,-4 1,-1 1,0 1,0 1,0 1,1 1,-3 1,0 1,4 1,0 1,-2 1,-2 1,0 1,-5 1,6 1,-4 1,5 1,-1 1,-2" stroke="#ff4000"/>
<path transform="translate(795.98,0) scale(1.5852,0.25)" d="M0,1978l1,-3 1,2 1,0 1,0 1,0 1,-4 1,4 1,0 1,1 1,2 1,0 1,-3 1,2 1,0 1,1 1,0 1,-2 1,-1 1,2 1,3 1,-1 1,-4 1,3 1,-3 1,0 1,-3 1,3 1,-7 1,8 1,-4 1,1 1,-2 1,1 1,2 1,3 1,2 1,-2 1,-2 1,0 1,-3 1,5 1,1 1,-4 1,4 1,0 1,6 1,-6 1,-2 1,-1 1,2 1,2 1,-4 1,5 1,-2 1,-7 1,6 1,2 1,0 1,-1 1,0 1,2 1,-1 1,-1 1,-1 1,2 1,-5 1,5 1,-4 1,-2" stroke="#ff2000"/>
<path transform="translate(1457.9,0) scale(1.5852,0.25)" d="M0,1982l1,-3 1,1 1,-5 1,4 1,4 1,-4 1,1 1,1 1,2 1,-3 1,-3 1,6 1,0 1,-2 1,0 1,-1 1,1 1,1 1,-1 1,3 1,-2 1,1 1,-3 1,2 1,0 1,-1 1,0 1,3 1,-2 1,0 1,-4 1,3 1,-2 1,0 1,6 1,-5 1,0 1,1 1,2 1,-4 1,3 1,-1 1,-7 1,5 1,-2 1,2 1,4 1,-6 1,0 1,-1 1,7 1,-3 1,-4 1,6 1,-2 1,-3 1,1 1,1 1,-1 1,2 1,2 1,-1 1,1 1,-5 1,6 1,3 1,3 1,-7 1,7 1,-5 1,0 1,6 1,-5 1,2 1,1 1,-7 1,-1 1,8 1,-1 1,-4 1,1 1,-1 1,3 1,-2 1,1 1,-5 1,2 1,-3 1,2 1,-5 1,-1 1,-2 1,2 1,5 1,-9 1,8 1,1 1,-3 1,2 1,-4 1,1 1,-4 1,3 1,7 1,-3 1,0 1,-3 1,0 1,-5 1,4 1,-1 1,0" stroke="#ff2000"/>
<path transform="translate(190.05,0) scale(1.5852,0.25)" d="M0,1977l1,4 1,9 1,-3 1,-6 1,-1 1,2 1,0 1,-3 1,1 1,-3 1,3 1,-3 1,4 1,-4 1,1 1,1 1,-1 1,5 1,-1 1,2 1,-4 1,-2 1,4 1,-1 1,-1 1,-2 1,2 1,0 1,1 1,-2 1,3 1,-1 1,5 1,-8 1,1 1,4 1,-6 1,3 1,5 1,1 1,-2 1,2 1,-6 1,2 1,0 1,0 1,-3 1,3 1,-2 1,-5 1,4 1,4 1,1 1,-4 1,5 1,1 1,-1 1,2 1,-5 1,-6 1,6 1,-2 1,-1 1,3 1,-1 1,-3 1,6 1,-5 1,1 1,2 1,2 1,-2 1,2 1,-4 1,3 1,3 1,-1 1,-6 1,-1 1,7 1,-1 1,-2 1,0 1,1 1,1" stroke="#ff0000"/>
<path transform="translate(1630.88,0) scale(1.5852,0.25)" d="M0,1977l1,0 1,-2 1,-2 1,2 1,1 1,-1 1,2 1,-4 1,2 1,4 1,-2 1,1 1,0 1,-3 1,2 1,6 1,-4 1,1 1,1 1,0 1,-2 1,1 1,-4 1,6 1,-6 1,-1 1,8 1,-8 1,4 1,0 1,5 1,-3 1,-3 1,6 1,-7 1,-4 1,7 1,-4 1,2 1,4 1,-7 1,1 1,-1 1,-3 1,7 1,-6 1,1 1,-4 1,2 1,-2 1,-1" stroke="#ff0000"/>
<path transform="translate(537.84,0) scale(1.5852,0.25)" d="M0,1981l1,-2 1,0 1,-3 1,4 1,-6 1,0 1,2 1,0 1,-1 1,1 1,-2 1,3 1,-2 1,-1 1,0 1,0 1,4 1,2 1,2 1,-1 1,0 1,-2 1,-3 1,4 1,-4 1,5 1,3 1,-2 1,0 1,-3 1,3 1,0 1,-3 1,-4 1,4 1,-4 1,8 1,-5 1,-4 1,5 1,0 1,-2 1,-5 1,11 1,-7 1,5 1,-2 1,0 1,-1 1,3 1,0 1,1 1,0 1,-5 1,7 1,-5 1,1 1,0 1,1 1,-1 1,0 1,4 1,-5 1,4 1,-8 1,7 1,-3 1,3 1,0 1,0 1,-1 1,2 1,1 1,0 1,-1 1,9 1,-7 1,-4 1,0 1,5 1,0 1,0 1,-3 1,-4 1,6 1,0 1,-3 1,-1 1,-1 1,4 1,1 1,-4 1,4 1,-3 1,-2 1,5 1,-6 1,-1 1,0 1,0 1,3 1,0 1,-3 1,3 1,-2 1,0 1,0 1,1 1,2 1,-4 1,-1 1,0 1,2 1,1 1,0 1,3 1,-4 1,-1 1,0 1,2 1,-1 1,1 1,1" stroke="#df0000"/>
<path transform="translate(1303.82,0) scale(1.5852,0.25)" d="M0,1978l1,-2 1,3 1,-2 1,8 1,-7 1,-2 1,-1 1,2 1,-3 1,5 1,-14 1,11 1,-1 1,1 1,0 1,4 1,-9 1,2 1,0 1,-1 1,2 1,0 1,-1 1,0 1,-2 1,8 1,-2 1,6 1,-2 1,5 1,-5 1,-4 1,3 1,-1 1,0 1,4 1,-1 1,-3 1,1 1,-4 1,0 1,-5 1,7 1,-3 1,3 1,5" stroke="#df0000"/>
<path transform="translate(1512.81,0) scale(1.5852,0.25)" d="M0,1978l1,-1 1,5 1,0 1,1 1,-2 1,3 1,-8 1,2 1,2 1,-6 1,1 1,5 1,-3 1,0 1,1 1,1 1,4 1,-9 1,3 1,1 1,3 1,0 1,2 1,-1 1,3 1,-8 1,0 1,1 1,1 1,-1 1,2 1,-5 1,11 1,-6 1,-1 1,1 1,0 1,-2 1,7 1,-2 1,-5 1,3 1,-4 1,2 1,-1 1,-1 1,6 1,-11 1,8 1,-4 1,-1 1,2 1,-4 1,4 1,-2 1,7 1,-2 1,-4 1,2 1,3 1,-6 1,5 1,3 1,3 1,-6 1,4 1,-5 1,2 1,2 1,0 1,-3 1,1 1,2 1,-1 1,2 1,-4 1,1 1,3 1,-3 1,3 1,-2 1,-1 1,5 1,-4 1,1 1,-4 1,0 1,7 1,-4 1,1 1,0 1,-2 1,-3 1,5 1,-6 1,6 1,2 1,-2 1,-3 1,-1 1,4 1,-2 1,-4 1,1 1,-2 1,4 1,-4 1,6 1,-3 1,-3 1,3 1,3 1,-7 1,0 1,1 1,3 1,-5 1,-1 1,4 1,-2 1,2 1,-3 1,1 1,2 1,3" stroke="#bf0000"/>
<path transform="translate(1137.81,0) scale(1.5852,0.25)" d="M0,1977l1,6 1,-3 1,0 1,1 1,-1 1,2 1,-5 1,4 1,-4 1,2 1,5 1,-1 1,-1 1,-1 1,-5 1,2 1,3 1,-5 1,1 1,5 1,-1 1,-2 1,0 1,-4 1,1 1,3 1,0 1,-4 1,2 1,-2 1,1 1,-2 1,0 1,-2 1,-2 1,5 1,5 1,-2 1,0 1,1 1,-1 1,-2 1,2 1,-3 1,0 1,2 1,-2 1,-4 1,2 1,1 1,1 1,-3 1,6 1,-4 1,3 1,3 1,2 1,-5 1,4 1,-5 1,6 1,-3 1,1 1,2 1,-1 1,0 1,5 1,-3 1,-5 1,4 1,0 1,-2 1,0 1,-3 1,-1 1,5 1,1 1,0 1,-1 1,5 1,-5 1,-1 1,-6 1,3 1,-1 1,0 1,-2 1,2 1,1 1,-2 1,5 1,-2 1,-6 1,6 1,-3 1,4 1,-3 1,1 1,-7 1,7 1,-3 1,3 1,-2 1,3 1,-8 1,6 1,2 1,-2 1,-3 1,0 1,5 1,2 1,-4 1,2 1,2 1,-3 1,2 1,-4 1,-1 1,5 1,-2 1,2 1,-1 1,-2 1,-1 1,-3 1,-1 1,5 1,-3 1,0 1,1 1,-1 1,-2 1,5 1,0 1,-4 1,4" stroke="#9f0000"/>
<path transform="translate(981.96,0) scale(1.5852,0.25)" d="M0,1979l1,0 1,0 1,10 1,-12 1,-2 1,21 1,-10 1,-1 1,2 1,-6 1,5 1,-5 1,-8 1,1 1,7 1,-3 1,-1 1,2 1,1 1,-3 1,2 1,-2 1,6 1,-6 1,1 1,-1 1,-1 1,-3 1,0 1,2 1,-4 1,7 1,2 1,-5 1,5 1,-6 1,0 1,4 1,0 1,3 1,-2 1,-1 1,5 1,-3 1,-6 1,3 1,1 1,1 1,-4 1,2 1,-2 1,-1 1,3 1,-3 1,1 1,2 1,-4 1,-4 1,4 1,-2 1,5 1,-1 1,3 1,2 1,-5 1,2 1,2 1,3 1,-1 1,-2 1,-2 1,3 1,-2 1,3 1,-7 1,5 1,2 1,4 1,-6 1,3 1,-1 1,1 1,0 1,-2 1,6 1,-3 1,-3 1,3 1,0 1,0 1,-2 1,1 1,-4 1,1 1,1 1,-1 1,3 1,-2 1,3 1,-2 1,3 1,-3 1,-2 1,-2 1,5 1,0 1,-6 1,1 1,-1 1,2 1,1 1,1 1,4 1,1 1,-1 1,-5 1,0 1,0 1,-2 1,2 1,2 1,-2 1,0 1,-7 1,0 1,3 1,-3 1,3 1,-3 1,4 1,-3 1,-5 1,6 1,-1 1,-2 1,5 1,0 1,-4 1,-1 1,9" stroke="#800000"/>
</g>
</g>
</g>
<g id="p3">
<path d="M253.46,618.5V865M316.87,618.5V865M380.27,618.5V865M443.68,618.5V865M507.09,618.5V865M570.5,618.5V865M633.91,618.5V865M697.32,618.5V865M760.72,618.5V865M824.13,618.5V865M887.54,618.5V865M950.95,618.5V865M1014.36,618.5V865M1077.77,618.5V865M1141.17,618.5V865M1204.58,618.5V865M1267.99,618.5V865M1331.4,618.5V865M1394.81,618.5V865M1458.22,618.5V865M1521.62,618.5V865M1585.03,618.5V865M1648.44,618.5V865" stroke="rgba(38,38,38,0.15)" stroke-width="4.3" fill="none"/>
<path d="M190.05,824.17H1711.85M190.05,783.03H1711.85M190.05,700.77H1711.85" stroke="rgba(38,38,38,0.15)" stroke-width="4.3" fill="none"/>
<path d="M190.05,618.5v17.3M190.05,865v-17.3M200.62,618.5v9.4M200.62,865v-9.4M211.19,618.5v9.4M211.19,865v-9.4M221.75,618.5v9.4M221.75,865v-9.4M232.32,618.5v9.4M232.32,865v-9.4M242.89,618.5v9.4M242.89,865v-9.4M253.46,618.5v17.3M253.46,865v-17.3M264.03,618.5v9.4M264.03,865v-9.4M274.59,618.5v9.4M274.59,865v-9.4M285.16,618.5v9.4M285.16,865v-9.4M295.73,618.5v9.4M295.73,865v-9.4M306.3,618.5v9.4M306.3,865v-9.4M316.87,618.5v17.3M316.87,865v-17.3M327.43,618.5v9.4M327.43,865v-9.4M338,618.5v9.4M338,865v-9.4M348.57,618.5v9.4M348.57,865v-9.4M359.14,618.5v9.4M359.14,865v-9.4M369.71,618.5v9.4M369.71,865v-9.4M380.27,618.5v17.3M380.27,865v-17.3M390.84,618.5v9.4M390.84,865v-9.4M401.41,618.5v9.4M401.41,865v-9.4M411.98,618.5v9.4M411.98,865v-9.4M422.55,618.5v9.4M422.55,865v-9.4M433.12,618.5v9.4M433.12,865v-9.4M443.68,618.5v17.3M443.68,865v-17.3M454.25,618.5v9.4M454.25,865v-9.4M464.82,618.5v9.4M464.82,865v-9.4M475.39,618.5v9.4M475.39,865v-9.4M485.96,618.5v9.4M485.96,865v-9.4M496.52,618.5v9.4M496.52,865v-9.4M507.09,618.5v17.3M507.09,865v-17.3M517.66,618.5v9.4M517.66,865v-9.4M528.23,618.5v9.4M528.23,865v-9.4M538.8,618.5v9.4M538.8,865v-9.4M549.36,618.5v9.4M549.36,865v-9.4M559.93,618.5v9.4M559.93,865v-9.4M570.5,618.5v17.3M570.5,865v-17.3M581.07,618.5v9.4M581.07,865v-9.4M591.64,618.5v9.4M591.64,865v-9.4M602.2,618.5v9.4M602.2,865v-9.4M612.77,618.5v9.4M612.77,865v-9.4M623.34,618.5v9.4M623.34,865v-9.4M633.91,618.5v17.3M633.91,865v-17.3M644.48,618.5v9.4M644.48,865v-9.4M655.04,618.5v9.4M655.04,865v-9.4M665.61,618.5v9.4M665.61,865v-9.4M676.18,618.5v9.4M676.18,865v-9.4M686.75,618.5v9.4M686.75,865v-9.4M697.32,618.5v17.3M697.32,865v-17.3M707.88,618.5v9.4M707.88,865v-9.4M718.45,618.5v9.4M718.45,865v-9.4M729.02,618.5v9.4M729.02,865v-9.4M739.59,618.5v9.4M739.59,865v-9.4M750.16,618.5v9.4M750.16,865v-9.4M760.72,618.5v17.3M760.72,865v-17.3M771.29,618.5v9.4M771.29,865v-9.4M781.86,618.5v9.4M781.86,865v-9.4M792.43,618.5v9.4M792.43,865v-9.4M803,618.5v9.4M803,865v-9.4M813.57,618.5v9.4M813.57,865v-9.4M824.13,618.5v17.3M824.13,865v-17.3M834.7,618.5v9.4M834.7,865v-9.4M845.27,618.5v9.4M845.27,865v-9.4M855.84,618.5v9.4M855.84,865v-9.4M866.41,618.5v9.4M866.41,865v-9.4M876.97,618.5v9.4M876.97,865v-9.4M887.54,618.5v17.3M887.54,865v-17.3M898.11,618.5v9.4M898.11,865v-9.4M908.68,618.5v9.4M908.68,865v-9.4M919.25,618.5v9.4M919.25,865v-9.4M929.81,618.5v9.4M929.81,865v-9.4M940.38,618.5v9.4M940.38,865v-9.4M950.95,618.5v17.3M950.95,865v-17.3M961.52,618.5v9.4M961.52,865v-9.4M972.09,618.5v9.4M972.09,865v-9.4M982.65,618.5v9.4M982.65,865v-9.4M993.22,618.5v9.4M993.22,865v-9.4M1003.79,618.5v9.4M1003.79,865v-9.4M1014.36,618.5v17.3M1014.36,865v-17.3M1024.93,618.5v9.4M1024.93,865v-9.4M1035.49,618.5v9.4M1035.49,865v-9.4M1046.06,618.5v9.4M1046.06,865v-9.4M1056.63,618.5v9.4M1056.63,865v-9.4M1067.2,618.5v9.4M1067.2,865v-9.4M1077.77,618.5v17.3M1077.77,865v-17.3M1088.33,618.5v9.4M1088.33,865v-9.4M1098.9,618.5v9.4M1098.9,865v-9.4M1109.47,618.5v9.4M1109.47,865v-9.4M1120.04,618.5v9.4M1120.04,865v-9.4M1130.61,618.5v9.4M1130.61,865v-9.4M1141.17,618.5v17.3M1141.17,865v-17.3M1151.74,618.5v9.4M1151.74,865v-9.4M1162.31,618.5v9.4M1162.31,865v-9.4M1172.88,618.5v9.4M1172.88,865v-9.4M1183.45,618.5v9.4M1183.45,865v-9.4M1194.02,618.5v9.4M1194.02,865v-9.4M1204.58,618.5v17.3M1204.58,865v-17.3M1215.15,618.5v9.4M1215.15,865v-9.4M1225.72,618.5v9.4M1225.72,865v-9.4M1236.29,618.5v9.4M1236.29,865v-9.4M1246.86,618.5v9.4M1246.86,865v-9.4M1257.42,618.5v9.4M1257.42,865v-9.4M1267.99,618.5v17.3M1267.99,865v-17.3M1278.56,618.5v9.4M1278.56,865v-9.4M1289.13,618.5v9.4M1289.13,865v-9.4M1299.7,618.5v9.4M1299.7,865v-9.4M1310.26,618.5v9.4M1310.26,865v-9.4M1320.83,618.5v9.4M1320.83,865v-9.4M1331.4,618.5v17.3M1331.4,865v-17.3M1341.97,618.5v9.4M1341.97,865v-9.4M1352.54,618.5v9.4M1352.54,865v-9.4M1363.1,618.5v9.4M1363.1,865v-9.4M1373.67,618.5v9.4M1373.67,865v-9.4M1384.24,618.5v9.4M1384.24,865v-9.4M1394.81,618.5v17.3M1394.81,865v-17.3M1405.38,618.5v9.4M1405.38,865v-9.4M1415.94,618.5v9.4M1415.94,865v-9.4M1426.51,618.5v9.4M1426.51,865v-9.4M1437.08,618.5v9.4M1437.08,865v-9.4M1447.65,618.5v9.4M1447.65,865v-9.4M1458.22,618.5v17.3M1458.22,865v-17.3M1468.78,618.5v9.4M1468.78,865v-9.4M1479.35,618.5v9.4M1479.35,865v-9.4M1489.92,618.5v9.4M1489.92,865v-9.4M1500.49,618.5v9.4M1500.49,865v-9.4M1511.06,618.5v9.4M1511.06,865v-9.4M1521.62,618.5v17.3M1521.62,865v-17.3M1532.19,618.5v9.4M1532.19,865v-9.4M1542.76,618.5v9.4M1542.76,865v-9.4M1553.33,618.5v9.4M1553.33,865v-9.4M1563.9,618.5v9.4M1563.9,865v-9.4M1574.47,618.5v9.4M1574.47,865v-9.4M1585.03,618.5v17.3M1585.03,865v-17.3M1595.6,618.5v9.4M1595.6,865v-9.4M1606.17,618.5v9.4M1606.17,865v-9.4M1616.74,618.5v9.4M1616.74,865v-9.4M1627.31,618.5v9.4M1627.31,865v-9.4M1637.87,618.5v9.4M1637.87,865v-9.4M1648.44,618.5v17.3M1648.44,865v-17.3M1659.01,618.5v9.4M1659.01,865v-9.4M1669.58,618.5v9.4M1669.58,865v-9.4M1680.15,618.5v9.4M1680.15,865v-9.4M1690.71,618.5v9.4M1690.71,865v-9.4M1701.28,618.5v9.4M1701.28,865v-9.4M1711.85,618.5v17.3M1711.85,865v-17.3M190.05,857.07h9.4M1711.85,857.07h-9.4M190.05,848.85h9.4M1711.85,848.85h-9.4M190.05,840.62h9.4M1711.85,840.62h-9.4M190.05,832.39h9.4M1711.85,832.39h-9.4M190.05,815.94h9.4M1711.85,815.94h-9.4M190.05,807.71h9.4M1711.85,807.71h-9.4M190.05,799.49h9.4M1711.85,799.49h-9.4M190.05,791.26h9.4M1711.85,791.26h-9.4M190.05,762.47h9.4M1711.85,762.47h-9.4M190.05,741.9h9.4M1711.85,741.9h-9.4M190.05,721.33h9.4M1711.85,721.33h-9.4M190.05,680.2h9.4M1711.85,680.2h-9.4M190.05,659.63h9.4M1711.85,659.63h-9.4M190.05,639.07h9.4M1711.85,639.07h-9.4M190.05,865.3h17.3M1711.85,865.3h-17.3M190.05,824.17h17.3M1711.85,824.17h-17.3M190.05,783.03h17.3M1711.85,783.03h-17.3M190.05,700.77h17.3M1711.85,700.77h-17.3" stroke="#262626" stroke-width="4.3" fill="none"/>
<rect x="190.05" y="618.5" width="1521.8" height="246.5" fill="none" stroke="#262626" stroke-width="4.5"/>
<text x="138.85" y="712.11" font-size="28.6" text-anchor="start" fill="#262626" >0.4</text>
<text x="138.85" y="794.37" font-size="28.6" text-anchor="start" fill="#262626" >0.2</text>
<text x="138.85" y="835.51" font-size="28.6" text-anchor="start" fill="#262626" >0.</text>
<path transform="translate(162.7,835.51) scale(28.6,-28.6)" d="M.3936,0H.2563V.5171Q.1812,.4468 .0791,.4131V.5376Q.1328,.5552 .1958,.6042Q.2588,.6533 .2822,.7188H.3936Z" fill="#262626"/>
<text x="162.7" y="876.64" font-size="28.6" text-anchor="start" fill="#262626" >0</text>
<clipPath id="c2"><rect x="187.85" y="616.3" width="1526.2" height="250.9"/></clipPath>
<g clip-path="url(#c2)">
<g class="n" fill="none" stroke-width="4" stroke-linejoin="round" stroke-linecap="round">
<path transform="translate(190.05,0) scale(1.0568,0.5)" d="M0,1700l1,2 1,-22 1,5 1,-17 1,38 1,5 1,-27 1,13 1,-30 1,26 1,20 1,-31 1,2 1,8 1,9 1,12 1,-31 1,23 1,-7 1,-19 1,21 1,-30 1,8 1,6 1,22 1,-2 1,-15 1,-10 1,16 1,-9 1,25 1,0 1,-4 1,-6 1,2 1,7 1,-22 1,17 1,5 1,-15 1,11 1,-3 1,-6 1,6 1,6 1,8 1,-14 1,4 1,-11 1,21 1,-7 1,-25 1,7 1,25 1,1 1,-17 1,-8 1,-2 1,23 1,2 1,-32 1,25 1,7 1,-22 1,19 1,-9 1,12 1,-9 1,10 1,-10 1,6 1,-48 1,51 1,3 1,-56 1,32 1,17 1,-27 1,12 1,17 1,4 1,1 1,-28 1,19 1,6 1,-3 1,1 1,-28 1,-9 1,41 1,-6 1,-23 1,29 1,-22 1,-44 1,28 1,39 1,-4 1,4 1,-14 1,3 1,-8 1,-35 1,46 1,-23 1,-3 1,16 1,-17 1,17 1,17 1,-32 1,23 1,9 1,-13 1,-20 1,15 1,17 1,2 1,-25 1,25 1,-1 1,1 1,-5 1,-9 1,5 1,8 1,-5 1,-19 1,-8 1,18 1,-19 1,33 1,-9 1,-7 1,-17 1,20 1,14 1,-21 1,17 1,-36 1,-43 1,47 1,21" stroke="#00009f"/>
<path transform="translate(1017.91,0) scale(1.0568,0.5)" d="M0,1698l1,-33 1,-53 1,59 1,36 1,-92 1,33 1,-68 1,75 1,39 1,-18 1,-55 1,56 1,12 1,25 1,-47 1,34 1,-12 1,0 1,8 1,-7 1,7 1,-6 1,-26 1,42 1,-28 1,38 1,-20 1,-27 1,2 1,18 1,-36 1,52 1,-12 1,7 1,-17 1,27 1,-4 1,-4 1,4 1,-6 1,-3 1,-28 1,28 1,14 1,1 1,-7 1,-10 1,-6 1,5 1,-2 1,18 1,-31 1,-20 1,59 1,-55 1,46 1,7 1,-3 1,0 1,4 1,-5 1,5 1,-10 1,5 1,3 1,-23 1,2 1,-14 1,36 1,-9 1,8 1,-23 1,14 1,11 1,-27 1,27 1,-9 1,-8 1,-3 1,14 1,-79 1,81 1,-20 1,-2 1,18 1,3 1,-11 1,-11 1,-2 1,23 1,-32 1,-42 1,47 1,-9 1,4 1,36 1,-24 1,21 1,-15 1,9 1,-1 1,-44 1,9 1,27 1,16 1,-16 1,16 1,4 1,-20 1,-4 1,7 1,17 1,-23 1,12 1,3 1,-36 1,-45" stroke="#00009f"/>
<path transform="translate(1689.85,0) scale(1.0568,0.5)" d="M0,1672l1,19 1,18 1,-39 1,-80 1,12 1,64 1,6 1,17 1,-4 1,20 1,-5 1,-27 1,37 1,-16 1,-8 1,-22 1,42 1,-84 1,-1 1,82" stroke="#00009f"/>
<path transform="translate(421.93,0) scale(1.0568,0.5)" d="M0,1701l1,-1 1,-3 1,-16 1,5 1,5 1,2 1,23 1,-8 1,-58 1,61 1,-21 1,-34 1,57 1,-45 1,35 1,11 1,-2 1,-45 1,-52 1,0 1,101 1,0 1,-20 1,6 1,-14 1,-11 1,23 1,17 1,-34 1,22 1,0 1,11 1,-20 1,3 1,3 1,5 1,-5 1,2 1,-12 1,2 1,6 1,19 1,-18 1,13 1,-6 1,11 1,-14 1,10 1,-29 1,21 1,13 1,-8 1,8 1,-3 1,-12 1,-17 1,30 1,-42 1,35 1,-40 1,-6 1,-53 1,59 1,47 1,1 1,-4 1,3 1,3 1,-6 1,4 1,0 1,-36 1,35 1,-22 1,22 1,-3 1,3 1,-27 1,23 1,4 1,2 1,-33 1,10 1,18 1,3 1,0 1,1 1,-12 1,-4 1,12 1,4 1,1 1,-5 1,-11 1,-6 1,14 1,-1 1,-13 1,1 1,21 1,-1 1,-23 1,12 1,10 1,-50 1,-52 1,57 1,43 1,-19 1,23 1,-26 1,9 1,-12 1,28 1,-2 1,4 1,-4 1,1 1,1 1,1 1,-4 1,-4 1,2 1,4 1,1 1,-12 1,14 1,-1 1,-20 1,20 1,-2 1,3 1,-26 1,-10 1,13 1,17 1,6 1,-43 1,41 1,-6 1,-2 1,10 1,-4 1,0 1,-22 1,-19 1,11 1,16 1,11 1,4 1,-24 1,18 1,9 1,-1 1,-2 1,-47 1,48 1,-14 1,-21 1,13 1,11 1,-2 1,14 1,-10 1,-18 1,27 1,-1 1,-11 1,8 1,5 1,-11 1,-1 1,7 1,-9 1,-25 1,14 1,21 1,-18 1,15 1,-11 1,4 1,13 1,-4 1,6 1,-4 1,0 1,-6 1,-12 1,21 1,-2 1,0 1,-18 1,-25 1,15 1,6 1,7 1,-11 1,11 1,8 1,-9 1,18 1,-28 1,20 1,-7 1,-37 1,49 1,2 1,-14 1,-4 1,8 1,4 1,1 1,2 1,-15 1,9 1,6" stroke="#0000bf"/>
<path transform="translate(334.37,0) scale(1.0568,0.5)" d="M0,1710l1,-25 1,-13 1,43 1,-45 1,44 1,-19 1,17 1,3 1,-3 1,-41 1,30 1,5 1,-10 1,-12 1,-26 1,51 1,2 1,4 1,-37 1,15 1,16 1,-10 1,-2 1,4 1,9 1,-39 1,20 1,5 1,13 1,8 1,0 1,-40 1,-8 1,-51 1,56 1,38 1,6 1,-13 1,-15 1,-31 1,42 1,8 1,8 1,-16 1,-7 1,-27 1,45 1,6 1,-3 1,1 1,-8 1,7 1,-20 1,15 1,-48 1,41 1,-32 1,46 1,-10 1,-27 1,13 1,15 1,2 1,0 1,7 1,-7 1,-42 1,41 1,-7 1,6 1,1 1,-1 1,10 1,-11 1,-14 1,0 1,9 1,5 1,4 1,0 1,-12 1,19 1,-11 1,1 1,-3 1,-7 1,21 1,-11 1,-1 1,-11 1,17 1,-35 1,16 1,11 1,5 1,-2 1,-6 1,-21 1,30 1,6 1,-10 1,-13 1,5 1,-18 1,0 1,-5 1,15 1,-18 1,43 1,-31" stroke="#0000df"/>
<path transform="translate(529.86,0) scale(1.0568,0.5)" d="M0,1601l1,52 1,33 1,-31 1,48 1,-7 1,9 1,-6 1,-13 1,-44 1,63 1,-38 1,20 1,14 1,4 1,-8 1,-7 1,-8 1,17" stroke="#0000df"/>
<path transform="translate(1243.9,0) scale(1.0568,0.5)" d="M0,1694l1,-14 1,31 1,-2 1,-1 1,-42 1,36 1,9 1,-53 1,54 1,-4 1,-8 1,9 1,-14 1,6 1,-7 1,18 1,-29 1,-24 1,57 1,-19 1,19 1,-14 1,-3 1,18 1,-3 1,-11 1,8 1,-13 1,18 1,-13 1,12 1,-7 1,0 1,-42 1,37 1,-2 1,8 1,7 1,-21 1,11 1,-4 1,7 1,8 1,-8 1,5 1,2 1,-7 1,-7 1,10 1,5 1,-15 1,12" stroke="#0000df"/>
<path transform="translate(1131.79,0) scale(1.0568,0.5)" d="M0,1669l1,23 1,14 1,5 1,-13 1,-32 1,41 1,-3 1,9 1,-14 1,-43 1,33 1,12 1,2 1,-3 1,16 1,-11 1,5 1,-1 1,-10 1,14 1,-32 1,33 1,-4 1,-4 1,-30 1,13 1,15 1,-33 1,-14 1,60 1,-18 1,-8 1,26 1,-3 1,-3 1,5 1,-11 1,-13 1,17 1,-23 1,19 1,-2 1,16 1,-3 1,-14 1,-22 1,7 1,2 1,25 1,-7 1,3 1,2 1,-9 1,-5 1,-1 1,14 1,-14 1,11 1,-30 1,28 1,2 1,8 1,-28 1,13 1,-9 1,19 1,6 1,-14 1,1 1,0 1,-20 1,27 1,-6 1,3 1,-10 1,6 1,8 1,8 1,-59 1,41 1,6 1,-15 1,-3 1,22 1,-21 1,-21 1,19 1,10 1,18 1,-20 1,0 1,17 1,0 1,0 1,4 1,-9 1,11 1,-3 1,-46 1,48 1,-6 1,7 1,-22 1,-1 1,7 1,10 1,-6 1,11 1,-20 1,18 1,2 1,-1 1,-38 1,-42 1,47 1,26 1,7 1,-17 1,-18 1,-39 1,43 1,25 1,7 1,-3 1,-18 1,-20 1,9 1,31 1,-20 1,-26 1,-48 1,54 1,34 1,1 1,-6 1,0 1,-7 1,12 1,0 1,-6 1,15 1,-14 1,14 1,-9 1,-5 1,-26 1,-41 1,45 1,-45 1,-74 1,82 1,71 1,-21 1,20 1,-13 1,1 1,14 1,-20 1,10 1,4 1,-6 1,4 1,-17 1,0 1,-4 1,27 1,-19 1,19 1,-10 1,2 1,6 1,-50 1,54 1,-9 1,-17 1,24 1,-2 1,-6 1,10 1,0 1,-53 1,42 1,11 1,-19 1,10 1,8 1,-5 1,5 1,-3 1,-4 1,4 1,-42 1,41 1,-4 1,-39 1,30 1,18 1,-9 1,-16 1,10 1,-3 1,17 1,0 1,-8 1,-14 1,-6 1,27 1,-23 1,4 1,1 1,16 1,-23 1,-3 1,22 1,5 1,-2 1,-48 1,24 1,-13 1,42 1,-11 1,-8 1,15 1,-13 1,-5 1,13 1,8 1,-13 1,3 1,6 1,-5 1,5 1,-1 1,4 1,-15 1,-33 1,45 1,-6 1,-29 1,2 1,32 1,6 1,-13 1,12 1,-9 1,8 1,-6 1,-4 1,-86 1,86 1,-40 1,32 1,11 1,1 1,-5 1,-3 1,-5 1,11 1,10 1,-3 1,-17 1,-14 1,31 1,-15 1,-18 1,25 1,6 1,-9 1,3 1,-1 1,-11 1,-7 1,-12 1,17 1,14 1,-12 1,20 1,-12 1,6 1,-8 1,2 1,0 1,13 1,-1 1,-5 1,-2 1,1 1,3 1,3 1,-40 1,1 1,40 1,-12 1,-1 1,3 1,4 1,-20 1,-6" stroke="#0000ff"/>
<path transform="translate(566.82,0) scale(1.0568,0.5)" d="M0,1634l1,30 1,-29 1,-79 1,87 1,68 1,-45 1,15 1,18 1,2 1,14 1,0 1,0 1,0 1,-43 1,-48 1,53 1,27 1,9 1,-9 1,-24 1,29 1,-13 1,9 1,11 1,-28 1,20 1,0 1,-25 1,-39 1,43 1,3 1,3 1,-24 1,34 1,-48 1,27 1,11 1,14 1,2 1,-5 1,-13 1,27 1,-38 1,24 1,12 1,1 1,-1 1,-23 1,3 1,17 1,6 1,-21 1,7 1,4 1,-4 1,9 1,6 1,-20 1,19 1,0 1,-5 1,-14 1,-12 1,25 1,-9 1,2 1,14 1,-17 1,15 1,-5 1,-5 1,12 1,-21 1,11 1,8 1,-8 1,-24 1,32 1,-9 1,4 1,3 1,-7 1,3 1,-13 1,2 1,18 1,-19 1,-7 1,12 1,0 1,-26 1,36 1,-3 1,3 1,-9 1,-2 1,-11 1,-1 1,10 1,19 1,-5 1,-1 1,5 1,-30 1,24 1,-8 1,-13 1,11 1,0 1,0 1,7 1,7 1,-18 1,21 1,-3 1,-3 1,-11 1,6 1,1 1,9 1,0 1,-26 1,26 1,-9 1,-1 1,-7 1,-1 1,18 1,-25 1,-10 1,19 1,17 1,-14 1,-7 1,20 1,0 1,-10 1,-2 1,-13 1,23 1,0 1,-4 1,-19 1,-9 1,31 1,-14 1,-27 1,1 1,-16 1,44 1,5 1,8 1,-1 1,1 1,-13 1,-10 1,24 1,-5 1,-5 1,-20 1,27 1,-28 1,21 1,-26 1,-39 1,43 1,-20 1,49 1,-26 1,8 1,-6 1,11 1,8 1,7 1,-10 1,-44 1,35 1,10 1,-2 1,-7 1,7 1,0 1,-4 1,3 1,-2 1,-3 1,11 1,3 1,-16 1,-4 1,17 1,-26 1,10 1,5 1,-37 1,40" stroke="#0020ff"/>
<path transform="translate(369.81,0) scale(1.0568,0.5)" d="M0,1686l1,5 1,-70 1,88 1,2 1,-45 1,45 1,-45 1,38 1,-15 1,9 1,-31 1,-52 1,58 1,33 1,4 1,2 1,-22 1,16 1,-15 1,5 1,-33 1,-55 1,61 1,29 1,17 1,-15 1,-3 1,12 1,8 1,-6 1,-8 1,-8 1,14 1,-24 1,-37 1,41 1,-5 1,31 1,-25 1,-32 1,48 1,-1 1,9 1,-18 1,17 1,-11 1,-26 1,34 1,5 1,-22 1,26 1,-11 1,10 1,-6 1,-17 1,6 1,14 1,-21 1,23 1,-14 1,-21 1,32 1,4 1,-15 1,15 1,0 1,-5 1,-20 1,16 1,4 1,-2 1,8 1,-24 1,22 1,-3 1,-5 1,7 1,-3 1,2 1,-37 1,5 1,3 1,32 1,-18 1,12 1,-1 1,-7 1,12 1,-10 1,2 1,5 1,4 1,-26 1,10 1,-1 1,20 1,-20 1,14 1,-5 1,9 1,-7 1,9 1,-7 1,-3 1,-18 1,23 1,-6 1,-7 1,16 1,-2 1,-3 1,-9 1,13 1,0 1,-6 1,0 1,-10 1,18 1,-29 1,29 1,0 1,-12 1,-3 1,-20 1,33 1,-3 1,3 1,-4 1,2 1,-3 1,-12 1,9 1,11 1,-32 1,28 1,2 1,2 1,-2 1,-4 1,-15 1,6 1,14 1,-15 1,16 1,-9 1,7 1,-4 1,-10 1,5 1,-14 1,23 1,-26 1,24 1,-20 1,17 1,-29 1,8 1,19 1,5 1,1 1,4 1,-29 1,5 1,8 1,3 1,-2 1,6 1,-5 1,13 1,-18 1,9 1,-24 1,21 1,10 1,-9 1,3 1,2 1,-4 1,-5 1,7 1,2 1,2 1,3 1,-32 1,28 1,-1 1,6 1,-7 1,-13 1,7 1,-5 1,7 1,9 1,-11 1,-38 1,50 1,-35 1,26 1,9 1,-20 1,20 1,-10 1,-24 1,26 1,-33" stroke="#0040ff"/>
<path transform="translate(1437.86,0) scale(1.0568,0.5)" d="M0,1691l1,9 1,3 1,9 1,-77 1,56 1,-12 1,27 1,-39 1,34 1,8 1,-7 1,-3 1,-10 1,17 1,-10 1,-1 1,5 1,1 1,3 1,5 1,7 1,-4 1,5 1,-2 1,-24 1,7 1,-24 1,25 1,18 1,-29 1,-16 1,-48 1,54 1,-30 1,44 1,18 1,-5 1,-1 1,3 1,-13 1,3 1,10 1,-25 1,26 1,8 1,-11 1,-25 1,39 1,-46 1,37 1,-10 1,16 1,2 1,0 1,-7 1,-2 1,0 1,8 1,-17 1,4 1,-36 1,-52 1,57 1,34 1,4 1,-27 1,21 1,-12 1,18 1,-1 1,-52 1,53 1,8 1,-8 1,9 1,-2 1,-10 1,-7 1,11 1,-18 1,17 1,-2 1,8 1,-7 1,-1 1,1 1,4 1,-4 1,-17 1,25 1,-14 1,-3 1,19 1,0 1,-9 1,5 1,-2 1,-14 1,-16 1,6 1,20 1,-11 1,13 1,-11 1,14 1,6 1,-12 1,-6 1,15 1,-8 1,-13 1,-5 1,29 1,-31 1,8 1,15 1,7 1,-3 1,-29 1,32 1,-20 1,16 1,-7 1,8 1,-18 1,15 1,4 1,3 1,-3 1,-8 1,-9 1,0 1,-12 1,30 1,-13 1,-14 1,16 1,6 1,-33 1,20 1,20 1,-13 1,0 1,12 1,0 1,-37 1,7 1,19 1,-10 1,16 1,3 1,1 1,-5 1,-23 1,-5 1,27 1,-4 1,-11 1,5 1,-15 1,28 1,-17 1,15 1,-34 1,39 1,-8 1,9 1,-11 1,6 1,-21 1,6 1,16 1,-7 1,3 1,-11 1,-5 1,-8 1,-7 1,30 1,6 1,-12 1,-1 1,-3 1,11 1,4 1,-14 1,10 1,-28 1,12 1,13 1,-32 1,32 1,4 1,1 1,-35 1,32" stroke="#0060ff"/>
<path transform="translate(869.91,0) scale(1.0568,0.5)" d="M0,1698l1,-39 1,-59 1,65 1,35 1,-9 1,17 1,-33 1,-4 1,-23 1,32 1,27 1,-13 1,1 1,13 1,-5 1,11 1,-28 1,8 1,-17 1,-36 1,49 1,5 1,6 1,-15" stroke="#0080ff"/>
<path transform="translate(900.22,0) scale(1.0568,0.5)" d="M0,1685l1,-37 1,41 1,-10 1,-32 1,39 1,13 1,12 1,-52 1,-13 1,42 1,22 1,1 1,-11 1,11 1,1 1,-25 1,-54 1,50 1,-39 1,43 1,9 1,14 1,2 1,-4 1,-23 1,-37 1,41 1,-4" stroke="#0080ff"/>
<path transform="translate(1510.85,0) scale(1.0568,0.5)" d="M0,1715l1,-1 1,-2 1,-27 1,26 1,-32 1,9 1,22 1,-40 1,25 1,18 1,-15 1,19 1,-29 1,24 1,-22 1,-10 1,-42 1,47 1,-6 1,28 1,-1 1,5 1,-15 1,22 1,-94 1,87 1,-2 1,-44 1,51 1,-23 1,-24 1,35 1,14 1,-43 1,42 1,-31 1,23 1,3 1,2 1,-44 1,-50 1,55 1,39 1,-2 1,-10 1,16 1,-4 1,-21 1,21 1,-2 1,7 1,-7 1,-12 1,20 1,0 1,-3 1,-8 1,-2 1,-14 1,19 1,-7 1,12 1,-37 1,37 1,-16 1,15 1,-17 1,16 1,1 1,-29 1,33 1,-22 1,-11 1,33 1,-5 1,-18 1,18 1,0 1,1 1,-13 1,14 1,-41 1,32 1,9 1,-11 1,10 1,-5 1,2 1,1 1,-9 1,11 1,2 1,-5 1,0 1,2 1,6 1,-8 1,-9 1,-16 1,18 1,-22 1,16 1,-5 1,20 1,5 1,-17 1,15 1,0 1,-7 1,-30 1,23 1,4 1,-32 1,-44 1,49 1,5 1,33 1,2 1,-4 1,-4 1,-4 1,-9 1,19 1,-41 1,40 1,0 1,-3 1,-21 1,25 1,-7 1,-38 1,22 1,6 1,12 1,6 1,-22 1,5 1,-24 1,22 1,13 1,-12 1,8 1,-4 1,14 1,-41 1,27 1,3 1,4 1,6 1,-4 1,-2 1,-20 1,24 1,2 1,-11 1,10 1,-13 1,-35 1,47 1,-13 1,6 1,-4 1,-63 1,33 1,10 1,29 1,-36 1,-4 1,-45 1,31 1,38 1,16 1,-23 1,21 1,-27 1,26 1,-2 1,-1 1,-8 1,0 1,3 1,-21" stroke="#0080ff"/>
<path transform="translate(552.81,0) scale(1.0568,0.5)" d="M0,1708l1,-13 1,-26 1,44 1,-19 1,6 1,-18 1,10 1,9 1,-38 1,-56 1,49 1,39 1,4 1,-33 1,-18 1,55 1,13 1,-6 1,0 1,-10 1,11 1,-15 1,2 1,14 1,-52 1,31 1,26 1,0 1,1 1,-25 1,12 1,13 1,0 1,-11 1,-6 1,14 1,-5 1,-9 1,16 1,-5 1,-13 1,14 1,-21 1,26 1,1 1,-10 1,3 1,-20 1,10 1,-14 1,9 1,-5 1,21 1,-14 1,3 1,17 1,-18 1,0 1,-34 1,51 1,-19 1,-12 1,16 1,-18 1,33 1,-15 1,2 1,5 1,-4 1,-28 1,11 1,13 1,-7 1,7 1,3 1,-25 1,-37" stroke="#009fff"/>
<path transform="translate(1321.83,0) scale(1.0568,0.5)" d="M0,1668l1,36 1,2 1,-35 1,24 1,-4 1,23 1,-77 1,78 1,-84 1,60 1,1 1,-18 1,13 1,11 1,0 1,3 1,4 1,6 1,-50 1,42 1,12 1,-5 1,-26 1,24 1,0 1,-21 1,31 1,-7 1,6 1,-16 1,17 1,-4 1,-9 1,11 1,-21 1,-1 1,16 1,-20 1,-14 1,29 1,12 1,-11 1,12 1,-41 1,38 1,-3 1,-22 1,10 1,-6 1,24 1,-6 1,-38 1,36 1,-9 1,16 1,-5 1,-17 1,5 1,3 1,5 1,2 1,7 1,2 1,-17 1,6 1,-7 1,14 1,4 1,0 1,-28 1,28 1,-19 1,15 1,-26 1,20 1,5 1,-12 1,13 1,-7 1,-26 1,15 1,10 1,-4 1,7 1,8 1,-48 1,40 1,8 1,1 1,-29 1,14 1,12 1,-2 1,1 1,5 1,-12 1,-21 1,27 1,-46 1,-52 1,57 1,24 1,-21 1,36 1,-1 1,-2 1,-22 1,26 1,-56 1,-37 1,55 1,36 1,0 1,-6 1,6 1,-7 1,1 1,-5 1,7 1,0 1,11 1,-11 1,1 1,5 1,-20 1,23 1,0 1,3 1,-27 1,-10 1,27 1,-7 1,8 1,-47 1,18 1,16 1,6 1,13 1,-17 1,0 1,20 1,-2 1,1 1,-1 1,3 1,-11 1,10 1,-4 1,-14 1,-4 1,16 1,6 1,-18 1,-18 1,23 1,12 1,0 1,-16 1,9 1,-61 1,31 1,36 1,-12 1,13 1,0 1,-14 1,-7 1,13 1,-18 1,25 1,-16 1,-3 1,21" stroke="#009fff"/>
<path transform="translate(859.9,0) scale(1.0568,0.5)" d="M0,1684l1,27 1,0 1,-26 1,18 1,-20 1,-17 1,46 1,-3 1,-2 1,-21 1,-8 1,-8 1,36 1,8 1,-23 1,11 1,-14 1,2 1,17 1,-8 1,3 1,2 1,-48 1,57 1,-2 1,-14 1,15 1,-19 1,-11 1,-20 1,42 1,11 1,-69" stroke="#00bfff"/>
<path transform="translate(900.22,0) scale(1.0568,0.5)" d="M0,1701l1,-16 1,32 1,-42 1,16 1,21 1,-8 1,-21 1,34 1,-4 1,2 1,-4 1,-7 1,-5 1,19 1,-22 1,-1 1,16 1,-45 1,52 1,-9 1,7 1,-21 1,-23 1,39 1,7 1,0 1,-4 1,-15 1,-20 1,20 1,-22 1,20 1,4 1,18 1,-12 1,-42 1,52 1,-44 1,37 1,-12 1,-14 1,35 1,-4 1,4 1,-28 1,-28 1,54 1,2 1,-3 1,-51 1,45 1,-26 1,-2 1,20 1,0 1,14 1,-16 1,12 1,-26 1,-4 1,9 1,11 1,15 1,-12 1,-4 1,-65 1,71 1,3 1,-29 1,-22 1,-59 1,65 1,54 1,-6 1,-34 1,-43 1,47 1,-16 1,49 1,-9 1,11 1,-5 1,-17 1,12 1,-22 1,-5 1,34 1,-10 1,10 1,1 1,-1 1,-20 1,18 1,-11 1,-8 1,25 1,-10 1,7 1,-56 1,45 1,9 1,4 1,-6 1,-25 1,29 1,-2 1,-3 1,-14 1,17 1,-27 1,8 1,1 1,6 1,5 1,10 1,-3 1,-8 1,-78 1,56 1,25 1,4 1,4 1,-4 1,-40 1,-47 1,52 1,41 1,0 1,-3 1,-17 1,2 1,3 1,-22 1,24 1,12 1,0 1,-22 1,-4 1,-20 1,39 1,0 1,6 1,-52 1,39 1,15 1,-8 1,-11 1,2 1,-5 1,20 1,-6 1,-38 1,38 1,5 1,3 1,-46 1,-47 1,52 1,21 1,17 1,-33 1,33 1,-21 1,10 1,13 1,-6 1,-4 1,6" stroke="#00bfff"/>
<path transform="translate(190.05,0) scale(1.0568,0.5)" d="M0,1709l1,3 1,-19 1,5 1,20 1,-14 1,15 1,-17 1,7 1,9 1,-35 1,15 1,15 1,-21 1,11 1,12 1,-6 1,8 1,-15 1,-1 1,6 1,7 1,0 1,-21 1,9 1,-10 1,23 1,-14 1,-18 1,33 1,3 1,-2 1,-28 1,25 1,4 1,-1 1,-1 1,-20 1,3 1,17 1,3 1,-46 1,44 1,-15 1,10 1,7 1,-7 1,-14 1,2 1,12 1,3 1,-24 1,27 1,-28 1,-15 1,31 1,-12 1,19 1,1 1,-27 1,27 1,-1 1,-3 1,-5 1,3" stroke="#00dfff"/>
<path transform="translate(952.03,0) scale(1.0568,0.5)" d="M0,1686l1,23 1,-19 1,16 1,-20 1,28 1,-22 1,0 1,4 1,16 1,-11 1,-2 1,1 1,-36 1,43 1,-1 1,-8 1,-3 1,-50 1,69 1,-25 1,3 1,8 1,9 1,-8 1,1 1,9 1,5 1,-22 1,18 1,-13 1,-38 1,26 1,-12 1,12 1,30 1,-34 1,26 1,7 1,1 1,-15 1,15 1,-15 1,8 1,4 1,-5 1,7 1,-19 1,-18 1,29 1,3 1,-10 1,13 1,-37 1,34 1,5 1,-24 1,-7 1,-52 1,83 1,-35 1,-41 1,35 1,19 1,-4 1,-7 1,-25 1,45 1,-9 1,-9 1,20 1,-24 1,10 1,-20 1,35 1,-1 1,7 1,-1" stroke="#00dfff"/>
<path transform="translate(1612.93,0) scale(1.0568,0.5)" d="M0,1713l1,-14 1,6 1,4 1,-13 1,-25 1,32 1,3 1,-10 1,-7 1,-36 1,49 1,-4 1,13 1,-1 1,-29 1,20 1,-11 1,6 1,10 1,8 1,0 1,-4 1,5 1,-7 1,7 1,-24 1,22 1,-3 1,-3 1,11 1,-16 1,0 1,16 1,-2 1,0 1,-10 1,12 1,-8 1,-36 1,39 1,-11 1,0 1,8 1,0 1,9 1,-2 1,-5 1,6 1,-9 1,10 1,-13 1,-7 1,19 1,-10 1,11 1,-9 1,3 1,6 1,-7 1,2 1,-1 1,-18 1,23 1,-3 1,4 1,-25 1,19 1,-20 1,-10 1,2 1,20 1,-2 1,-65 1,49 1,16 1,11 1,-15 1,8 1,-18 1,17 1,7 1,-24 1,13 1,14 1,0 1,-21 1,-18 1,-13 1,21 1,-1 1,29 1,1 1,-3" stroke="#00dfff"/>
<path transform="translate(363.85,0) scale(1.0568,0.5)" d="M0,1696l1,11 1,-54 1,50 1,-11 1,14 1,-1 1,-11 1,-34 1,54 1,-2 1,-8 1,14 1,-1 1,-23 1,8 1,1 1,2 1,-7 1,-7 1,25 1,-9 1,-9 1,18 1,-14 1,-10 1,7 1,19 1,-5 1,-9 1,7 1,6 1,-29 1,18 1,0 1,9 1,-3 1,5 1,-47 1,28 1,-29 1,41 1,-39 1,47 1,-45 1,41 1,-5 1,-14 1,19 1,-16 1,5 1,13 1,-13 1,11 1,-20 1,25 1,-6 1,1 1,-11 1,11 1,-1 1,-8 1,6 1,8 1,-27 1,12 1,-22 1,35 1,-15 1,12 1,-6 1,-14 1,18 1,5 1,-19 1,9 1,12 1,-5 1,5 1,-15 1,-2 1,18 1,-11 1,-13 1,11 1,5 1,-20 1,-42 1,36 1,-9 1,31 1,0 1,-18 1,29 1,-5 1,-32 1,36 1,-4 1,-11 1,-16 1,11 1,3 1,19 1,-28 1,26 1,-6 1,-3 1,-17 1,-11 1,1 1,21 1,-2 1,3 1,-4 1,14 1,5 1,-63 1,57 1,1 1,4 1,1 1,-2 1,2 1,-57 1,-44 1,56 1,12 1,17 1,5 1,3 1,-11 1,14 1,0 1,-8 1,-15 1,21 1,-8 1,-35 1,21 1,28 1,-5 1,-41 1,-48 1,53 1,12 1,-30 1,54 1,5 1,-21 1,-99 1,92 1,19 1,2 1,-68 1,-71 1,79 1,46 1,-2 1,20 1,-1 1,-1 1,-97 1,69 1,11 1,3 1,11" stroke="#00ffff"/>
<path transform="translate(1091.84,0) scale(1.0568,0.5)" d="M0,1684l1,24 1,1 1,-39 1,45 1,-3 1,-7 1,-44 1,39 1,16 1,-14 1,-88 1,81 1,15 1,-31 1,6 1,25 1,4 1,-8 1,-42 1,49 1,3 1,-4 1,-42 1,37 1,1 1,-14 1,-28 1,39 1,7 1,-11 1,-43 1,-60 1,66 1,32 1,-20 1,13 1,28 1,-25 1,9 1,9 1,-8 1,-26 1,17 1,16 1,-24 1,-6 1,22 1,11 1,-32 1,38 1,0 1,-24 1,12 1,-5 1,7 1,-4 1,7 1,0 1,-19 1,24 1,-7 1,-25 1,17 1,8 1,-18 1,14 1,11 1,-6 1,-24 1,11 1,18 1,0 1,2 1,-8 1,-4 1,2 1,4 1,3 1,-22 1,1 1,19 1,-49 1,-55 1,61 1,48 1,-12 1,-6 1,18 1,0 1,-2 1,1 1,-21 1,11 1,2 1,5 1,-14 1,18 1,-15 1,-20 1,35 1,-7 1,0 1,-38 1,-48 1,54 1,37" stroke="#00ffff"/>
<path transform="translate(722.87,0) scale(1.0568,0.5)" d="M0,1701l1,5 1,-28 1,-44 1,48 1,23 1,-5 1,-31 1,27 1,16 1,-40 1,-62 1,75 1,19 1,-27 1,30 1,-6 1,7 1,-12 1,5 1,-24 1,17 1,11 1,-38 1,44 1,-33 1,26 1,-2 1,-6 1,4 1,1 1,12 1,-25 1,-14 1,34 1,-28 1,18 1,16 1,-26 1,-17 1,45 1,-9 1,-2 1,-46 1,9 1,26 1,14 1,-16 1,14 1,-35 1,24 1,-44 1,56 1,-11 1,17 1,-3 1,-18 1,18 1,1 1,-42 1,31 1,10 1,3 1,-4 1,-10 1,14 1,-7 1,-2 1,5 1,-9 1,12 1,-15 1,-18 1,20 1,19 1,-35 1,20 1,-18 1,28 1,3 1,-35 1,-47 1,75 1,9 1,-23 1,21 1,-39 1,34 1,-13 1,15 1,-20 1,-17 1,24 1,-4 1,15 1,3 1,-33 1,30 1,-34 1,32 1,-21 1,25 1,-36 1,16 1,24 1,-41 1,-23 1,52 1,-11 1,5 1,4 1,11 1,-25 1,22 1,2 1,-6 1,6 1,-12 1,11 1,-1 1,7 1,-6 1,-6 1,-25 1,-57 1,83 1,8 1,-41 1,10 1,1 1,13 1,-16 1,-3 1,35 1,-5 1,-21 1,28 1,-3 1,-37 1,36 1,-1 1,5 1,-9 1,8 1,0 1,-7 1,5 1,-12 1,13 1,-14 1,-48 1,17 1,43 1,-4 1,-67 1,61 1,-47 1,46 1,-5 1,-6 1,-6" stroke="#20ffdf"/>
<path transform="translate(1576.92,0) scale(1.0568,0.5)" d="M0,1695l1,-32 1,48 1,-5 1,11 1,-2 1,-13 1,15 1,-1 1,-3 1,-28 1,25 1,-6 1,-23 1,-41 1,10 1,48 1,-28 1,30 1,-40 1,-58 1,64 1,52 1,-7 1,-38 1,-47 1,52 1,40 1,-3 1,-9 1,13 1,-11 1,-20 1,31 1,-19 1,-27 1,-47 1,52 1,-6 1,-43 1,51 1,29 1,-10 1,17 1,-5 1,-5 1,4 1,7 1,-9 1,9 1,-36 1,-41 1,45 1,29 1,-13 1,7 1,-10 1,-1 1,21 1,-1 1,-7 1,-7 1,12 1,2 1,-6 1,-30 1,-41 1,45 1,22 1,10 1,-4 1,-7 1,0 1,-2 1,8 1,6 1,-8 1,-13 1,13 1,-22 1,-25 1,8 1,47 1,-16 1,6 1,8 1,-10 1,-84 1,67 1,29 1,-36 1,28 1,6 1,-37 1,13 1,18 1,-19 1,23 1,-25 1,17 1,8 1,-34 1,18 1,16 1,1 1,-7 1,-3 1,-7 1,15" stroke="#20ffdf"/>
<path transform="translate(1034.9,0) scale(1.0568,0.5)" d="M0,1671l1,33 1,5 1,3 1,-61 1,46 1,-25 1,12 1,-23 1,54 1,-5 1,-39 1,5 1,39 1,-50 1,21 1,-11 1,37 1,-2 1,-2 1,-54 1,14 1,9 1,15 1,9 1,8 1,4 1,-8 1,-34 1,31 1,4 1,-7 1,20 1,-2 1,-2 1,3 1,0 1,-38 1,22 1,6 1,-13 1,-53 1,70 1,-11 1,18 1,-3 1,-10 1,-7 1,-6 1,18 1,1 1,-20 1,-26 1,29 1,-8 1,20 1,6 1,-51 1,48 1,-17 1,15 1,-3 1,3 1,-21 1,-2 1,34 1,0 1,-32 1,24 1,-10 1,9 1,0 1,-34 1,43 1,-2 1,1 1,-1 1,-4 1,8 1,-17 1,17 1,-12 1,-5 1,10 1,-10 1,6 1,12 1,-22 1,1 1,-2 1,10 1,8 1,-6 1,-4 1,11 1,3 1,-4 1,-5 1,-2 1,8 1,-25 1,7 1,-25 1,38 1,-11 1,20 1,-2 1,-2 1,-12 1,12 1,-2 1,-19 1,0 1,19 1,5 1,-3 1,1 1,-13 1,-1 1,11 1,4 1,-28 1,23 1,1 1,-6 1,-11 1,-9 1,19 1,-32 1,34 1,11 1,-7 1,7 1,-4 1,-11 1,9 1,-1 1,-5 1,-9 1,-25 1,44 1,-9 1,-1 1,-9 1,5 1,14 1,-4 1,-2 1,7 1,-7 1,-7 1,-6 1,8 1,-3 1,8 1,-10 1,18 1,-31 1,30 1,-36 1,20 1,9 1,2 1,-6 1,4 1,-3 1,1 1,-35 1,32 1,-25 1,34 1,-12 1,13 1,-6 1,-2 1,-12 1,0 1,-3 1,17 1,-1 1,-15 1,10 1,5 1,-6 1,-10 1,4 1,15 1,0 1,2 1,-29 1,-35 1,62 1,3 1,-4 1,-18 1,-22 1,34 1,0 1,8 1,0 1,-1 1,-18 1,18 1,-21 1,11" stroke="#40ffbf"/>
<path transform="translate(712.85,0) scale(1.0568,0.5)" d="M0,1680l1,-15 1,45 1,-16 1,-15 1,30 1,1 1,-58 1,-64 1,71 1,46 1,-63 1,60 1,-27 1,35 1,-12 1,11 1,-29 1,5 1,22 1,-8 1,-30 1,-51 1,56 1,-7 1,41 1,-9 1,2 1,-17 1,12 1,-11 1,25 1,-76 1,64 1,6 1,3 1,-2 1,-4 1,-37 1,2 1,27 1,-18 1,34 1,-73 1,17 1,54 1,2 1,-106 1,-17 1,72 1,50 1,-41 1,-43 1,49 1,36 1,-6 1,7 1,-12 1,10 1,-44 1,37 1,-42 1,46 1,-35 1,-2 1,-39 1,21 1,44 1,-17 1,-43 1,68 1,-11 1,19 1,-2 1,-1 1,2 1,-30 1,10 1,21 1,1 1,-23 1,12 1,-6 1,16 1,-1 1,-12 1,-3 1,3 1,12 1,-24 1,27 1,-4 1,-13 1,19 1,-3 1,-37 1,-22 1,55 1,-15 1,-33 1,35 1,12 1,-1 1,5 1,-5 1,0 1,-3 1,-13 1,29 1,-11 1,-8 1,11 1,-26 1,35 1,-11 1,7 1,2 1,-18 1,7 1,7 1,-10 1,-18 1,19 1,6 1,-15 1,-14 1,23 1,7 1,7 1,-2 1,-3 1,-25 1,33 1,-25 1,17 1,8 1,-19 1,-1 1,20 1,-4 1,2 1,-32 1,24 1,-1 1,-25 1,3 1,23 1,0 1,-1 1,-15 1,16 1,-11 1,12 1,1 1,-17 1,23 1,0 1,-11 1,12 1,-17 1,15 1,-16 1,-1 1,19 1,-2 1,-14 1,13 1,4 1,-6 1,-13 1,18 1,-6 1,-10" stroke="#60ff9f"/>
<path transform="translate(900.22,0) scale(1.0568,0.5)" d="M0,1713l1,-10 1,10 1,-6 1,-16 1,21 1,5 1,0 1,-7 1,-5 1,13 1,-12 1,2 1,12 1,-9 1,-6 1,7 1,3 1,6 1,-21 1,-9 1,20 1,6 1,0 1,2 1,2 1,-32 1,29 1,1 1,-13 1,5 1,3 1,5 1,-1 1,-14 1,-4 1,15 1,1 1,-10 1,-21 1,28 1,-6 1,-16 1,11 1,15 1,-4 1,-23 1,-5 1,-37 1,41" stroke="#60ff9f"/>
<path transform="translate(1353.97,0) scale(1.0568,0.5)" d="M0,1636l1,47 1,9 1,21 1,-15 1,-36 1,24 1,4 1,18 1,-36 1,33 1,4 1,-47 1,42 1,9 1,-13 1,16 1,-14 1,3 1,12 1,-15 1,6 1,-7 1,11 1,-19 1,14 1,-11 1,14 1,3 1,-15 1,-13 1,18 1,10 1,-4 1,-2 1,-11 1,18 1,-14 1,12 1,-24 1,29 1,-2 1,-8 1,10 1,-3 1,-13 1,8 1,9 1,-37 1,9 1,17 1,-24 1,20 1,-16 1,29 1,-7 1,-3 1,1 1,4 1,-7 1,14 1,1 1,-2 1,-16 1,-13 1,27 1,-8 1,12 1,-10 1,-32 1,30 1,13 1,0 1,-1 1,-38 1,22 1,14 1,-25 1,19 1,4 1,-10 1,-18 1,16 1,15 1,-8 1,-7 1,-11 1,19 1,-1 1,9 1,-7 1,-8 1,4 1,12 1,-1 1,-3 1,2 1,-9 1,-9 1,4 1,-9 1,7 1,-2 1,18 1,0 1,-5 1,7 1,-2 1,-22 1,7 1,18 1,-31 1,17 1,-10 1,-2 1,25 1,-2 1,-1 1,-3 1,-3 1,-10 1,-7 1,22 1,-16 1,19 1,-34 1,-37 1,41 1,-19 1,34 1,11 1,-6 1,11 1,-41 1,29 1,10 1,0 1,-9 1,-15 1,9 1,10 1,-9 1,-23 1,8 1,26 1,-9 1,13 1,-4 1,-20 1,-10 1,-37 1,41 1,9 1,11 1,-2 1,10 1,0 1,-60 1,34 1,-19 1,28 1,6 1,-2 1,-15 1,22 1,-9 1,2 1,-65 1,51 1,1 1,22 1,-12 1,15 1,-20 1,-17 1,34 1,-19 1,8 1,-22 1,26" stroke="#80ff80"/>
<path transform="translate(217.44,0) scale(1.0568,0.5)" d="M0,1629l1,13 1,50 1,16 1,-19 1,-34 1,1 1,39 1,16 1,-41 1,31 1,4 1,-16 1,-12 1,24 1,-1 1,-30 1,19 1,-6 1,-4 1,-9 1,-4 1,39 1,-7 1,-7 1,-5 1,25 1,-27 1,12 1,17 1,-58 1,36 1,22 1,-61 1,54 1,-13 1,7 1,13 1,-37 1,34 1,4 1,-34 1,31 1,-14 1,19 1,-5 1,9 1,-1 1,-5 1,-9 1,17 1,-3 1,4 1,-1 1,-17 1,18 1,-2 1,1 1,-15 1,5 1,3 1,-13 1,13 1,-31 1,35 1,-14 1,2 1,13 1,-6 1,1 1,0 1,7 1,1 1,-2 1,-1 1,3 1,-2 1,-3 1,1 1,-17 1,20 1,-33 1,31 1,-1 1,-19 1,14 1,9 1,-11 1,10 1,1 1,0 1,-10 1,-7 1,-7 1,24 1,-1 1,-6 1,-7 1,0 1,2 1,10 1,-2 1,2 1,-1 1,-4 1,-6 1,10 1,-1 1,-15 1,16 1,-4 1,0 1,-8 1,4 1,-1 1,9 1,-11 1,13 1,1 1,-1 1,-17 1,4 1,14 1,-3 1,-4 1,5 1,-5 1,1 1,-8 1,-3 1,2 1,14 1,0 1,-14 1,14 1,-3 1,-7 1,8 1,-12 1,-1 1,12 1,-8 1,-4 1,-1 1,7 1,4 1,0 1,0 1,-7 1,3 1,7 1,-5 1,-11 1,-3 1,0 1,20 1,1 1,-22 1,22 1,-19 1,18 1,-5 1,5 1,2 1,-23 1,-2 1,23 1,-4 1,-42 1,40 1,6 1,-2 1,-13 1,16 1,-2 1,-13 1,-7 1,12 1,7 1,0 1,-12 1,12 1,-3 1,1 1,2 1,-40 1,36 1,0 1,6 1,-34 1,30 1,-4 1,-6 1,9 1,-13 1,16 1,-4 1,-35 1,27 1,5 1,-2 1,8 1,-5 1,-18 1,20 1,-1 1,-24 1,-7 1,22" stroke="#9fff60"/>
<path transform="translate(670.88,0) scale(1.0568,0.5)" d="M0,1693l1,3 1,6 1,-16 1,20 1,-4 1,-6 1,-36 1,13 1,9 1,9 1,10 1,0 1,12 1,-35 1,33 1,-10 1,6 1,6 1,-4 1,-40 1,39 1,-56 1,-34 1,52 1,37 1,-17 1,-17 1,-47 1,52 1,20 1,-25 1,25 1,9 1,-12 1,10 1,-7 1,-4 1,15 1,-14 1,19 1,-37 1,21 1,8 1,-23 1,27 1,5 1,-2 1,-18 1,16 1,0 1,-29 1,35 1,-16 1,0 1,-13 1,4 1,27 1,-9 1,-39 1,25 1,26 1,-9 1,2 1,-18 1,25 1,-1 1,4 1,0 1,-9 1,4 1,2 1,-7 1,6 1,0 1,3 1,-20 1,17 1,-2 1,4 1,2 1,0 1,-4 1,4 1,0 1,-12 1,10 1,-25 1,27 1,0 1,-4 1,3 1,-23 1,21 1,-2 1,2 1,-6 1,9 1,-16 1,15 1,-3 1,-8 1,5 1,-6 1,9 1,-2 1,0 1,-6 1,2 1,10 1,-8 1,7 1,-20 1,16 1,-27 1,32 1,-7 1,-4 1,1 1,-6 1,10 1,6 1,-11 1,11 1,-6 1,0 1,6 1,-2 1,-1 1,-13 1,-9 1,25 1,-4 1,0 1,3 1,-3 1,-7 1,11 1,-5 1,-3 1,-3 1,5 1,3 1,-37 1,-37 1,41 1,30 1,-11 1,17 1,-4 1,3 1,0 1,-12 1,-3 1,7 1,9 1,-3 1,-3 1,-6 1,4 1,7 1,-16 1,4 1,-2 1,6 1,-5 1,12 1,-2 1,4 1,-1 1,-15 1,16 1,-14 1,13 1,-1 1,0 1,-20 1,20 1,-5 1,7 1,-6 1,6 1,-10 1,7 1,-1 1,1 1,1 1,-7 1,3 1,3 1,3 1,-3 1,-4 1,0 1,-7 1,14 1,-1 1,1 1,-11 1,-43 1,-49 1,54" stroke="#bfff40"/>
<path transform="translate(260.43,0) scale(1.0568,0.5)" d="M0,1695l1,11 1,-20 1,9 1,21 1,-3 1,-53 1,51 1,-12 1,1 1,4 1,-5 1,-9 1,11 1,6 1,7 1,-42 1,-48 1,53 1,32 1,-7 1,-8 1,-17 1,22 1,8 1,-20 1,18 1,0 1,-29 1,39 1,-46 1,34 1,12 1,-21 1,-25 1,31 1,-10 1,24 1,-4 1,5 1,-29 1,14 1,-1 1,-8 1,19 1,-28 1,-38 1,71 1,1 1,-18 1,-50 1,66 1,-34 1,13 1,-13 1,-3 1,35 1,-22 1,0 1,25 1,-33 1,32 1,-5 1,-2 1,-25 1,31 1,1 1,-9 1,5 1,1 1,-18 1,20 1,1 1,3 1,-5 1,9 1,-22 1,18 1,-2 1,6 1,5 1,0 1,-9 1,-11 1,18 1,-14 1,16 1,-4 1,-5 1,-1 1,-4 1,14 1,-17 1,15 1,-5 1,2 1,3 1,-3 1,-2 1,1 1,1 1,4 1,-2 1,0 1,3 1,-17 1,4 1,12 1,-9 1,5 1,-7 1,8 1,-9 1,13 1,-3 1,-1 1,-2 1,-2 1,7 1,0 1,-6 1,5 1,-1 1,-17 1,19 1,-3 1,4 1,-5 1,-3 1,-3 1,9 1,-4 1,2 1,-14 1,16 1,2 1,-3 1,-5 1,1 1,3 1,-2 1,-6 1,7 1,-10 1,4 1,8 1,-6 1,7 1,1 1,-6 1,6 1,-3 1,-1 1,0 1,-2 1,-11 1,18 1,-5 1,-3 1,3 1,-5 1,-1 1,6 1,-12 1,2 1,15 1,-2 1,-1 1,3 1,-7 1,5 1,0 1,2 1,-3 1,2 1,-4 1,4 1,-13 1,-6 1,19 1,-7 1,2 1,-9 1,10 1,-1 1,-4 1,2 1,-5 1,0 1,9 1,-11 1,1 1,11 1,-1 1,-3 1,-7 1,-9 1,15 1,-14 1,19 1,3 1,-10 1,1 1,7 1,0 1,-8 1,10 1,-11 1,5 1,6 1,-14 1,-4 1,17 1,-2 1,-6 1,9 1,-7 1,-2 1,7 1,-7" stroke="#dfff20"/>
<path transform="translate(784.95,0) scale(1.0568,0.5)" d="M0,1648l1,41 1,5 1,-6 1,-14 1,-3 1,42 1,-15 1,-2 1,18 1,-4 1,-5 1,-5 1,-2 1,4 1,-2 1,-2 1,17 1,-2 1,-20 1,23 1,-12 1,-11 1,19 1,11 1,-5 1,-11 1,-4 1,16 1,3 1,-37 1,-37 1,41 1,28 1,-3 1,9 1,-16 1,16 1,0 1,-11 1,8 1,3 1,1 1,-9 1,0 1,-9 1,17 1,-22 1,-3 1,15 1,8 1,-2 1,-3 1,-10 1,15 1,2 1,-2 1,-1 1,-1 1,3 1,-9 1,-7 1,-4 1,-3 1,24 1,-1 1,-16 1,3 1,14 1,-4 1,-9 1,11 1,-10 1,4 1,8 1,-4 1,-3 1,5 1,-4 1,-3 1,-8 1,16 1,1 1,0 1,-9 1,5 1,-3 1,4 1,-18 1,21 1,-8 1,-7 1,15 1,-15 1,14 1,-6 1,-1 1,6 1,-15 1,7 1,4 1,-7 1,-5 1,15 1,3" stroke="#ffff00"/>
<path transform="translate(900.22,0) scale(1.0568,0.5)" d="M0,1712l1,3 1,-7 1,14 1,-1 1,-13 1,12 1,-10 1,10 1,-1 1,-9 1,-15 1,16 1,-25 1,29 1,2 1,-10 1,16 1,-9 1,-18 1,24 1,-5 1,-5 1,-6 1,17 1,-5 1,-27 1,-35 1,38 1,27 1,1 1,-2 1,-6 1,0 1,1 1,-5 1,10 1,-3 1,-23 1,29 1,-8 1,7 1,-32 1,27 1,-11 1,18 1,-3 1,-2 1,-12 1,13 1,-1 1,1 1,4 1,-15 1,12 1,-3 1,-14 1,17 1,-6 1,9 1,-1 1,-14 1,14 1,-11 1,6 1,-19 1,23 1,-13 1,13 1,-4 1,1 1,-4 1,-6 1,9 1,5 1,1 1,-17 1,-5 1,18 1,-3 1,4 1,4 1,-5 1,-57 1,37 1,-5 1,21 1,-12 1,15 1,0 1,-7 1,2 1,-2 1,-25 1,34 1,-7 1,3 1,3 1,0 1,-2 1,4" stroke="#ffff00"/>
<path transform="translate(313.89,0) scale(1.0568,0.5)" d="M0,1715l1,-10 1,-10 1,-9 1,9 1,-8 1,27 1,-49 1,9 1,-45 1,51 1,-14 1,48 1,-30 1,7 1,14 1,-3 1,11 1,-1 1,1 1,-10 1,1 1,5 1,-44 1,29 1,-7 1,15 1,-17 1,0 1,23 1,-32 1,34 1,-99 1,84 1,15 1,0 1,-16 1,-8 1,1 1,13 1,12 1,-60 1,47 1,8 1,-17 1,14 1,-96 1,73 1,2 1,14 1,10 1,-21 1,19 1,-24 1,25 1,-8 1,11 1,-64 1,31 1,26 1,-35 1,19 1,26 1,-31 1,-15 1,33" stroke="#ffbf00"/>
<path transform="translate(1079.86,0) scale(1.0568,0.5)" d="M0,1702l1,-1 1,10 1,-1 1,-7 1,-23 1,29 1,-36 1,13 1,25 1,-10 1,5 1,1 1,-14 1,15 1,-66 1,15 1,35 1,23 1,-9 1,-24 1,7 1,-5 1,30 1,2 1,-23 1,9 1,-9 1,7 1,-1 1,-6 1,16 1,-24 1,11 1,17 1,-24 1,18 1,10 1,-33 1,22 1,-28 1,-4 1,42 1,-11 1,10 1,2 1,-13 1,-7 1,20 1,-8 1,6 1,-12 1,-12 1,-19 1,24 1,13 1,-15 1,9 1,12 1,-4 1,0 1,-15 1,16 1,-11 1,12 1,-35 1,35 1,-5 1,-8 1,-9 1,21 1,-24 1,27 1,-31 1,26 1,-8 1,-34 1,7 1,31 1,-4 1,4 1,0 1,-29 1,33 1,-10 1,-2 1,-18 1,36 1,-9 1,4 1,-21 1,-2 1,7 1,4 1,-25 1,42 1,-12 1,11 1,-1 1,-45 1,42 1,-14 1,3 1,-47 1,53 1,-19 1,9 1,-4 1,1 1,22 1,-55 1,55 1,-38 1,3 1,1 1,25 1,4 1,-32 1,23 1,-13 1,-36 1,60 1,-21 1,8 1,-17 1,21 1,-43 1,42 1,1 1,-30 1,-47 1,52 1,15 1,6 1,14 1,-33 1,-11 1,26 1,16 1,-1 1,-22 1,-65 1,74 1,-27 1,-8 1,-56 1,62 1,39 1,-3 1,-9 1,12 1,-1 1,-11 1,6 1,-13 1,-45 1,-71 1,79 1,44" stroke="#ffbf00"/>
<path transform="translate(255.93,0) scale(1.0568,0.5)" d="M0,1689l1,15 1,-22 1,26 1,0 1,4 1,-1 1,-50 1,-57 1,63 1,30 1,-2 1,-13 1,7 1,23 1,0 1,-12 1,-42 1,27 1,25 1,-7 1,6 1,5 1,-41 1,40 1,1 1,-6 1,-42 1,-3 1,-36 1,21 1,59 1,-6 1,8 1,-2 1,-67 1,66 1,-16 1,2 1,-12 1,17 1,-7 1,20 1,-14 1,17 1,-26 1,13 1,-4 1,-33 1,24 1,17 1,-15 1,15 1,8 1,-71 1,52 1,-5 1,21 1,-33 1,-2 1,19 1,-27 1,24 1,11 1,-10 1,22 1,-7 1,-4 1,-31 1,36 1,-7 1,1 1,8 1,-28 1,22 1,9 1,-45 1,33 1,3 1,-5 1,6 1,-69 1,57 1,-14 1,-66 1,102 1,-26 1,-3 1,15 1,12 1,-40 1,-48 1,53 1,-6 1,36 1,-6 1,7 1,4 1,-3 1,-39 1,-38 1,49" stroke="#ff8000"/>
<path transform="translate(922.86,0) scale(1.0568,0.5)" d="M0,1711l1,-33 1,33 1,4 1,0 1,-25 1,25 1,-25 1,6 1,-4 1,22 1,-4 1,-10 1,8 1,-1 1,-32 1,-45 1,45 1,-3 1,35 1,-7 1,16 1,-17 1,-24 1,-6 1,33 1,8 1,-21 1,18 1,8 1,-9 1,5 1,-13 1,8 1,9 1,-24 1,7 1,7 1,-21 1,30 1,-4 1,-1 1,8 1,-18 1,2 1,-22 1,-13 1,47 1,-20 1,9 1,-13 1,-30 1,15 1,14 1,28 1,-5 1,-5 1,9 1,-9 1,-19 1,24 1,5 1,-19 1,13 1,-2 1,-11 1,20 1,-7 1,-1 1,-58 1,53 1,12 1,-91 1,85 1,-3 1,-9 1,14 1,-2 1,-45 1,46 1,-16 1,6 1,-2 1,14 1,-20 1,22 1,-4 1,-12 1,6 1,10 1,-11 1,-23 1,29 1,-10 1,-1 1,-18 1,19 1,16 1,-19 1,11 1,-17 1,10 1,16 1,-7 1,-6 1,6 1,0 1,-49 1,56 1,-13 1,7 1,5 1,-9 1,-11 1,22 1,-8 1,-11 1,-4 1,13 1,6 1,-21 1,15 1,8 1,-7 1,-13 1,-4 1,-30 1,30 1,15 1,6 1,4 1,-13 1,-13 1,22 1,-26 1,9 1,16 1,-10 1,6 1,1 1,-28 1,18 1,13 1,-10 1,-12 1,26 1,1 1,-18 1,16 1,2 1,-5 1,-39 1,24 1,-12 1,8" stroke="#ff8000"/>
<path transform="translate(427.96,0) scale(1.0568,0.5)" d="M0,1669l1,45 1,-4 1,-31 1,-1 1,25 1,-8 1,-6 1,28 1,-28 1,29 1,-27 1,13 1,12 1,-16 1,-13 1,10 1,-14 1,-39 1,28 1,39 1,-20 1,-3 1,9 1,7 1,11 1,-4 1,5 1,-13 1,-21 1,20 1,-1 1,15 1,-16 1,8 1,0 1,1 1,-15 1,19 1,-33 1,6 1,11 1,12 1,-4 1,-38 1,37 1,-10 1,20 1,-5 1,-46 1,45 1,-24 1,15 1,13 1,-2 1,-3 1,-10 1,-19 1,24 1,4 1,6 1,-10 1,-39 1,44 1,8 1,-4 1,-29 1,-10 1,38 1,-98 1,104 1,-23 1,0 1,18 1,-50 1,49 1,-1 1,-14 1,17 1,-35 1,-2 1,15 1,25 1,-50 1,41 1,-13 1,-3 1,27 1,-50 1,29 1,2 1,16 1,-5 1,4 1,5 1,-3 1,1 1,-6 1,8 1,-3 1,2 1,-12 1,-30 1,37 1,-5 1,4 1,1 1,4 1,-6 1,-6 1,-19 1,24 1,8 1,-45 1,34 1,-15 1,22 1,-8 1,-3 1,-11 1,17 1,-13 1,-10 1,21 1,11 1,-1 1,1 1,-13 1,5 1,-26 1,32 1,-9 1,8 1,-2 1,-12 1,-8 1,-21 1,37 1,7 1,-15 1,13 1,-8 1,-5" stroke="#ff6000"/>
<path transform="translate(1124.82,0) scale(1.0568,0.5)" d="M0,1706l1,7 1,-22 1,-9 1,27 1,-31 1,24 1,13 1,-64 1,20 1,16 1,17 1,-13 1,-35 1,54 1,-5 1,-22 1,20 1,5 1,-47 1,39 1,-14 1,24 1,-40 1,40 1,3 1,1 1,-31 1,18 1,-1 1,-21 1,37 1,-26 1,1 1,-33 1,21 1,-43 1,47 1,20 1,-3 1,-9 1,11 1,3 1,-31 1,40 1,-1 1,-16 1,-8 1,-38 1,36 1,21 1,-4 1,7 1,-9 1,13 1,-37 1,27 1,3 1,-28 1,36 1,0 1,-28 1,24 1,3 1,-24 1,20 1,-33 1,8 1,23 1,-44 1,13 1,35 1,3 1,-10 1,-12 1,-29 1,38 1,9 1,-16 1,13 1,-11 1,9 1,-7 1,-5 1,7 1,-25 1,19 1,18 1,-32 1,13 1,5 1,-32 1,32 1,-11 1,-29 1,54 1,-24 1,11 1,4 1,3 1,4 1,3 1,-14 1,-2 1,-31 1,28 1,-5 1,24 1,-25 1,-65 1,85 1,-42 1,40 1,-7 1,-4 1,9 1,-11 1,-39 1,57 1,-50 1,20 1,21 1,-34 1,35 1,-59 1,67 1,-9 1,-5 1,1 1,-20 1,25 1,0 1,-27 1,-44" stroke="#ff6000"/>
<path transform="translate(644.94,0) scale(1.0568,0.5)" d="M0,1694l1,9 1,-21 1,30 1,-17 1,-12 1,-7 1,-44 1,25 1,39 1,-49 1,45 1,7 1,-10 1,-7 1,28 1,-55 1,-61 1,68 1,43 1,-23 1,21 1,-15 1,-27 1,8 1,10 1,-43 1,47 1,-41 1,38 1,25 1,-24" stroke="#ff4000"/>
<path transform="translate(1269.89,0) scale(1.0568,0.5)" d="M0,1713l1,-50 1,21 1,16 1,11 1,-5 1,5 1,-110 1,77 1,21 1,14 1,0 1,3 1,-54 1,54 1,-1 1,-52 1,24 1,-5 1,-18 1,41 1,4 1,-27 1,-1 1,-41 1,45 1,31 1,-45 1,39 1,7 1,-10 1,-21 1,6 1,20 1,-4 1,-15 1,13 1,-11 1,-14 1,24 1,-14 1,5 1,-26 1,34 1,-23 1,33 1,-65 1,55 1,-52 1,63 1,-13 1,13 1,-25 1,17 1,1 1,-1 1,8 1,0 1,-9 1,-25 1,-8 1,15 1,4 1,14 1,11 1,-54 1,53 1,-2 1,-3 1,-21 1,22 1,2 1,-2 1,-9 1,12 1,-7 1,-33 1,27 1,-9 1,-13 1,14 1,-10 1,33 1,-4 1,1 1,3 1,-15 1,12 1,-41 1,-3 1,41 1,-9 1,-5 1,0 1,6 1,8 1,-5 1,-14 1,12 1,3 1,-3 1,10 1,-19 1,18 1,-16 1,-19 1,21 1,-13 1,-11 1,26 1,12 1,-4 1,3 1,-41 1,30 1,9 1,5 1,-9 1,0 1,-4 1,-9 1,-8 1,31 1,-5 1,-31 1,-42 1,47 1,5 1,-15 1,12 1,-1 1,13 1,7 1,-10 1,5 1,-22 1,15 1,18 1,-37 1,42 1,-3 1,-47 1,38 1,4 1,-5 1,2 1,-2 1,-28 1,30 1,5 1,-48 1,39 1,13 1,-8 1,0 1,-11 1,-11 1,16 1,5 1,1 1,-14 1,22 1,-6 1,-32 1,2 1,0 1,-9 1,30 1,4 1,-32 1,38 1,0 1,-31 1,19 1,12 1,-22 1,24 1,-23 1,3 1,7 1,13 1,-5 1,-32 1,39 1,-15 1,-12" stroke="#ff4000"/>
<path transform="translate(795.98,0) scale(1.0568,0.5)" d="M0,1710l1,-20 1,5 1,6 1,-49 1,44 1,14 1,-11 1,12 1,-11 1,-8 1,21 1,3 1,0 1,-52 1,-20 1,-15 1,51 1,18 1,12 1,-5 1,-2 1,8 1,0 1,4 1,-3 1,-12 1,-23 1,24 1,0 1,-3 1,10 1,-21 1,10 1,9 1,11 1,-17 1,17 1,-48 1,-51 1,56 1,7 1,-7 1,42 1,-2 1,-41 1,32 1,-27 1,28 1,11 1,-25 1,5 1,17 1,-20 1,16 1,-39 1,45 1,-10 1,-17 1,7 1,21 1,-20 1,3 1,3 1,-47 1,51 1,5 1,-26 1,22 1,9 1,-35 1,35 1,-18 1,4 1,-7 1,18 1,-19 1,4 1,-10 1,19 1,-9 1,-2 1,10 1,-7 1,18 1,-51 1,-52 1,58 1,17 1,23 1,4 1,-41 1,37 1,-14 1,-3" stroke="#ff2000"/>
<path transform="translate(900.22,0) scale(1.0568,0.5)" d="M0,1717l1,-15 1,-27 1,-45 1,36" stroke="#ff2000"/>
<path transform="translate(1457.9,0) scale(1.0568,0.5)" d="M0,1700l1,13 1,-22 1,16 1,-9 1,-9 1,-27 1,22 1,18 1,-21 1,31 1,-7 1,4 1,0 1,-28 1,34 1,-9 1,8 1,-25 1,-2 1,21 1,-53 1,59 1,-14 1,-4 1,16 1,3 1,-1 1,-35 1,-11 1,37 1,-11 1,-9 1,-4 1,-17 1,2 1,32 1,-12 1,7 1,10 1,-8 1,-27 1,27 1,7 1,13 1,-8 1,-47 1,45 1,-10 1,-1 1,15 1,-5 1,-13 1,13 1,2 1,-6 1,10 1,-11 1,-21 1,32 1,2 1,-50 1,39 1,14 1,-13 1,5 1,-4 1,-13 1,21 1,-23 1,25 1,-56 1,8 1,45 1,-23 1,-29 1,51 1,-31 1,-44 1,34 1,45 1,-1 1,-42 1,41 1,-19 1,2 1,6 1,12 1,-22 1,25 1,-7 1,-10 1,14 1,3 1,-7 1,-37 1,-4 1,-52 1,58 1,16 1,17 1,-1 1,-1 1,-10 1,21 1,-13 1,-10 1,12 1,-8 1,-19 1,3 1,28 1,7 1,-9 1,-3 1,10 1,-26 1,23 1,-5 1,-45 1,44 1,-6 1,-14 1,-15 1,12 1,11 1,2 1,20 1,-21 1,15 1,-27 1,-10 1,38 1,-4 1,10 1,-12 1,-47 1,28 1,-13 1,39 1,-7 1,4 1,-46 1,31 1,-26 1,3 1,10 1,36 1,-15 1,12 1,-36 1,28 1,-32 1,25 1,14 1,-13 1,6 1,11 1,-12 1,-12 1,19 1,-42 1,21 1,26 1,-10 1,-21 1,5 1,6 1,-5" stroke="#ff2000"/>
<path transform="translate(190.05,0) scale(1.0568,0.5)" d="M0,1716l1,-20 1,17 1,4 1,5 1,-36 1,20 1,7 1,6 1,-9 1,9 1,3 1,-14 1,-12 1,-5 1,-25 1,52 1,1 1,-10 1,-2 1,-4 1,7 1,11 1,-21 1,-1 1,22 1,-10 1,-6 1,6 1,10 1,-2 1,-2 1,2 1,-13 1,12 1,2 1,-6 1,-1 1,-10 1,19 1,-18 1,16 1,2 1,-8 1,-4 1,-22 1,30 1,-5 1,-18 1,11 1,8 1,1 1,-30 1,28 1,6 1,-13 1,1 1,7 1,-2 1,7 1,2 1,0 1,-8 1,-24 1,26 1,1 1,3 1,-2 1,-16 1,17 1,2 1,2 1,-2 1,-3 1,-8 1,-2 1,2 1,8 1,1 1,2 1,2 1,-4 1,-7 1,5 1,2 1,1 1,-1 1,-21 1,25 1,-5 1,-1 1,6 1,-5 1,-2 1,-11 1,-3 1,-3 1,17 1,-2 1,7 1,1 1,0 1,-19 1,15 1,-3 1,-21 1,19 1,8 1,-11 1,10 1,-2 1,-7 1,0 1,-11 1,13 1,9 1,-28 1,5 1,18 1,-28 1,15 1,-18 1,35 1,-34 1,31 1,-2 1,1 1,2" stroke="#ff0000"/>
<path transform="translate(1630.88,0) scale(1.0568,0.5)" d="M0,1716l1,-14 1,13 1,-11 1,9 1,2 1,-4 1,4 1,3 1,-18 1,-4 1,-22 1,-10 1,54 1,-4 1,-25 1,30 1,-37 1,36 1,-5 1,-11 1,9 1,-6 1,14 1,-36 1,-3 1,14 1,1 1,17 1,4 1,1 1,-3 1,-7 1,6 1,-38 1,34 1,9 1,-12 1,12 1,-2 1,-10 1,1 1,1 1,8 1,-2 1,-22 1,-19 1,41 1,-9 1,12 1,-5 1,-12 1,4 1,0 1,-23 1,31 1,4 1,-16 1,18 1,-8 1,6 1,-38 1,40 1,-43 1,21 1,22 1,-32 1,20 1,-2 1,-17 1,28 1,-25 1,29 1,-25 1,2 1,17 1,0" stroke="#ff0000"/>
<path transform="translate(537.84,0) scale(1.0568,0.5)" d="M0,1709l1,5 1,-15 1,-8 1,18 1,-37 1,38 1,0 1,4 1,-3 1,-11 1,16 1,-2 1,2 1,2 1,-3 1,0 1,-3 1,-2 1,-23 1,-8 1,5 1,-9 1,4 1,-17 1,52 1,-1 1,-9 1,-12 1,-15 1,22 1,6 1,12 1,-33 1,20 1,-7 1,-7 1,11 1,-7 1,-5 1,28 1,-27 1,-3 1,7 1,10 1,8 1,-5 1,9 1,-8 1,-27 1,9 1,26 1,-43 1,29 1,-39 1,47 1,-5 1,-26 1,32 1,-1 1,7 1,0 1,-25 1,24 1,-22 1,9 1,-10 1,12 1,12 1,0 1,-5 1,-73 1,69 1,-4 1,-14 1,15 1,6 1,-40 1,-49 1,48 1,5 1,40 1,-16 1,0 1,-87 1,105 1,-10 1,-5 1,13 1,-13 1,13 1,-20 1,-5 1,22 1,3 1,-5 1,0 1,7 1,-16 1,17 1,-35 1,-48 1,48 1,24 1,3 1,4 1,4 1,-28 1,22 1,-26 1,4 1,-5 1,33 1,-28 1,-7 1,16 1,-3 1,20 1,-24 1,20 1,-1 1,-13 1,17 1,-14 1,12 1,-4 1,-5 1,3 1,5 1,5 1,-5 1,-10 1,2 1,-19 1,22 1,7 1,-27 1,12 1,19 1,-3 1,2 1,0 1,-20 1,1 1,17 1,-36 1,23 1,12 1,-8 1,3 1,2 1,-12 1,18 1,-16 1,-32 1,48 1,-7 1,4 1,-15 1,18 1,-18 1,-29 1,45 1,-21 1,-8 1,2 1,6 1,12 1,10 1,-2 1,3 1,-33 1,-13 1,23 1,4 1,-19 1,38 1,-20 1,6 1,-44 1,56 1,-1 1,-16 1,11 1,-6 1,-38" stroke="#df0000"/>
<path transform="translate(1303.82,0) scale(1.0568,0.5)" d="M0,1698l1,11 1,-1 1,-18 1,-23 1,35 1,4 1,-42 1,31 1,-30 1,18 1,17 1,-10 1,-5 1,22 1,1 1,-34 1,16 1,9 1,-1 1,-58 1,-8 1,15 1,62 1,-14 1,15 1,-7 1,-57 1,60 1,-66 1,54 1,-9 1,2 1,20 1,-2 1,-17 1,6 1,-1 1,13 1,5 1,-4 1,-24 1,-22 1,-57 1,63 1,40 1,-26 1,13 1,1 1,14 1,-9 1,-22 1,-44 1,48 1,0 1,-14 1,23 1,22 1,-9 1,-30 1,-45 1,51 1,8 1,-1 1,5 1,21 1,-1 1,-7 1,-5 1,-31 1,-51" stroke="#df0000"/>
<path transform="translate(1512.81,0) scale(1.0568,0.5)" d="M0,1683l1,36 1,-20 1,21 1,-18 1,12 1,-24 1,29 1,-1 1,-6 1,7 1,-28 1,27 1,-11 1,-14 1,25 1,-34 1,8 1,9 1,17 1,-6 1,-4 1,-7 1,2 1,10 1,0 1,-7 1,11 1,-36 1,39 1,0 1,-18 1,5 1,-6 1,-12 1,18 1,11 1,-25 1,26 1,0 1,1 1,-2 1,-25 1,19 1,-8 1,4 1,7 1,-3 1,-65 1,59 1,9 1,-3 1,-3 1,5 1,-24 1,26 1,-26 1,22 1,-4 1,8 1,2 1,-7 1,2 1,3 1,-17 1,11 1,4 1,-45 1,-51 1,56 1,35 1,-7 1,12 1,-8 1,9 1,-1 1,3 1,-4 1,1 1,3 1,2 1,-10 1,-16 1,11 1,0 1,0 1,1 1,-1 1,13 1,-17 1,-2 1,10 1,11 1,-20 1,1 1,8 1,10 1,-8 1,4 1,-8 1,-26 1,24 1,15 1,-4 1,-7 1,10 1,-16 1,18 1,-1 1,-14 1,-7 1,21 1,-22 1,16 1,5 1,-2 1,2 1,-30 1,21 1,-12 1,21 1,-35 1,11 1,21 1,-2 1,4 1,-3 1,4 1,-8 1,-7 1,-5 1,6 1,-7 1,-1 1,-14 1,-39 1,44 1,26 1,7 1,-18 1,17 1,-8 1,-3 1,-7 1,-30 1,13 1,28 1,6 1,-15 1,13 1,-5 1,-30 1,18 1,4 1,6 1,-39 1,24 1,19 1,-31 1,37 1,-3 1,-20 1,22 1,-39 1,31 1,9 1,-18 1,-2 1,8 1,-12 1,18 1,3 1,3 1,-21 1,-16 1,36 1,-45 1,-41 1,-80 1,89 1,71 1,-30 1,-39 1,44 1,29 1,-6 1,7 1,-14 1,-5" stroke="#bf0000"/>
<path transform="translate(1137.81,0) scale(1.0568,0.5)" d="M0,1707l1,2 1,-8 1,-12 1,16 1,-3 1,-17 1,30 1,-22 1,-44 1,37 1,-69 1,62 1,34 1,-18 1,6 1,4 1,-20 1,1 1,26 1,-16 1,3 1,2 1,-17 1,26 1,-8 1,-16 1,25 1,-26 1,28 1,-23 1,23 1,-16 1,6 1,-3 1,6 1,-14 1,-1 1,8 1,12 1,1 1,3 1,-34 1,-11 1,42 1,-44 1,46 1,-28 1,22 1,-84 1,91 1,-18 1,9 1,-111 1,95 1,17 1,-31 1,24 1,-31 1,43 1,-1 1,0 1,-19 1,13 1,5 1,-28 1,33 1,-22 1,-39 1,23 1,19 1,8 1,-13 1,13 1,7 1,-29 1,20 1,-34 1,43 1,-36 1,31 1,7 1,1 1,-14 1,17 1,-14 1,3 1,-10 1,17 1,-10 1,-10 1,25 1,-10 1,-10 1,-15 1,-39 1,39 1,30 1,-9 1,5 1,8 1,-23 1,25 1,-39 1,12 1,3 1,16 1,-2 1,-10 1,21 1,-20 1,-7 1,15 1,2 1,-11 1,2 1,11 1,-15 1,-15 1,37 1,2 1,-21 1,-1 1,20 1,-7 1,9 1,-8 1,0 1,-10 1,15 1,-6 1,5 1,0 1,-3 1,0 1,-14 1,10 1,-20 1,31 1,-4 1,-11 1,13 1,-19 1,-2 1,-14 1,20 1,14 1,-2 1,-18 1,11 1,-23 1,29 1,2 1,-4 1,2 1,-14 1,-1 1,19 1,-6 1,-2 1,-35 1,38 1,-1 1,2 1,-1 1,3 1,-14 1,7 1,0 1,9 1,-4 1,-20 1,24 1,-9 1,3 1,4 1,2 1,-8 1,8 1,-1 1,-8 1,-9 1,18 1,-12 1,-3 1,-3 1,5 1,8 1,-9 1,-14 1,27 1,-20 1,14 1,7 1,-11 1,10 1,0 1,-9 1,5 1,-6 1,-11 1,-5 1,19 1,6 1,-17 1,19 1,-10" stroke="#9f0000"/>
<path transform="translate(981.96,0) scale(1.0568,0.5)" d="M0,1707l1,-3 1,9 1,2 1,-10 1,-27 1,26 1,3 1,-3 1,-6 1,4 1,13 1,-34 1,14 1,6 1,-18 1,-39 1,43 1,3 1,-31 1,20 1,8 1,4 1,3 1,2 1,-2 1,2 1,10 1,-9 1,-9 1,1 1,12 1,-22 1,22 1,10 1,-3 1,-15 1,-10 1,23 1,-27 1,-1 1,26 1,-1 1,-51 1,36 1,12 1,-13 1,28 1,-2 1,-4 1,6 1,-41 1,32 1,8 1,-5 1,-30 1,-43 1,75 1,-16 1,16 1,4 1,-30 1,-18 1,42 1,0 1,-13 1,2 1,-13 1,28 1,-94 1,84 1,10 1,-18 1,2 1,7 1,-7 1,18 1,-3 1,2 1,-6 1,-61 1,39 1,6 1,23 1,-19 1,-22 1,-1 1,31 1,2 1,3 1,7 1,-13 1,-6 1,18 1,-11 1,-12 1,10 1,-20 1,30 1,-12 1,-11 1,32 1,-2 1,4 1,-6 1,-11 1,16 1,-27 1,25 1,-19 1,6 1,3 1,12 1,-18 1,8 1,2 1,-1 1,7 1,-21 1,9 1,8 1,4 1,-13 1,-1 1,6 1,-12 1,23 1,-9 1,8 1,-4 1,-2 1,7 1,-20 1,-7 1,20 1,3 1,-1 1,-21 1,26 1,-4 1,-3 1,1 1,-6 1,12 1,-1 1,1 1,-17 1,10 1,-34 1,-39 1,44 1,18 1,-1 1,-2 1,-9 1,17 1,3 1,-19 1,22 1,-12 1,-20 1,27 1,-12 1,5 1,2 1,-5 1,-40 1,5 1,26 1,19 1,-36 1,7 1,23 1,5 1,2 1,-52 1,16 1,21 1,-13 1,9 1,-11 1,-40 1,63 1,-50 1,47 1,-1 1,-48 1,19 1,-5 1,31 1,-40 1,11 1,18 1,18 1,8 1,-31 1,26 1,6 1,-45 1,-13 1,50 1,-29 1,24 1,-14 1,26 1,-34 1,-43 1,47 1,-64 1,88 1,2" stroke="#800000"/>
</g>
</g>
</g>
<g id="p4">
<path d="M253.46,865.5V1111.5M316.87,865.5V1111.5M380.27,865.5V1111.5M443.68,865.5V1111.5M507.09,865.5V1111.5M570.5,865.5V1111.5M633.91,865.5V1111.5M697.32,865.5V1111.5M760.72,865.5V1111.5M824.13,865.5V1111.5M887.54,865.5V1111.5M950.95,865.5V1111.5M1014.36,865.5V1111.5M1077.77,865.5V1111.5M1141.17,865.5V1111.5M1204.58,865.5V1111.5M1267.99,865.5V1111.5M1331.4,865.5V1111.5M1394.81,865.5V1111.5M1458.22,865.5V1111.5M1521.62,865.5V1111.5M1585.03,865.5V1111.5M1648.44,865.5V1111.5" stroke="rgba(38,38,38,0.15)" stroke-width="4.3" fill="none"/>
<path d="M190.05,1086.9H1711.85M190.05,1062.4H1711.85M190.05,1013.4H1711.85M190.05,964.4H1711.85M190.05,915.4H1711.85" stroke="rgba(38,38,38,0.15)" stroke-width="4.3" fill="none"/>
<path d="M190.05,865.5v17.3M190.05,1111.5v-17.3M200.62,865.5v9.4M200.62,1111.5v-9.4M211.19,865.5v9.4M211.19,1111.5v-9.4M221.75,865.5v9.4M221.75,1111.5v-9.4M232.32,865.5v9.4M232.32,1111.5v-9.4M242.89,865.5v9.4M242.89,1111.5v-9.4M253.46,865.5v17.3M253.46,1111.5v-17.3M264.03,865.5v9.4M264.03,1111.5v-9.4M274.59,865.5v9.4M274.59,1111.5v-9.4M285.16,865.5v9.4M285.16,1111.5v-9.4M295.73,865.5v9.4M295.73,1111.5v-9.4M306.3,865.5v9.4M306.3,1111.5v-9.4M316.87,865.5v17.3M316.87,1111.5v-17.3M327.43,865.5v9.4M327.43,1111.5v-9.4M338,865.5v9.4M338,1111.5v-9.4M348.57,865.5v9.4M348.57,1111.5v-9.4M359.14,865.5v9.4M359.14,1111.5v-9.4M369.71,865.5v9.4M369.71,1111.5v-9.4M380.27,865.5v17.3M380.27,1111.5v-17.3M390.84,865.5v9.4M390.84,1111.5v-9.4M401.41,865.5v9.4M401.41,1111.5v-9.4M411.98,865.5v9.4M411.98,1111.5v-9.4M422.55,865.5v9.4M422.55,1111.5v-9.4M433.12,865.5v9.4M433.12,1111.5v-9.4M443.68,865.5v17.3M443.68,1111.5v-17.3M454.25,865.5v9.4M454.25,1111.5v-9.4M464.82,865.5v9.4M464.82,1111.5v-9.4M475.39,865.5v9.4M475.39,1111.5v-9.4M485.96,865.5v9.4M485.96,1111.5v-9.4M496.52,865.5v9.4M496.52,1111.5v-9.4M507.09,865.5v17.3M507.09,1111.5v-17.3M517.66,865.5v9.4M517.66,1111.5v-9.4M528.23,865.5v9.4M528.23,1111.5v-9.4M538.8,865.5v9.4M538.8,1111.5v-9.4M549.36,865.5v9.4M549.36,1111.5v-9.4M559.93,865.5v9.4M559.93,1111.5v-9.4M570.5,865.5v17.3M570.5,1111.5v-17.3M581.07,865.5v9.4M581.07,1111.5v-9.4M591.64,865.5v9.4M591.64,1111.5v-9.4M602.2,865.5v9.4M602.2,1111.5v-9.4M612.77,865.5v9.4M612.77,1111.5v-9.4M623.34,865.5v9.4M623.34,1111.5v-9.4M633.91,865.5v17.3M633.91,1111.5v-17.3M644.48,865.5v9.4M644.48,1111.5v-9.4M655.04,865.5v9.4M655.04,1111.5v-9.4M665.61,865.5v9.4M665.61,1111.5v-9.4M676.18,865.5v9.4M676.18,1111.5v-9.4M686.75,865.5v9.4M686.75,1111.5v-9.4M697.32,865.5v17.3M697.32,1111.5v-17.3M707.88,865.5v9.4M707.88,1111.5v-9.4M718.45,865.5v9.4M718.45,1111.5v-9.4M729.02,865.5v9.4M729.02,1111.5v-9.4M739.59,865.5v9.4M739.59,1111.5v-9.4M750.16,865.5v9.4M750.16,1111.5v-9.4M760.72,865.5v17.3M760.72,1111.5v-17.3M771.29,865.5v9.4M771.29,1111.5v-9.4M781.86,865.5v9.4M781.86,1111.5v-9.4M792.43,865.5v9.4M792.43,1111.5v-9.4M803,865.5v9.4M803,1111.5v-9.4M813.57,865.5v9.4M813.57,1111.5v-9.4M824.13,865.5v17.3M824.13,1111.5v-17.3M834.7,865.5v9.4M834.7,1111.5v-9.4M845.27,865.5v9.4M845.27,1111.5v-9.4M855.84,865.5v9.4M855.84,1111.5v-9.4M866.41,865.5v9.4M866.41,1111.5v-9.4M876.97,865.5v9.4M876.97,1111.5v-9.4M887.54,865.5v17.3M887.54,1111.5v-17.3M898.11,865.5v9.4M898.11,1111.5v-9.4M908.68,865.5v9.4M908.68,1111.5v-9.4M919.25,865.5v9.4M919.25,1111.5v-9.4M929.81,865.5v9.4M929.81,1111.5v-9.4M940.38,865.5v9.4M940.38,1111.5v-9.4M950.95,865.5v17.3M950.95,1111.5v-17.3M961.52,865.5v9.4M961.52,1111.5v-9.4M972.09,865.5v9.4M972.09,1111.5v-9.4M982.65,865.5v9.4M982.65,1111.5v-9.4M993.22,865.5v9.4M993.22,1111.5v-9.4M1003.79,865.5v9.4M1003.79,1111.5v-9.4M1014.36,865.5v17.3M1014.36,1111.5v-17.3M1024.93,865.5v9.4M1024.93,1111.5v-9.4M1035.49,865.5v9.4M1035.49,1111.5v-9.4M1046.06,865.5v9.4M1046.06,1111.5v-9.4M1056.63,865.5v9.4M1056.63,1111.5v-9.4M1067.2,865.5v9.4M1067.2,1111.5v-9.4M1077.77,865.5v17.3M1077.77,1111.5v-17.3M1088.33,865.5v9.4M1088.33,1111.5v-9.4M1098.9,865.5v9.4M1098.9,1111.5v-9.4M1109.47,865.5v9.4M1109.47,1111.5v-9.4M1120.04,865.5v9.4M1120.04,1111.5v-9.4M1130.61,865.5v9.4M1130.61,1111.5v-9.4M1141.17,865.5v17.3M1141.17,1111.5v-17.3M1151.74,865.5v9.4M1151.74,1111.5v-9.4M1162.31,865.5v9.4M1162.31,1111.5v-9.4M1172.88,865.5v9.4M1172.88,1111.5v-9.4M1183.45,865.5v9.4M1183.45,1111.5v-9.4M1194.02,865.5v9.4M1194.02,1111.5v-9.4M1204.58,865.5v17.3M1204.58,1111.5v-17.3M1215.15,865.5v9.4M1215.15,1111.5v-9.4M1225.72,865.5v9.4M1225.72,1111.5v-9.4M1236.29,865.5v9.4M1236.29,1111.5v-9.4M1246.86,865.5v9.4M1246.86,1111.5v-9.4M1257.42,865.5v9.4M1257.42,1111.5v-9.4M1267.99,865.5v17.3M1267.99,1111.5v-17.3M1278.56,865.5v9.4M1278.56,1111.5v-9.4M1289.13,865.5v9.4M1289.13,1111.5v-9.4M1299.7,865.5v9.4M1299.7,1111.5v-9.4M1310.26,865.5v9.4M1310.26,1111.5v-9.4M1320.83,865.5v9.4M1320.83,1111.5v-9.4M1331.4,865.5v17.3M1331.4,1111.5v-17.3M1341.97,865.5v9.4M1341.97,1111.5v-9.4M1352.54,865.5v9.4M1352.54,1111.5v-9.4M1363.1,865.5v9.4M1363.1,1111.5v-9.4M1373.67,865.5v9.4M1373.67,1111.5v-9.4M1384.24,865.5v9.4M1384.24,1111.5v-9.4M1394.81,865.5v17.3M1394.81,1111.5v-17.3M1405.38,865.5v9.4M1405.38,1111.5v-9.4M1415.94,865.5v9.4M1415.94,1111.5v-9.4M1426.51,865.5v9.4M1426.51,1111.5v-9.4M1437.08,865.5v9.4M1437.08,1111.5v-9.4M1447.65,865.5v9.4M1447.65,1111.5v-9.4M1458.22,865.5v17.3M1458.22,1111.5v-17.3M1468.78,865.5v9.4M1468.78,1111.5v-9.4M1479.35,865.5v9.4M1479.35,1111.5v-9.4M1489.92,865.5v9.4M1489.92,1111.5v-9.4M1500.49,865.5v9.4M1500.49,1111.5v-9.4M1511.06,865.5v9.4M1511.06,1111.5v-9.4M1521.62,865.5v17.3M1521.62,1111.5v-17.3M1532.19,865.5v9.4M1532.19,1111.5v-9.4M1542.76,865.5v9.4M1542.76,1111.5v-9.4M1553.33,865.5v9.4M1553.33,1111.5v-9.4M1563.9,865.5v9.4M1563.9,1111.5v-9.4M1574.47,865.5v9.4M1574.47,1111.5v-9.4M1585.03,865.5v17.3M1585.03,1111.5v-17.3M1595.6,865.5v9.4M1595.6,1111.5v-9.4M1606.17,865.5v9.4M1606.17,1111.5v-9.4M1616.74,865.5v9.4M1616.74,1111.5v-9.4M1627.31,865.5v9.4M1627.31,1111.5v-9.4M1637.87,865.5v9.4M1637.87,1111.5v-9.4M1648.44,865.5v17.3M1648.44,1111.5v-17.3M1659.01,865.5v9.4M1659.01,1111.5v-9.4M1669.58,865.5v9.4M1669.58,1111.5v-9.4M1680.15,865.5v9.4M1680.15,1111.5v-9.4M1690.71,865.5v9.4M1690.71,1111.5v-9.4M1701.28,865.5v9.4M1701.28,1111.5v-9.4M1711.85,865.5v17.3M1711.85,1111.5v-17.3M190.05,1106.5h9.4M1711.85,1106.5h-9.4M190.05,1101.6h9.4M1711.85,1101.6h-9.4M190.05,1096.7h9.4M1711.85,1096.7h-9.4M190.05,1091.8h9.4M1711.85,1091.8h-9.4M190.05,1082h9.4M1711.85,1082h-9.4M190.05,1077.1h9.4M1711.85,1077.1h-9.4M190.05,1072.2h9.4M1711.85,1072.2h-9.4M190.05,1067.3h9.4M1711.85,1067.3h-9.4M190.05,1050.15h9.4M1711.85,1050.15h-9.4M190.05,1037.9h9.4M1711.85,1037.9h-9.4M190.05,1025.65h9.4M1711.85,1025.65h-9.4M190.05,1001.15h9.4M1711.85,1001.15h-9.4M190.05,988.9h9.4M1711.85,988.9h-9.4M190.05,976.65h9.4M1711.85,976.65h-9.4M190.05,952.15h9.4M1711.85,952.15h-9.4M190.05,939.9h9.4M1711.85,939.9h-9.4M190.05,927.65h9.4M1711.85,927.65h-9.4M190.05,903.15h9.4M1711.85,903.15h-9.4M190.05,890.9h9.4M1711.85,890.9h-9.4M190.05,878.65h9.4M1711.85,878.65h-9.4M190.05,1111.4h17.3M1711.85,1111.4h-17.3M190.05,1086.9h17.3M1711.85,1086.9h-17.3M190.05,1062.4h17.3M1711.85,1062.4h-17.3M190.05,1013.4h17.3M1711.85,1013.4h-17.3M190.05,964.4h17.3M1711.85,964.4h-17.3M190.05,915.4h17.3M1711.85,915.4h-17.3M190.05,866.4h17.3M1711.85,866.4h-17.3" stroke="#262626" stroke-width="4.3" fill="none"/>
<rect x="190.05" y="865.5" width="1521.8" height="246" fill="none" stroke="#262626" stroke-width="4.5"/>
<path transform="translate(162.7,877.74) scale(28.6,-28.6)" d="M.3936,0H.2563V.5171Q.1812,.4468 .0791,.4131V.5376Q.1328,.5552 .1958,.6042Q.2588,.6533 .2822,.7188H.3936Z" fill="#262626"/>
<text x="138.85" y="926.74" font-size="28.6" text-anchor="start" fill="#262626" >0.8</text>
<text x="138.85" y="975.74" font-size="28.6" text-anchor="start" fill="#262626" >0.6</text>
<text x="138.85" y="1024.74" font-size="28.6" text-anchor="start" fill="#262626" >0.4</text>
<text x="138.85" y="1073.74" font-size="28.6" text-anchor="start" fill="#262626" >0.2</text>
<text x="138.85" y="1098.24" font-size="28.6" text-anchor="start" fill="#262626" >0.</text>
<path transform="translate(162.7,1098.24) scale(28.6,-28.6)" d="M.3936,0H.2563V.5171Q.1812,.4468 .0791,.4131V.5376Q.1328,.5552 .1958,.6042Q.2588,.6533 .2822,.7188H.3936Z" fill="#262626"/>
<text x="162.7" y="1122.74" font-size="28.6" text-anchor="start" fill="#262626" >0</text>
<clipPath id="c3"><rect x="187.85" y="863.3" width="1526.2" height="250.4"/></clipPath>
<g clip-path="url(#c3)">
<g class="n" fill="none" stroke-width="4" stroke-linejoin="round" stroke-linecap="round">
<path transform="translate(190.05,0) scale(1.5852,0.25)" d="M0,4326l1,2 1,0 1,-6 1,-2 1,1 1,4 1,2 1,-7 1,-11 1,11 1,-4 1,-6 1,-8 1,19 1,1 1,-3 1,-5 1,7 1,4 1,2 1,12 1,-11 1,5 1,-2 1,-11 1,2 1,6 1,-6 1,4 1,9 1,-8 1,-2 1,-3 1,-1 1,-5 1,11 1,-2 1,0 1,-5 1,-5 1,-2 1,2 1,1 1,6 1,-7 1,6 1,4 1,-3 1,2 1,-1 1,-5 1,9 1,-8 1,1 1,-2 1,4 1,2 1,-3 1,0 1,10 1,-2 1,0 1,5 1,5 1,-2 1,-5 1,-3 1,-5 1,3 1,11 1,-5 1,-6 1,3 1,-4 1,5 1,6 1,-12 1,2 1,-1 1,-8 1,3 1,4 1,-10 1,-3 1,7 1,0 1,-2 1,8 1,2 1,-8 1,2 1,1 1,5 1,-9 1,7" stroke="#00009f"/>
<path transform="translate(1017.91,0) scale(1.5852,0.25)" d="M0,4317l1,13 1,3 1,-4 1,5 1,5 1,-6 1,5 1,1 1,-6 1,-1 1,5 1,-3 1,0 1,2 1,-3 1,-2 1,7 1,-11 1,-5 1,10 1,-10 1,4 1,-2 1,1 1,8 1,-13 1,2 1,5 1,-8 1,12 1,0 1,2 1,-2 1,-8 1,11 1,-2 1,1 1,-4 1,-3 1,-2 1,-1 1,1 1,-2 1,7 1,-7 1,11 1,-5 1,5 1,-7 1,-6 1,12 1,-8 1,6 1,5 1,-8 1,9 1,-9 1,-9 1,12 1,-18 1,9 1,7 1,1 1,2 1,-7 1,7 1,-4 1,-5 1,7 1,4 1,1 1,-16 1,3 1,13 1,-18 1,14 1,-6 1,6" stroke="#00009f"/>
<path transform="translate(1689.85,0) scale(1.5852,0.25)" d="M0,4325l1,-4 1,5 1,-4 1,-10 1,11 1,1 1,1 1,-7 1,12 1,-3 1,4 1,-4 1,1" stroke="#00009f"/>
<path transform="translate(421.93,0) scale(1.5852,0.25)" d="M0,4324l1,-4 1,4 1,2 1,3 1,3 1,-3 1,-1 1,3 1,-8 1,2 1,-4 1,10 1,-6 1,0 1,-2 1,8 1,3 1,-1 1,-3 1,5 1,-12 1,14 1,-9 1,7 1,-9 1,-7 1,8 1,-5 1,2 1,7 1,0 1,-1 1,-6 1,4 1,4 1,1 1,-2 1,3 1,-8 1,14 1,-12 1,-8 1,-1 1,2 1,-4 1,5 1,0 1,3 1,-7 1,5 1,3 1,-5 1,12 1,-9 1,2 1,-11 1,9 1,6 1,0 1,-10 1,5 1,11 1,-6 1,3 1,-12 1,10 1,2 1,-7 1,-1 1,9 1,-6 1,3 1,9 1,-10 1,0 1,-3 1,-1 1,4 1,-1 1,0 1,-2 1,7 1,-3 1,6 1,2 1,-8 1,6 1,-5 1,4 1,0 1,-8 1,-5 1,14 1,-6 1,3 1,-1 1,-3 1,4 1,-7 1,8 1,3 1,-1 1,3 1,0 1,-2 1,-4 1,-3 1,5 1,-1 1,2 1,-2 1,-4 1,-11 1,5 1,-1 1,4 1,-4 1,-2 1,7 1,0 1,-3 1,3 1,4 1,-7 1,14 1,-3 1,-3 1,-2 1,2 1,-2 1,-7 1,-2 1,-2 1,1 1,8 1,-7 1,-1 1,-7 1,5 1,-3 1,-6 1,9 1,-3 1,-22" stroke="#0000bf"/>
<path transform="translate(334.37,0) scale(1.5852,0.25)" d="M0,4327l1,4 1,5 1,1 1,-3 1,5 1,2 1,-8 1,7 1,-4 1,-3 1,-9 1,1 1,9 1,0 1,-1 1,0 1,7 1,-21 1,10 1,-2 1,-1 1,5 1,5 1,-4 1,-3 1,1 1,1 1,-4 1,0 1,6 1,-5 1,6 1,-2 1,-3 1,5 1,-2 1,2 1,3 1,-2 1,2 1,-5 1,3 1,-1 1,2 1,-10 1,2 1,-8 1,-1 1,4 1,10 1,-3 1,4 1,-9 1,0 1,6 1,3 1,-13 1,5 1,1 1,-1 1,10 1,-5 1,-1 1,3 1,-1 1,-5 1,10 1,1 1,-7 1,6 1,4 1,-17 1,2" stroke="#0000df"/>
<path transform="translate(529.86,0) scale(1.5852,0.25)" d="M0,4321l1,11 1,-3 1,-1 1,0 1,-7 1,4 1,9 1,0 1,-13 1,8 1,-4 1,-2" stroke="#0000df"/>
<path transform="translate(1243.9,0) scale(1.5852,0.25)" d="M0,4335l1,-1 1,-1 1,-1 1,3 1,5 1,-9 1,2 1,-5 1,10 1,-6 1,-1 1,2 1,4 1,-11 1,8 1,3 1,3 1,-5 1,-3 1,1 1,-4 1,7 1,-5 1,-2 1,-3 1,7 1,3 1,5 1,-12 1,6 1,-2 1,7 1,-6 1,-3" stroke="#0000df"/>
<path transform="translate(1131.79,0) scale(1.5852,0.25)" d="M0,4337l1,-8 1,0 1,-5 1,1 1,1 1,-1 1,6 1,6 1,-7 1,-5 1,-1 1,7 1,3 1,-4 1,6 1,3 1,-6 1,-4 1,7 1,-5 1,-1 1,2 1,-1 1,6 1,-9 1,-2 1,1 1,-5 1,-1 1,4 1,0 1,15 1,-10 1,-2 1,8 1,3 1,-8 1,2 1,-6 1,4 1,0 1,-3 1,-8 1,7 1,3 1,2 1,1 1,3 1,3 1,-1 1,-1 1,-2 1,-2 1,8 1,-5 1,-13 1,3 1,4 1,3 1,-1 1,0 1,-2 1,7 1,3 1,-20 1,15 1,5 1,-1 1,-11 1,-1 1,2 1,2 1,6 1,-1 1,-5 1,-11 1,12 1,-6 1,2 1,-2 1,-1 1,4 1,-3 1,1 1,-2 1,12 1,-5 1,1 1,-2 1,3 1,4 1,-2 1,5 1,-2 1,-11 1,-3 1,6 1,9 1,-3 1,-11 1,13 1,-5 1,-10 1,7 1,-10 1,-2 1,2 1,8 1,2 1,4 1,7 1,-3 1,-14 1,0 1,2 1,-8 1,7 1,-8 1,10 1,1 1,-4 1,3 1,5 1,-2 1,0 1,-1 1,11 1,-8 1,2 1,-5 1,-7 1,8 1,10 1,-11 1,8 1,-4 1,2 1,-6 1,9 1,-8 1,7 1,-5 1,-5 1,5 1,2 1,-8 1,12 1,-8 1,-3 1,2 1,-6 1,8 1,-5 1,2 1,3 1,-9 1,13 1,-7 1,-3 1,-2 1,6 1,2 1,-1 1,-5 1,10 1,-9 1,-1 1,-1 1,10 1,-11 1,-10 1,14 1,-3 1,-4 1,-1 1,9 1,3 1,-6 1,-8 1,13 1,-3 1,-6 1,8 1,0 1,-2 1,0 1,-3 1,-4 1,1 1,7 1,-1 1,-7 1,8 1,-3 1,-10 1,11 1,-4 1,6" stroke="#0000ff"/>
<path transform="translate(566.82,0) scale(1.5852,0.25)" d="M0,4317l1,6 1,3 1,-1 1,0 1,5 1,-5 1,15 1,-6 1,-12 1,7 1,4 1,-4 1,-3 1,-3 1,2 1,5 1,-4 1,-3 1,3 1,8 1,-9 1,-1 1,-10 1,15 1,-3 1,-4 1,-1 1,7 1,1 1,-5 1,-1 1,-11 1,13 1,-1 1,3 1,6 1,-7 1,1 1,-2 1,-3 1,2 1,3 1,-8 1,4 1,3 1,-4 1,2 1,-7 1,4 1,6 1,4 1,-4 1,-1 1,-5 1,1 1,-2 1,1 1,-5 1,10 1,-8 1,6 1,8 1,-5 1,-5 1,5 1,0 1,-10 1,11 1,0 1,-11 1,14 1,-7 1,3 1,5 1,-11 1,-1 1,7 1,-6 1,-7 1,12 1,-2 1,2 1,5 1,-1 1,1 1,6 1,-3 1,1 1,-2 1,-6 1,8 1,-1 1,-6 1,5 1,-1 1,-2 1,7 1,-13 1,-8 1,8 1,2 1,-2 1,0 1,1 1,-4 1,-4 1,6 1,2 1,3 1,-7 1,5 1,-3 1,1 1,10 1,-7 1,7 1,-5 1,9 1,-3 1,-5 1,-3 1,2 1,7 1,-9 1,-2 1,4 1,-1 1,2 1,-4 1,3 1,7" stroke="#0020ff"/>
<path transform="translate(369.81,0) scale(1.5852,0.25)" d="M0,4331l1,-5 1,-1 1,5 1,-6 1,-2 1,1 1,6 1,0 1,-7 1,9 1,-4 1,1 1,-11 1,-2 1,-3 1,6 1,2 1,-3 1,6 1,-1 1,4 1,3 1,-7 1,-6 1,8 1,-1 1,7 1,-1 1,-2 1,-6 1,7 1,6 1,-13 1,5 1,5 1,-2 1,0 1,3 1,-1 1,0 1,2 1,1 1,-2 1,-3 1,-1 1,-3 1,4 1,2 1,-4 1,-5 1,-2 1,10 1,-3 1,-2 1,0 1,-1 1,-1 1,10 1,-7 1,-6 1,10 1,5 1,-5 1,-2 1,9 1,-2 1,0 1,6 1,-9 1,6 1,-8 1,-1 1,6 1,-1 1,1 1,4 1,-6 1,0 1,3 1,-2 1,-1 1,-2 1,-5 1,3 1,9 1,-1 1,1 1,-2 1,5 1,-15 1,15 1,-6 1,-1 1,-1 1,-2 1,5 1,-5 1,7 1,-7 1,-4 1,7 1,-6 1,-3 1,2 1,7 1,-8 1,4 1,-3 1,-6 1,8 1,0 1,-4 1,-5 1,3 1,-7 1,-3 1,18 1,-7 1,3 1,5 1,5 1,-1 1,-12 1,5 1,1 1,-1 1,-6 1,16 1,-14 1,14 1,-4 1,3 1,-2 1,1 1,-1 1,0" stroke="#0040ff"/>
<path transform="translate(1437.86,0) scale(1.5852,0.25)" d="M0,4329l1,3 1,5 1,-6 1,-1 1,0 1,4 1,0 1,-5 1,-2 1,-1 1,5 1,-3 1,1 1,-4 1,8 1,-6 1,-1 1,8 1,-7 1,6 1,-6 1,1 1,-1 1,5 1,-8 1,5 1,-1 1,1 1,-1 1,-1 1,-4 1,6 1,2 1,4 1,1 1,-7 1,-2 1,-4 1,7 1,1 1,4 1,-9 1,5 1,5 1,-6 1,3 1,3 1,-3 1,-6 1,9 1,-8 1,7 1,6 1,-7 1,-3 1,1 1,-8 1,12 1,-6 1,-3 1,3 1,0 1,-1 1,5 1,4 1,-18 1,13 1,-10 1,8 1,-6 1,0 1,5 1,-5 1,7 1,-10 1,3 1,0 1,-4 1,11 1,-3 1,-6 1,12 1,-3 1,-6 1,7 1,5 1,-17 1,11 1,-3 1,-9 1,-3 1,5 1,3 1,-1 1,2 1,2 1,-5 1,1 1,-3 1,9 1,9 1,-18 1,9 1,-6 1,-7 1,11 1,5 1,-10 1,2 1,0 1,2 1,7 1,-2 1,-7 1,-2 1,5 1,-4 1,0 1,7 1,-3 1,0 1,4 1,3 1,-8 1,2 1,7 1,0 1,1 1,1 1,-6 1,0" stroke="#0060ff"/>
<path transform="translate(869.91,0) scale(1.5852,0.25)" d="M0,4311l1,-9 1,4 1,-1 1,11 1,-6 1,6 1,-9 1,8 1,7 1,0 1,-3 1,3 1,-7 1,7 1,0 1,0" stroke="#0080ff"/>
<path transform="translate(900.22,0) scale(1.5852,0.25)" d="M0,4382l1,2 1,-3 1,-3 1,5 1,-3 1,-1 1,-1 1,1 1,2 1,1 1,3 1,-4 1,1 1,-1 1,0 1,-72 1,7 1,-2" stroke="#0080ff"/>
<path transform="translate(1510.85,0) scale(1.5852,0.25)" d="M0,4311l1,6 1,-11 1,9 1,-6 1,-3 1,7 1,-22 1,13 1,6 1,1 1,-4 1,10 1,-9 1,-3 1,-1 1,-6 1,6 1,-4 1,1 1,-4 1,2 1,5 1,6 1,-11 1,6 1,3 1,-11 1,12 1,-5 1,1 1,2 1,-6 1,10 1,3 1,-11 1,6 1,-4 1,8 1,1 1,0 1,-4 1,-9 1,11 1,1 1,-4 1,4 1,-3 1,-2 1,-8 1,11 1,1 1,0 1,1 1,-2 1,-18 1,20 1,-5 1,4 1,-7 1,6 1,8 1,-12 1,1 1,3 1,-7 1,2 1,1 1,-1 1,-9 1,13 1,-2 1,0 1,-3 1,6 1,-10 1,8 1,-4 1,-6 1,6 1,4 1,5 1,5 1,-1 1,3 1,-10 1,11 1,-9 1,-1 1,-3 1,4 1,-2 1,5 1,-4 1,-7 1,4 1,2 1,5 1,-9 1,7 1,-5 1,-3 1,5 1,-5 1,1 1,6 1,-1 1,-2 1,5 1,-4 1,1 1,2 1,1 1,-2 1,-3 1,6 1,9 1,-6 1,-6 1,-2 1,-2 1,-2" stroke="#0080ff"/>
<path transform="translate(552.81,0) scale(1.5852,0.25)" d="M0,4317l1,4 1,2 1,0 1,-2 1,7 1,1 1,-3 1,4 1,1 1,2 1,-7 1,-8 1,6 1,1 1,-5 1,4 1,14 1,-4 1,-4 1,-2 1,2 1,4 1,-3 1,-6 1,0 1,-1 1,3 1,8 1,2 1,-3 1,1 1,1 1,3 1,-10 1,4 1,-5 1,0 1,-14 1,-1 1,18 1,-3 1,-5 1,5 1,4 1,-8 1,-1 1,9 1,1 1,4 1,0 1,-6" stroke="#009fff"/>
<path transform="translate(1321.83,0) scale(1.5852,0.25)" d="M0,4313l1,3 1,4 1,7 1,3 1,1 1,-5 1,-5 1,5 1,9 1,-13 1,5 1,4 1,-10 1,5 1,6 1,-8 1,13 1,-8 1,1 1,0 1,-2 1,-10 1,12 1,-11 1,8 1,-7 1,17 1,-3 1,-6 1,3 1,-5 1,7 1,0 1,2 1,-3 1,-4 1,12 1,-3 1,-6 1,3 1,-2 1,-1 1,8 1,1 1,-5 1,4 1,-3 1,-8 1,5 1,-1 1,5 1,-7 1,4 1,6 1,-4 1,1 1,-1 1,-10 1,0 1,11 1,-10 1,-3 1,-2 1,12 1,-2 1,1 1,-4 1,-8 1,2 1,-5 1,4 1,2 1,-5 1,9 1,-10 1,5 1,1 1,0 1,-13 1,9 1,-1 1,4 1,-5 1,12 1,-8 1,-2 1,7 1,-3 1,8 1,-10 1,13 1,-11 1,-4 1,-2 1,9 1,-3 1,-8 1,7 1,3 1,5 1,1 1,-6 1,-1 1,9 1,-5 1,3 1,-2 1,-1 1,-1 1,6 1,-8 1,3 1,5 1,-2 1,1" stroke="#009fff"/>
<path transform="translate(859.9,0) scale(1.5852,0.25)" d="M0,4333l1,2 1,-5 1,-9 1,0 1,11 1,-11 1,1 1,4 1,-3 1,1 1,-1 1,1 1,5 1,-2 1,-1 1,1 1,8 1,-9 1,2 1,-5 1,5 1,6" stroke="#00bfff"/>
<path transform="translate(900.22,0) scale(1.5852,0.25)" d="M0,4386l1,-3 1,1 1,2 1,-1 1,0 1,-1 1,0 1,1 1,2 1,-1 1,-3 1,3 1,-2 1,4 1,-2 1,-52 1,-5 1,-2 1,0 1,6 1,-3 1,-5 1,4 1,-1 1,1 1,0 1,-5 1,6 1,-5 1,-3 1,1 1,-3 1,-5 1,5 1,-3 1,0 1,8 1,-5 1,1 1,7 1,-1 1,-9 1,3 1,3 1,3 1,-5 1,-2 1,6 1,2 1,-8 1,8 1,-9 1,-4 1,7 1,-13 1,13 1,-2 1,5 1,1 1,-8 1,7 1,9 1,-4 1,-1 1,6 1,4 1,-10 1,4 1,-3 1,3 1,-3 1,5 1,2 1,-5 1,-4 1,5 1,6 1,-7 1,-4 1,10 1,-1 1,0 1,-2 1,-3 1,5 1,-7 1,-7 1,-6 1,7 1,11 1,-11 1,-4 1,11 1,-14 1,8 1,6 1,-8 1,-3 1,-2 1,11 1,-9 1,-1 1,-14 1,13 1,6 1,0 1,-4 1,5 1,-1 1,4 1,5 1,-5" stroke="#00bfff"/>
<path transform="translate(190.05,0) scale(1.5852,0.25)" d="M0,4328l1,7 1,-12 1,2 1,2 1,-5 1,7 1,-3 1,2 1,6 1,2 1,-4 1,2 1,8 1,-1 1,-8 1,-5 1,9 1,-6 1,4 1,-2 1,-4 1,8 1,2 1,1 1,-2 1,-1 1,-2 1,3 1,-10 1,6 1,-1 1,2 1,1 1,2 1,2 1,-16 1,2 1,2 1,3 1,2 1,-11 1,5" stroke="#00dfff"/>
<path transform="translate(952.03,0) scale(1.5852,0.25)" d="M0,4337l1,-8 1,-2 1,1 1,8 1,-2 1,-2 1,-1 1,3 1,3 1,0 1,-12 1,9 1,5 1,-5 1,-1 1,-4 1,2 1,-3 1,9 1,-3 1,3 1,2 1,-4 1,-14 1,19 1,-5 1,-7 1,3 1,-2 1,0 1,0 1,-1 1,0 1,-2 1,2 1,2 1,0 1,-5 1,9 1,3 1,-5 1,-7 1,4 1,-5 1,-2 1,-2 1,11 1,1 1,-2 1,-5 1,4" stroke="#00dfff"/>
<path transform="translate(1612.93,0) scale(1.5852,0.25)" d="M0,4322l1,7 1,-2 1,5 1,-3 1,7 1,-5 1,-2 1,3 1,-5 1,5 1,-5 1,1 1,1 1,-2 1,-11 1,14 1,-6 1,5 1,-11 1,6 1,5 1,-5 1,-1 1,-8 1,7 1,3 1,-6 1,4 1,5 1,-5 1,-1 1,7 1,-9 1,11 1,-2 1,10 1,-9 1,7 1,-5 1,0 1,4 1,-1 1,-14 1,4 1,3 1,8 1,-2 1,-5 1,-1 1,2 1,2 1,0 1,-3 1,-7 1,8 1,1 1,-4 1,1 1,5 1,-5 1,8 1,-14" stroke="#00dfff"/>
<path transform="translate(363.85,0) scale(1.5852,0.25)" d="M0,4335l1,-3 1,-1 1,-4 1,-1 1,-1 1,-3 1,-2 1,6 1,-4 1,1 1,9 1,-8 1,2 1,-4 1,11 1,5 1,-4 1,-5 1,-6 1,6 1,2 1,-2 1,3 1,-3 1,9 1,-7 1,8 1,-7 1,9 1,-5 1,-2 1,-2 1,8 1,-14 1,8 1,-10 1,2 1,-2 1,7 1,-7 1,3 1,-3 1,8 1,0 1,-7 1,3 1,7 1,-5 1,11 1,-14 1,2 1,-8 1,5 1,1 1,-5 1,12 1,-13 1,1 1,2 1,4 1,0 1,0 1,5 1,-9 1,3 1,3 1,1 1,-7 1,5 1,-9 1,6 1,3 1,-1 1,1 1,4 1,-3 1,-7 1,3 1,-6 1,0 1,6 1,-4 1,3 1,-1 1,-1 1,1 1,7 1,-9 1,7 1,5 1,-10 1,12 1,-9 1,4 1,-3 1,-3 1,8 1,-6 1,1 1,7 1,1 1,-2 1,-14 1,12 1,1 1,1 1,-5 1,-3 1,3 1,1" stroke="#00ffff"/>
<path transform="translate(1091.84,0) scale(1.5852,0.25)" d="M0,4328l1,-5 1,4 1,-3 1,3 1,0 1,-2 1,0 1,-8 1,0 1,3 1,5 1,3 1,1 1,-4 1,9 1,-5 1,1 1,2 1,10 1,-11 1,0 1,1 1,2 1,-8 1,-1 1,9 1,-12 1,10 1,-5 1,11 1,-18 1,1 1,0 1,7 1,-3 1,-5 1,2 1,3 1,0 1,-1 1,3 1,-10 1,15 1,-13 1,1 1,10 1,-9 1,3 1,4 1,-9 1,7 1,-6 1,11 1,-9 1,-5 1,5 1,3 1,7 1,-11 1,3 1,5 1,4 1,1 1,-7 1,10 1,-7 1,4 1,-3 1,9 1,-1" stroke="#00ffff"/>
<path transform="translate(722.87,0) scale(1.5852,0.25)" d="M0,4327l1,-6 1,6 1,-9 1,12 1,-7 1,5 1,-5 1,4 1,-11 1,7 1,-5 1,-8 1,18 1,-6 1,2 1,-3 1,2 1,-1 1,8 1,-2 1,1 1,-8 1,-7 1,9 1,-8 1,4 1,7 1,0 1,4 1,-8 1,10 1,-4 1,5 1,-9 1,3 1,9 1,-5 1,4 1,-6 1,3 1,-2 1,8 1,-3 1,-2 1,-18 1,15 1,3 1,-1 1,2 1,-5 1,11 1,-14 1,6 1,-4 1,-2 1,5 1,-9 1,7 1,4 1,-32 1,25 1,-3 1,-1 1,0 1,4 1,-4 1,-7 1,14 1,-11 1,8 1,-3 1,-4 1,3 1,2 1,-8 1,6 1,8 1,-6 1,-5 1,6 1,-7 1,-3 1,0 1,12 1,-6 1,0 1,6 1,-3 1,5 1,6 1,-14 1,10 1,0 1,-9 1,7 1,10 1,-7 1,-1 1,0 1,-10 1,8 1,-4 1,5 1,-3 1,5 1,-3 1,3" stroke="#20ffdf"/>
<path transform="translate(1576.92,0) scale(1.5852,0.25)" d="M0,4333l1,-3 1,-8 1,3 1,1 1,-1 1,3 1,-4 1,-1 1,0 1,5 1,4 1,-10 1,16 1,-3 1,3 1,2 1,-5 1,-2 1,1 1,-3 1,-5 1,-5 1,3 1,1 1,12 1,-4 1,-6 1,-1 1,5 1,-8 1,6 1,0 1,-11 1,7 1,-4 1,5 1,-10 1,6 1,5 1,-1 1,8 1,-4 1,-3 1,4 1,5 1,-4 1,3 1,4 1,-14 1,10 1,-5 1,-8 1,7 1,-3 1,2 1,6 1,-3 1,-3 1,4 1,0 1,-5 1,12 1,1 1,-3 1,4 1,-4 1,4 1,-3 1,3 1,-4 1,-4 1,3" stroke="#20ffdf"/>
<path transform="translate(1034.9,0) scale(1.5852,0.25)" d="M0,4325l1,4 1,7 1,-7 1,-2 1,6 1,-4 1,5 1,-1 1,-9 1,13 1,-2 1,4 1,-8 1,1 1,-4 1,-7 1,8 1,-1 1,-8 1,7 1,0 1,-4 1,3 1,-1 1,-5 1,7 1,-6 1,10 1,0 1,-8 1,7 1,-7 1,9 1,-1 1,1 1,4 1,-4 1,-6 1,12 1,-4 1,-4 1,5 1,5 1,-7 1,-12 1,13 1,-1 1,-14 1,7 1,-2 1,3 1,-1 1,4 1,2 1,-2 1,0 1,8 1,-8 1,-3 1,9 1,-3 1,-1 1,6 1,-9 1,1 1,-4 1,12 1,-10 1,0 1,-1 1,9 1,0 1,-1 1,-8 1,2 1,0 1,-5 1,10 1,-3 1,0 1,-11 1,12 1,-1 1,0 1,-4 1,0 1,7 1,-5 1,2 1,0 1,-5 1,9 1,-4 1,-1 1,0 1,-8 1,4 1,1 1,0 1,3 1,0 1,-4 1,-5 1,12 1,-5 1,15 1,-11 1,7 1,-12 1,14 1,-10 1,3 1,1 1,-8 1,6 1,3 1,-5 1,5 1,-5 1,-4 1,-1 1,0 1,-1 1,-3 1,12 1,-2 1,-8 1,9 1,-4 1,-5 1,3 1,1 1,-2 1,1 1,-2 1,-9" stroke="#40ffbf"/>
<path transform="translate(712.85,0) scale(1.5852,0.25)" d="M0,4334l1,-12 1,13 1,0 1,-7 1,1 1,0 1,-5 1,4 1,4 1,-15 1,6 1,-4 1,13 1,-8 1,-3 1,11 1,3 1,-7 1,3 1,1 1,-2 1,6 1,-5 1,0 1,4 1,-4 1,-3 1,1 1,2 1,-11 1,4 1,-2 1,-1 1,12 1,-8 1,-8 1,17 1,3 1,-9 1,2 1,-5 1,5 1,-8 1,4 1,8 1,-11 1,0 1,5 1,-17 1,16 1,-2 1,-9 1,3 1,13 1,-12 1,4 1,7 1,4 1,2 1,-1 1,2 1,-6 1,1 1,6 1,-6 1,2 1,-10 1,6 1,0 1,-11 1,12 1,-6 1,4 1,-6 1,-2 1,1 1,-1 1,0 1,-2 1,-4 1,5 1,0 1,5 1,-1 1,5 1,0 1,0 1,4 1,2 1,-10 1,2 1,6 1,4 1,3 1,-8 1,0 1,-3 1,6 1,-7 1,8 1,-11 1,1 1,1 1,-2 1,6 1,0 1,-7 1,6 1,-2 1,6 1,-3 1,-4 1,2 1,-3 1,-6" stroke="#60ff9f"/>
<path transform="translate(900.22,0) scale(1.5852,0.25)" d="M0,4394l1,3 1,-4 1,2 1,-2 1,3 1,0 1,1 1,1 1,0 1,0 1,-2 1,1 1,-1 1,1 1,-3 1,-68 1,4 1,-3 1,-1 1,0 1,4 1,-11 1,10 1,-7 1,1 1,3 1,-2 1,5 1,-4 1,11 1,1 1,-3 1,-10" stroke="#60ff9f"/>
<path transform="translate(1353.97,0) scale(1.5852,0.25)" d="M0,4326l1,7 1,-7 1,11 1,-14 1,3 1,-7 1,8 1,-6 1,10 1,-10 1,2 1,0 1,-3 1,2 1,2 1,5 1,-3 1,-1 1,0 1,1 1,1 1,-9 1,14 1,-3 1,2 1,0 1,-1 1,-1 1,0 1,8 1,-3 1,-8 1,4 1,0 1,-9 1,14 1,3 1,-5 1,-4 1,4 1,-1 1,-3 1,-1 1,3 1,5 1,-1 1,-2 1,-1 1,3 1,1 1,2 1,-10 1,-2 1,5 1,-7 1,-1 1,4 1,4 1,4 1,-1 1,2 1,-12 1,9 1,-2 1,-7 1,11 1,5 1,-2 1,-3 1,3 1,-6 1,8 1,-5 1,0 1,3 1,0 1,-6 1,1 1,-5 1,-1 1,4 1,-7 1,13 1,-1 1,1 1,-6 1,7 1,-1 1,-3 1,3 1,-4 1,4 1,2 1,-7 1,4 1,-9 1,8 1,-1 1,-3 1,-3 1,0 1,0 1,10 1,-11 1,-4 1,4 1,1 1,-2 1,-3 1,10 1,-10 1,2 1,3 1,0 1,0 1,11 1,-7 1,-2 1,2" stroke="#80ff80"/>
<path transform="translate(217.44,0) scale(1.5852,0.25)" d="M0,4326l1,3 1,2 1,-5 1,6 1,-4 1,-5 1,3 1,7 1,-5 1,3 1,-3 1,1 1,6 1,3 1,-9 1,-2 1,4 1,-3 1,9 1,-9 1,5 1,0 1,-9 1,6 1,-3 1,4 1,1 1,5 1,-6 1,-1 1,9 1,0 1,-11 1,11 1,-4 1,4 1,-7 1,8 1,-9 1,-3 1,0 1,-6 1,14 1,-4 1,-5 1,1 1,-1 1,0 1,-1 1,-3 1,4 1,-1 1,8 1,-14 1,7 1,-3 1,10 1,-8 1,6 1,-2 1,4 1,4 1,1 1,-9 1,3 1,6 1,-6 1,-1 1,-1 1,-1 1,2 1,1 1,-12 1,12 1,-2 1,-6 1,8 1,-4 1,3 1,1 1,-2 1,1 1,-6 1,4 1,-6 1,8 1,-1 1,7 1,-13 1,0 1,3 1,-1 1,2 1,1 1,6 1,-8 1,3 1,8 1,-10 1,2 1,-5 1,-3 1,9 1,-7 1,4 1,2 1,-4 1,-9 1,4 1,-2 1,5 1,-6 1,-3 1,14 1,-10 1,7 1,5 1,1 1,-10 1,4 1,0 1,6 1,-4 1,-1 1,3 1,-10 1,5 1,-8 1,6 1,0 1,-3 1,-7 1,7 1,-4 1,1 1,5 1,4 1,5 1,-1" stroke="#9fff60"/>
<path transform="translate(670.88,0) scale(1.5852,0.25)" d="M0,4328l1,-2 1,-4 1,2 1,7 1,1 1,-4 1,2 1,-1 1,2 1,-5 1,-1 1,13 1,-3 1,5 1,-6 1,1 1,-1 1,6 1,-9 1,5 1,-5 1,5 1,-4 1,3 1,-3 1,3 1,-6 1,-8 1,7 1,2 1,-5 1,5 1,3 1,-5 1,0 1,7 1,-3 1,4 1,-6 1,2 1,6 1,-2 1,4 1,-6 1,-10 1,5 1,-6 1,9 1,-16 1,13 1,5 1,-1 1,-3 1,-1 1,-3 1,7 1,-9 1,9 1,-10 1,-3 1,6 1,1 1,6 1,-4 1,-2 1,-1 1,3 1,-5 1,1 1,13 1,-2 1,-11 1,0 1,-5 1,4 1,9 1,-9 1,8 1,-1 1,-6 1,10 1,-12 1,13 1,-5 1,4 1,-6 1,-2 1,8 1,-9 1,0 1,1 1,-3 1,-3 1,2 1,1 1,4 1,2 1,-8 1,2 1,-1 1,2 1,-1 1,-1 1,7 1,-4 1,5 1,3 1,-3 1,4 1,1 1,-5 1,-2 1,6 1,-5 1,9 1,-9 1,2 1,9 1,-3 1,-1 1,2 1,-9 1,12 1,-1 1,-1 1,-5 1,3 1,-7 1,9 1,-9 1,4 1,4 1,1 1,0" stroke="#bfff40"/>
<path transform="translate(260.43,0) scale(1.5852,0.25)" d="M0,4329l1,-1 1,-8 1,0 1,4 1,7 1,-6 1,10 1,-7 1,-2 1,1 1,-1 1,6 1,6 1,-4 1,-8 1,-8 1,7 1,1 1,1 1,-5 1,-6 1,-2 1,12 1,-2 1,0 1,1 1,3 1,7 1,-9 1,5 1,-4 1,7 1,1 1,-6 1,-5 1,0 1,5 1,6 1,-10 1,-1 1,-6 1,14 1,-12 1,11 1,-12 1,3 1,1 1,-5 1,6 1,4 1,6 1,-2 1,-6 1,10 1,-7 1,1 1,-2 1,-2 1,10 1,-2 1,-2 1,-6 1,0 1,6 1,-1 1,-7 1,13 1,-1 1,-8 1,4 1,-11 1,9 1,0 1,0 1,-1 1,1 1,-7 1,5 1,6 1,1 1,5 1,-6 1,2 1,2 1,-6 1,-10 1,18 1,-10 1,-3 1,5 1,-9 1,9 1,-2 1,2 1,1 1,-1 1,-6 1,-6 1,-1 1,8 1,0 1,2 1,0 1,-4 1,4 1,-13 1,5 1,4 1,-3 1,-2 1,5 1,-5 1,8 1,-1 1,-3 1,9 1,-11 1,9 1,2 1,-5 1,6 1,-2 1,-9 1,3 1,14 1,-3 1,-13 1,13 1,-5 1,2 1,-5 1,2 1,-7 1,3 1,5 1,-11 1,11 1,2 1,-5 1,-1 1,4 1,-3 1,-6 1,7 1,-2 1,-6" stroke="#dfff20"/>
<path transform="translate(784.95,0) scale(1.5852,0.25)" d="M0,4332l1,3 1,-6 1,-1 1,-1 1,5 1,-12 1,9 1,1 1,-2 1,7 1,-7 1,8 1,6 1,-3 1,-3 1,-3 1,8 1,-1 1,1 1,-2 1,1 1,1 1,-3 1,-2 1,-7 1,9 1,1 1,-7 1,-1 1,9 1,-6 1,1 1,-2 1,1 1,1 1,-9 1,13 1,-1 1,-7 1,0 1,5 1,0 1,3 1,2 1,-1 1,1 1,-9 1,9 1,-15 1,14 1,-13 1,8 1,-6 1,11 1,-6 1,2 1,1 1,0 1,-7 1,1 1,0 1,4 1,-1 1,6 1,0 1,-7 1,7 1,-2 1,4" stroke="#ffff00"/>
<path transform="translate(900.22,0) scale(1.5852,0.25)" d="M0,4402l1,-1 1,-1 1,1 1,-3 1,5 1,-3 1,0 1,2 1,-1 1,1 1,-2 1,1 1,-3 1,-3 1,-4 1,-59 1,7 1,-8 1,1 1,1 1,1 1,-2 1,0 1,-1 1,-6 1,4 1,5 1,-8 1,2 1,-2 1,-1 1,4 1,11 1,-5 1,-1 1,2 1,6 1,-2 1,-1 1,-5 1,3 1,-4 1,7 1,-7 1,0 1,-1 1,-1 1,2 1,-5 1,4 1,9 1,-10 1,-2 1,2 1,2 1,1 1,-4 1,10 1,-5 1,-7 1,11 1,-4 1,6 1,-2 1,2 1,-2" stroke="#ffff00"/>
<path transform="translate(313.89,0) scale(1.5852,0.25)" d="M0,4330l1,1 1,-6 1,-1 1,2 1,-5 1,9 1,5 1,-1 1,-9 1,3 1,-3 1,0 1,5 1,6 1,-9 1,0 1,2 1,-2 1,0 1,-1 1,7 1,-2 1,-9 1,9 1,0 1,-5 1,9 1,-10 1,4 1,1 1,-12 1,6 1,-1 1,0 1,2 1,-4 1,2 1,6 1,0 1,-7 1,-1 1,9 1,-2" stroke="#ffbf00"/>
<path transform="translate(1079.86,0) scale(1.5852,0.25)" d="M0,4329l1,-4 1,1 1,-7 1,6 1,-1 1,-3 1,-5 1,2 1,-1 1,3 1,0 1,-1 1,-3 1,4 1,6 1,-6 1,9 1,-2 1,5 1,-4 1,-1 1,7 1,-1 1,-6 1,6 1,1 1,-11 1,7 1,1 1,1 1,1 1,-7 1,1 1,-1 1,2 1,-7 1,10 1,-5 1,2 1,-4 1,-17 1,18 1,6 1,-3 1,-9 1,-2 1,2 1,9 1,2 1,-4 1,-2 1,7 1,-6 1,4 1,-2 1,1 1,3 1,0 1,-2 1,-2 1,-2 1,-6 1,6 1,-14 1,4 1,11 1,-6 1,-6 1,0 1,10 1,-1 1,-5 1,1 1,-7 1,7 1,5 1,-4 1,7 1,-8 1,4 1,-3 1,5 1,5 1,-7 1,4 1,-3 1,-11 1,12 1,-1 1,0 1,2 1,1 1,-3 1,4 1,-2 1,-1 1,-2 1,0 1,4 1,0 1,-10 1,5 1,3 1,4 1,4" stroke="#ffbf00"/>
<path transform="translate(255.93,0) scale(1.5852,0.25)" d="M0,4311l1,-10 1,0 1,7 1,1 1,-6 1,-3 1,10 1,-1 1,0 1,1 1,-3 1,2 1,-18 1,16 1,6 1,-4 1,-4 1,11 1,-2 1,0 1,10 1,-24 1,26 1,-12 1,-1 1,1 1,-5 1,10 1,-24 1,13 1,12 1,-14 1,13 1,-5 1,-17 1,-7 1,11 1,16 1,-3 1,-1 1,-10 1,-6 1,8 1,2 1,-1 1,5 1,2 1,-3 1,-5 1,-4 1,5 1,4 1,-15 1,17 1,-3 1,-15 1,1 1,-4 1,4 1,5 1,6 1,-3 1,3 1,0 1,-5 1,23 1,-22" stroke="#ff8000"/>
<path transform="translate(922.86,0) scale(1.5852,0.25)" d="M0,4313l1,-3 1,-2 1,-5 1,-6 1,15 1,-2 1,5 1,-4 1,4 1,-7 1,-1 1,-4 1,4 1,0 1,7 1,-10 1,10 1,0 1,0 1,-1 1,-9 1,8 1,2 1,-2 1,0 1,4 1,-10 1,3 1,6 1,-9 1,6 1,-18 1,11 1,9 1,-4 1,0 1,-10 1,7 1,0 1,-4 1,2 1,8 1,-1 1,-2 1,9 1,-5 1,1 1,-9 1,2 1,-1 1,1 1,-4 1,-4 1,9 1,-3 1,0 1,-10 1,16 1,3 1,-5 1,3 1,-9 1,9 1,-6 1,1 1,-2 1,12 1,-15 1,11 1,-4 1,-8 1,6 1,-3 1,1 1,-3 1,0 1,8 1,-14 1,2 1,6 1,-11 1,11 1,0 1,2 1,8 1,-17 1,9 1,4 1,-5 1,-9 1,6 1,0 1,0 1,-4 1,-8 1,20 1,-11 1,-1 1,4 1,3 1,-3 1,-3" stroke="#ff8000"/>
<path transform="translate(427.96,0) scale(1.5852,0.25)" d="M0,4322l1,9 1,-4 1,-1 1,-1 1,-7 1,2 1,9 1,1 1,7 1,-5 1,-1 1,0 1,-5 1,2 1,-1 1,4 1,2 1,1 1,-7 1,1 1,4 1,5 1,-1 1,1 1,-10 1,2 1,9 1,-3 1,-8 1,-1 1,-1 1,6 1,5 1,-18 1,2 1,-6 1,11 1,5 1,-18 1,9 1,3 1,-2 1,-1 1,3 1,-3 1,2 1,-2 1,1 1,-1 1,4 1,-7 1,9 1,2 1,-5 1,0 1,-3 1,4 1,-14 1,6 1,2 1,7 1,-3 1,1 1,-3 1,4 1,-7 1,7 1,-10 1,11 1,-2 1,4 1,-2 1,6 1,-7 1,-6 1,-1 1,0 1,0 1,15 1,-9 1,-6 1,-4 1,7 1,-3 1,-2 1,2 1,3 1,-2 1,-1 1,1 1,7 1,-4 1,-3 1,9 1,-5" stroke="#ff6000"/>
<path transform="translate(1124.82,0) scale(1.5852,0.25)" d="M0,4323l1,0 1,-1 1,1 1,1 1,-7 1,5 1,1 1,-3 1,9 1,-6 1,0 1,-1 1,-3 1,10 1,-3 1,3 1,-12 1,8 1,-2 1,-9 1,4 1,-6 1,7 1,9 1,-11 1,-1 1,-3 1,13 1,1 1,-5 1,-1 1,3 1,1 1,2 1,4 1,-12 1,-3 1,9 1,-10 1,3 1,6 1,-7 1,3 1,5 1,1 1,-8 1,8 1,-3 1,4 1,7 1,2 1,-6 1,-4 1,2 1,-5 1,1 1,6 1,-12 1,2 1,8 1,-11 1,0 1,9 1,-8 1,13 1,0 1,-3 1,4 1,-2 1,-6 1,6 1,2 1,-3 1,6 1,0 1,-5 1,3 1,3 1,-3 1,7 1,-2 1,1 1,-2 1,-3 1,-6 1,-2 1,9 1,-14" stroke="#ff6000"/>
<path transform="translate(644.94,0) scale(1.5852,0.25)" d="M0,4322l1,0 1,-4 1,5 1,2 1,1 1,-7 1,4 1,3 1,4 1,-5 1,4 1,4 1,0 1,0 1,9 1,-7 1,-1 1,-2 1,6 1,-15" stroke="#ff4000"/>
<path transform="translate(1269.89,0) scale(1.5852,0.25)" d="M0,4326l1,3 1,-7 1,9 1,-11 1,9 1,1 1,1 1,-6 1,2 1,-12 1,4 1,0 1,3 1,-2 1,2 1,2 1,-3 1,0 1,4 1,4 1,4 1,-1 1,0 1,-1 1,0 1,8 1,1 1,-8 1,1 1,-7 1,-2 1,6 1,0 1,-4 1,-4 1,0 1,8 1,-2 1,-4 1,-2 1,8 1,1 1,-6 1,6 1,4 1,-7 1,-2 1,3 1,-4 1,-2 1,2 1,9 1,-10 1,5 1,-14 1,7 1,-4 1,8 1,-4 1,6 1,-3 1,-5 1,1 1,2 1,-3 1,-5 1,6 1,-10 1,8 1,-4 1,4 1,6 1,-6 1,1 1,7 1,-4 1,3 1,12 1,-17 1,3 1,-2 1,4 1,1 1,-2 1,-23 1,20 1,1 1,-6 1,2 1,1 1,3 1,-1 1,2 1,-4 1,11 1,-2 1,1 1,-3 1,2 1,-2 1,0 1,-1 1,-7 1,-2 1,5 1,-9 1,1 1,6 1,3 1,-3 1,3 1,0 1,4 1,4 1,2 1,-8 1,-2 1,1 1,-5 1,12 1,1 1,-8 1,-1" stroke="#ff4000"/>
<path transform="translate(795.98,0) scale(1.5852,0.25)" d="M0,4316l1,11 1,-12 1,9 1,-3 1,-2 1,3 1,0 1,-5 1,1 1,-1 1,1 1,0 1,8 1,-9 1,7 1,-2 1,3 1,-12 1,6 1,-1 1,1 1,10 1,-7 1,-3 1,3 1,-5 1,9 1,-5 1,-3 1,-4 1,7 1,6 1,-7 1,-1 1,-1 1,7 1,-1 1,-9 1,11 1,-1 1,-5 1,-1 1,4 1,5 1,2 1,-2 1,2 1,-2 1,1 1,1 1,-1 1,-4 1,0 1,8 1,-4 1,6 1,-8 1,-14 1,19 1,0 1,2 1,-3" stroke="#ff2000"/>
<path transform="translate(900.22,0) scale(1.5852,0.25)" d="M0,4376l1,2 1,-3 1,2" stroke="#ff2000"/>
<path transform="translate(1457.9,0) scale(1.5852,0.25)" d="M0,4318l1,8 1,-4 1,-3 1,-2 1,-3 1,0 1,4 1,5 1,-9 1,-5 1,7 1,5 1,2 1,-9 1,14 1,-8 1,3 1,-9 1,10 1,-1 1,6 1,-10 1,-2 1,3 1,-2 1,-3 1,6 1,-30 1,27 1,-1 1,-7 1,16 1,-5 1,-2 1,-2 1,3 1,-3 1,0 1,9 1,-1 1,-13 1,12 1,4 1,-9 1,6 1,2 1,1 1,-11 1,12 1,-11 1,7 1,6 1,-8 1,-3 1,-3 1,18 1,0 1,-7 1,-5 1,7 1,-6 1,6 1,-9 1,4 1,0 1,-1 1,4 1,-5 1,-3 1,-2 1,9 1,-4 1,2 1,-2 1,8 1,-10 1,-9 1,14 1,-14 1,2 1,10 1,-1 1,-6 1,1 1,8 1,-1 1,7 1,0 1,2 1,-10 1,1 1,-2 1,-1 1,-3 1,6 1,3 1,-4 1,-5 1,6 1,-5 1,5 1,-1 1,-6 1,2 1,-2 1,2 1,-9 1,10 1,-3 1,11 1,-12 1,3" stroke="#ff2000"/>
<path transform="translate(190.05,0) scale(1.5852,0.25)" d="M0,4329l1,-33 1,-23 1,20 1,29 1,2 1,-16 1,-15 1,35 1,-2 1,8 1,0 1,-5 1,-5 1,10 1,-7 1,1 1,8 1,-3 1,5 1,-6 1,1 1,-5 1,7 1,3 1,-13 1,7 1,1 1,-3 1,3 1,3 1,-2 1,1 1,-5 1,-2 1,-5 1,1 1,4 1,2 1,5 1,-9 1,2 1,-12 1,8 1,2 1,-4 1,5 1,1 1,3 1,-2 1,2 1,3 1,-13 1,3 1,11 1,-4 1,7 1,-3 1,-2 1,-2 1,3 1,-1 1,8 1,-4 1,-1 1,-9 1,4 1,-5 1,5 1,-7 1,-1 1,6 1,-5 1,2 1,7 1,-12 1,-3 1,-2 1,11 1,-5 1,0 1,7 1,11 1,-5 1,-4 1,0" stroke="#ff0000"/>
<path transform="translate(1630.88,0) scale(1.5852,0.25)" d="M0,4329l1,0 1,-4 1,-3 1,7 1,2 1,3 1,-2 1,0 1,0 1,2 1,-3 1,-3 1,-6 1,6 1,0 1,5 1,-5 1,-3 1,-1 1,1 1,5 1,-2 1,-4 1,3 1,2 1,3 1,-8 1,11 1,-2 1,-1 1,-15 1,8 1,-2 1,4 1,-1 1,6 1,-2 1,-7 1,4 1,-6 1,-7 1,10 1,1 1,-1 1,5 1,-2 1,2 1,2 1,4 1,-10 1,5" stroke="#ff0000"/>
<path transform="translate(537.84,0) scale(1.5852,0.25)" d="M0,4327l1,-6 1,9 1,0 1,4 1,-2 1,-2 1,5 1,-2 1,-1 1,5 1,-7 1,6 1,-2 1,-1 1,-9 1,10 1,-10 1,8 1,-5 1,-5 1,2 1,5 1,1 1,-18 1,23 1,-1 1,3 1,2 1,-1 1,-4 1,-3 1,-2 1,3 1,-8 1,-1 1,1 1,9 1,6 1,-3 1,-11 1,4 1,8 1,-11 1,-2 1,5 1,-6 1,2 1,0 1,-8 1,6 1,-6 1,13 1,-9 1,-4 1,6 1,-16 1,10 1,10 1,-14 1,16 1,-12 1,-4 1,8 1,7 1,-5 1,5 1,1 1,-1 1,-8 1,2 1,-4 1,3 1,-3 1,1 1,5 1,1 1,2 1,-6 1,6 1,-7 1,5 1,-3 1,6 1,-1 1,0 1,3 1,-3 1,-2 1,4 1,-3 1,6 1,1 1,0 1,-3 1,-5 1,-6 1,7 1,-7 1,-1 1,5 1,-12 1,8 1,-3 1,2 1,6 1,1 1,-2 1,7 1,5 1,-9 1,-3 1,7 1,-6 1,5 1,1 1,-3 1,1 1,3 1,4 1,1 1,-10 1,7 1,-13" stroke="#df0000"/>
<path transform="translate(1303.82,0) scale(1.5852,0.25)" d="M0,4331l1,-6 1,-1 1,3 1,0 1,1 1,-2 1,4 1,1 1,4 1,-13 1,-2 1,8 1,-3 1,3 1,0 1,5 1,-6 1,10 1,-7 1,1 1,-6 1,9 1,-4 1,-2 1,-4 1,0 1,-5 1,19 1,-11 1,6 1,-18 1,11 1,-3 1,-2 1,-3 1,4 1,1 1,-9 1,5 1,7 1,-6 1,0 1,3 1,6 1,-5 1,-2" stroke="#df0000"/>
<path transform="translate(1512.81,0) scale(1.5852,0.25)" d="M0,4329l1,-4 1,-2 1,5 1,4 1,-2 1,-7 1,1 1,8 1,-13 1,3 1,-1 1,-2 1,-4 1,12 1,-11 1,7 1,-5 1,2 1,7 1,-4 1,7 1,-4 1,-2 1,2 1,5 1,-1 1,-4 1,4 1,-4 1,6 1,-5 1,-6 1,3 1,4 1,-3 1,-6 1,13 1,-2 1,-1 1,5 1,-1 1,-6 1,-14 1,13 1,-4 1,1 1,-5 1,-2 1,-12 1,12 1,4 1,5 1,8 1,-10 1,-1 1,7 1,-1 1,6 1,-3 1,-7 1,-5 1,-2 1,5 1,0 1,-5 1,5 1,7 1,-8 1,5 1,6 1,-2 1,1 1,1 1,-5 1,-3 1,3 1,1 1,0 1,3 1,-6 1,-4 1,-1 1,-2 1,-5 1,-5 1,3 1,6 1,-4 1,12 1,-5 1,-3 1,0 1,2 1,-8 1,9 1,0 1,3 1,-7 1,3 1,4 1,0 1,-3 1,7 1,2 1,-5 1,6 1,10 1,-5 1,4 1,-6 1,7 1,-7 1,-1 1,-2 1,0 1,-10 1,12 1,1 1,-1 1,-9 1,14 1,-3 1,-9 1,1 1,0" stroke="#bf0000"/>
<path transform="translate(1137.81,0) scale(1.5852,0.25)" d="M0,4332l1,3 1,-1 1,3 1,-8 1,-1 1,0 1,-2 1,2 1,-8 1,5 1,3 1,-6 1,4 1,-1 1,0 1,-2 1,6 1,3 1,0 1,-2 1,2 1,-8 1,4 1,9 1,-6 1,-1 1,2 1,-6 1,1 1,-5 1,-2 1,13 1,-6 1,0 1,-6 1,4 1,3 1,2 1,3 1,2 1,0 1,-1 1,-13 1,7 1,6 1,-20 1,16 1,2 1,2 1,-9 1,6 1,7 1,-13 1,-1 1,-1 1,7 1,-6 1,5 1,0 1,2 1,-2 1,9 1,-9 1,-2 1,5 1,-5 1,3 1,-11 1,13 1,0 1,6 1,-5 1,-9 1,6 1,-4 1,4 1,0 1,0 1,-3 1,0 1,0 1,-1 1,-3 1,0 1,10 1,-5 1,1 1,-2 1,2 1,-2 1,9 1,-11 1,-2 1,0 1,11 1,-7 1,4 1,1 1,-3 1,-1 1,-11 1,1 1,8 1,-9 1,9 1,-5 1,-2 1,3 1,-6 1,4 1,6 1,-3 1,-5 1,-3 1,4 1,8 1,-1 1,-6 1,-3 1,7 1,-8 1,8 1,-2 1,-3 1,7 1,6 1,-9 1,10 1,-7 1,9 1,-8 1,4 1,1 1,1 1,-3 1,10 1,-10" stroke="#9f0000"/>
<path transform="translate(981.96,0) scale(1.5852,0.25)" d="M0,4323l1,8 1,-1 1,-7 1,6 1,2 1,1 1,-8 1,4 1,0 1,8 1,-13 1,7 1,-2 1,-3 1,-5 1,9 1,-2 1,11 1,-5 1,3 1,-4 1,-5 1,0 1,2 1,0 1,1 1,-1 1,7 1,-6 1,5 1,-14 1,11 1,-3 1,9 1,-7 1,7 1,-5 1,4 1,-10 1,4 1,-7 1,3 1,12 1,-12 1,5 1,-9 1,6 1,0 1,-4 1,-6 1,-3 1,11 1,1 1,-7 1,1 1,7 1,1 1,-6 1,5 1,-5 1,6 1,-4 1,9 1,-6 1,-1 1,-9 1,2 1,3 1,-5 1,2 1,0 1,-4 1,3 1,8 1,-8 1,5 1,-1 1,8 1,-10 1,2 1,3 1,6 1,-5 1,7 1,1 1,-12 1,13 1,-9 1,3 1,-5 1,6 1,-4 1,13 1,-8 1,-6 1,5 1,-5 1,4 1,4 1,-3 1,-6 1,8 1,-9 1,6 1,-1 1,-7 1,1 1,1 1,7 1,-7 1,-22 1,22 1,2 1,-7 1,6 1,-5 1,-4 1,10 1,1 1,1 1,0 1,-9 1,13 1,-4 1,-5 1,5 1,5 1,-13 1,4 1,4 1,-1 1,2 1,-7 1,-15 1,20 1,1 1,-7 1,6 1,-2 1,6" stroke="#800000"/>
<polyline points="1027.74,1080.78 1028.94,1062.4 1030.14,1080.78" stroke="#00009f" transform="scale(1)"/>
<polyline points="1008.09,1080.78 1009.29,1073.43 1010.49,1080.78" stroke="#800000" transform="scale(1)"/>
<polyline points="591.49,1080.78 592.69,1074.65 593.89,1080.78" stroke="#009fff" transform="scale(1)"/>
<polyline points="702.46,1080.78 703.66,1074.65 704.86,1080.78" stroke="#00bfff" transform="scale(1)"/>
<polyline points="1615.54,1080.78 1616.74,1077.1 1617.94,1080.78" stroke="#0080ff" transform="scale(1)"/>
</g>
</g>
</g>
<text x="174.15" y="1151.9" font-size="28.6" text-anchor="start" fill="#262626" >00</text>
<text x="237.56" y="1151.9" font-size="28.6" text-anchor="start" fill="#262626" >0</text>
<path transform="translate(253.46,1151.9) scale(28.6,-28.6)" d="M.3936,0H.2563V.5171Q.1812,.4468 .0791,.4131V.5376Q.1328,.5552 .1958,.6042Q.2588,.6533 .2822,.7188H.3936Z" fill="#262626"/>
<text x="300.97" y="1151.9" font-size="28.6" text-anchor="start" fill="#262626" >02</text>
<text x="364.37" y="1151.9" font-size="28.6" text-anchor="start" fill="#262626" >03</text>
<text x="427.78" y="1151.9" font-size="28.6" text-anchor="start" fill="#262626" >04</text>
<text x="491.19" y="1151.9" font-size="28.6" text-anchor="start" fill="#262626" >05</text>
<text x="554.6" y="1151.9" font-size="28.6" text-anchor="start" fill="#262626" >06</text>
<text x="618.01" y="1151.9" font-size="28.6" text-anchor="start" fill="#262626" >07</text>
<text x="681.42" y="1151.9" font-size="28.6" text-anchor="start" fill="#262626" >08</text>
<text x="744.82" y="1151.9" font-size="28.6" text-anchor="start" fill="#262626" >09</text>
<path transform="translate(808.23,1151.9) scale(28.6,-28.6)" d="M.3936,0H.2563V.5171Q.1812,.4468 .0791,.4131V.5376Q.1328,.5552 .1958,.6042Q.2588,.6533 .2822,.7188H.3936Z" fill="#262626"/>
<text x="824.13" y="1151.9" font-size="28.6" text-anchor="start" fill="#262626" >0</text>
<path transform="translate(871.64,1151.9) scale(28.6,-28.6)" d="M.3936,0H.2563V.5171Q.1812,.4468 .0791,.4131V.5376Q.1328,.5552 .1958,.6042Q.2588,.6533 .2822,.7188H.3936Z" fill="#262626"/>
<path transform="translate(887.54,1151.9) scale(28.6,-28.6)" d="M.3936,0H.2563V.5171Q.1812,.4468 .0791,.4131V.5376Q.1328,.5552 .1958,.6042Q.2588,.6533 .2822,.7188H.3936Z" fill="#262626"/>
<path transform="translate(935.05,1151.9) scale(28.6,-28.6)" d="M.3936,0H.2563V.5171Q.1812,.4468 .0791,.4131V.5376Q.1328,.5552 .1958,.6042Q.2588,.6533 .2822,.7188H.3936Z" fill="#262626"/>
<text x="950.95" y="1151.9" font-size="28.6" text-anchor="start" fill="#262626" >2</text>
<path transform="translate(998.46,1151.9) scale(28.6,-28.6)" d="M.3936,0H.2563V.5171Q.1812,.4468 .0791,.4131V.5376Q.1328,.5552 .1958,.6042Q.2588,.6533 .2822,.7188H.3936Z" fill="#262626"/>
<text x="1014.36" y="1151.9" font-size="28.6" text-anchor="start" fill="#262626" >3</text>
<path transform="translate(1061.87,1151.9) scale(28.6,-28.6)" d="M.3936,0H.2563V.5171Q.1812,.4468 .0791,.4131V.5376Q.1328,.5552 .1958,.6042Q.2588,.6533 .2822,.7188H.3936Z" fill="#262626"/>
<text x="1077.77" y="1151.9" font-size="28.6" text-anchor="start" fill="#262626" >4</text>
<path transform="translate(1125.27,1151.9) scale(28.6,-28.6)" d="M.3936,0H.2563V.5171Q.1812,.4468 .0791,.4131V.5376Q.1328,.5552 .1958,.6042Q.2588,.6533 .2822,.7188H.3936Z" fill="#262626"/>
<text x="1141.17" y="1151.9" font-size="28.6" text-anchor="start" fill="#262626" >5</text>
<path transform="translate(1188.68,1151.9) scale(28.6,-28.6)" d="M.3936,0H.2563V.5171Q.1812,.4468 .0791,.4131V.5376Q.1328,.5552 .1958,.6042Q.2588,.6533 .2822,.7188H.3936Z" fill="#262626"/>
<text x="1204.58" y="1151.9" font-size="28.6" text-anchor="start" fill="#262626" >6</text>
<path transform="translate(1252.09,1151.9) scale(28.6,-28.6)" d="M.3936,0H.2563V.5171Q.1812,.4468 .0791,.4131V.5376Q.1328,.5552 .1958,.6042Q.2588,.6533 .2822,.7188H.3936Z" fill="#262626"/>
<text x="1267.99" y="1151.9" font-size="28.6" text-anchor="start" fill="#262626" >7</text>
<path transform="translate(1315.5,1151.9) scale(28.6,-28.6)" d="M.3936,0H.2563V.5171Q.1812,.4468 .0791,.4131V.5376Q.1328,.5552 .1958,.6042Q.2588,.6533 .2822,.7188H.3936Z" fill="#262626"/>
<text x="1331.4" y="1151.9" font-size="28.6" text-anchor="start" fill="#262626" >8</text>
<path transform="translate(1378.91,1151.9) scale(28.6,-28.6)" d="M.3936,0H.2563V.5171Q.1812,.4468 .0791,.4131V.5376Q.1328,.5552 .1958,.6042Q.2588,.6533 .2822,.7188H.3936Z" fill="#262626"/>
<text x="1394.81" y="1151.9" font-size="28.6" text-anchor="start" fill="#262626" >9</text>
<text x="1442.32" y="1151.9" font-size="28.6" text-anchor="start" fill="#262626" >20</text>
<text x="1505.72" y="1151.9" font-size="28.6" text-anchor="start" fill="#262626" >2</text>
<path transform="translate(1521.62,1151.9) scale(28.6,-28.6)" d="M.3936,0H.2563V.5171Q.1812,.4468 .0791,.4131V.5376Q.1328,.5552 .1958,.6042Q.2588,.6533 .2822,.7188H.3936Z" fill="#262626"/>
<text x="1569.13" y="1151.9" font-size="28.6" text-anchor="start" fill="#262626" >22</text>
<text x="1632.54" y="1151.9" font-size="28.6" text-anchor="start" fill="#262626" >23</text>
<text x="1695.95" y="1151.9" font-size="28.6" text-anchor="start" fill="#262626" >00</text>
<text x="950.95" y="1193.4" font-size="32" text-anchor="middle" fill="#262626" >UT</text>
<text x="950.95" y="112" font-size="32" text-anchor="middle" fill="#000" >TRL-GPS-20200508</text>
<text transform="translate(140.3,248.2) rotate(-90)" font-size="32" text-anchor="middle" fill="#262626" >TEC</text>
<text transform="translate(140.3,496) rotate(-90)" font-size="32" text-anchor="middle" fill="#262626" >ROT [TECU/min]</text>
<text transform="translate(111,743) rotate(-90)" font-size="32" text-anchor="middle" fill="#262626" letter-spacing="0.25">S<tspan dy="15.3" font-size="23.04">4</tspan><tspan dy="-15.3"> ("S</tspan><tspan dy="15.3" font-size="23.04">4</tspan><tspan dy="-15.3">-corS</tspan><tspan dy="15.3" font-size="23.04">4</tspan><tspan dy="-15.3">")</tspan></text>
<text transform="translate(112,988) rotate(-90)" font-family="'Liberation Serif', serif" font-style="italic" font-weight="normal" font-size="31" text-anchor="middle" fill="#262626">&#963;<tspan dy="18" dx="3" font-size="29">&#981;</tspan></text>
<rect x="1731.2" y="966.07" width="22.8" height="23.83" fill="#00009f"/>
<rect x="1731.2" y="942.84" width="22.8" height="23.83" fill="#0000bf"/>
<rect x="1731.2" y="919.62" width="22.8" height="23.83" fill="#0000df"/>
<rect x="1731.2" y="896.39" width="22.8" height="23.83" fill="#0000ff"/>
<rect x="1731.2" y="873.16" width="22.8" height="23.83" fill="#0020ff"/>
<rect x="1731.2" y="849.93" width="22.8" height="23.83" fill="#0040ff"/>
<rect x="1731.2" y="826.7" width="22.8" height="23.83" fill="#0060ff"/>
<rect x="1731.2" y="803.47" width="22.8" height="23.83" fill="#0080ff"/>
<rect x="1731.2" y="780.25" width="22.8" height="23.83" fill="#009fff"/>
<rect x="1731.2" y="757.02" width="22.8" height="23.83" fill="#00bfff"/>
<rect x="1731.2" y="733.79" width="22.8" height="23.83" fill="#00dfff"/>
<rect x="1731.2" y="710.56" width="22.8" height="23.83" fill="#00ffff"/>
<rect x="1731.2" y="687.33" width="22.8" height="23.83" fill="#20ffdf"/>
<rect x="1731.2" y="664.11" width="22.8" height="23.83" fill="#40ffbf"/>
<rect x="1731.2" y="640.88" width="22.8" height="23.83" fill="#60ff9f"/>
<rect x="1731.2" y="617.65" width="22.8" height="23.83" fill="#80ff80"/>
<rect x="1731.2" y="594.42" width="22.8" height="23.83" fill="#9fff60"/>
<rect x="1731.2" y="571.19" width="22.8" height="23.83" fill="#bfff40"/>
<rect x="1731.2" y="547.97" width="22.8" height="23.83" fill="#dfff20"/>
<rect x="1731.2" y="524.74" width="22.8" height="23.83" fill="#ffff00"/>
<rect x="1731.2" y="501.51" width="22.8" height="23.83" fill="#ffdf00"/>
<rect x="1731.2" y="478.28" width="22.8" height="23.83" fill="#ffbf00"/>
<rect x="1731.2" y="455.05" width="22.8" height="23.83" fill="#ff9f00"/>
<rect x="1731.2" y="431.83" width="22.8" height="23.83" fill="#ff8000"/>
<rect x="1731.2" y="408.6" width="22.8" height="23.83" fill="#ff6000"/>
<rect x="1731.2" y="385.37" width="22.8" height="23.83" fill="#ff4000"/>
<rect x="1731.2" y="362.14" width="22.8" height="23.83" fill="#ff2000"/>
<rect x="1731.2" y="338.91" width="22.8" height="23.83" fill="#ff0000"/>
<rect x="1731.2" y="315.68" width="22.8" height="23.83" fill="#df0000"/>
<rect x="1731.2" y="292.46" width="22.8" height="23.83" fill="#bf0000"/>
<rect x="1731.2" y="269.23" width="22.8" height="23.83" fill="#9f0000"/>
<rect x="1731.2" y="246" width="22.8" height="23.83" fill="#800000"/>
<rect x="1731.5" y="246.3" width="22.2" height="742.7" fill="none" stroke="#262626" stroke-width="1" stroke-opacity="0.85"/>
<line x1="1746" y1="965.32" x2="1754" y2="965.32" stroke="#262626" stroke-width="1" />
<text x="1766" y="977.92" font-size="33" text-anchor="start" fill="#262626" >2</text>
<line x1="1746" y1="917.37" x2="1754" y2="917.37" stroke="#262626" stroke-width="1" />
<text x="1766" y="929.97" font-size="33" text-anchor="start" fill="#262626" >4</text>
<line x1="1746" y1="869.41" x2="1754" y2="869.41" stroke="#262626" stroke-width="1" />
<text x="1766" y="882.01" font-size="33" text-anchor="start" fill="#262626" >6</text>
<line x1="1746" y1="821.46" x2="1754" y2="821.46" stroke="#262626" stroke-width="1" />
<text x="1766" y="834.06" font-size="33" text-anchor="start" fill="#262626" >8</text>
<line x1="1746" y1="773.5" x2="1754" y2="773.5" stroke="#262626" stroke-width="1" />
<path transform="translate(1766,786.1) scale(33,-33)" d="M.3936,0H.2563V.5171Q.1812,.4468 .0791,.4131V.5376Q.1328,.5552 .1958,.6042Q.2588,.6533 .2822,.7188H.3936Z" fill="#262626"/>
<text x="1784.35" y="786.1" font-size="33" text-anchor="start" fill="#262626" >0</text>
<line x1="1746" y1="725.55" x2="1754" y2="725.55" stroke="#262626" stroke-width="1" />
<path transform="translate(1766,738.15) scale(33,-33)" d="M.3936,0H.2563V.5171Q.1812,.4468 .0791,.4131V.5376Q.1328,.5552 .1958,.6042Q.2588,.6533 .2822,.7188H.3936Z" fill="#262626"/>
<text x="1784.35" y="738.15" font-size="33" text-anchor="start" fill="#262626" >2</text>
<line x1="1746" y1="677.59" x2="1754" y2="677.59" stroke="#262626" stroke-width="1" />
<path transform="translate(1766,690.19) scale(33,-33)" d="M.3936,0H.2563V.5171Q.1812,.4468 .0791,.4131V.5376Q.1328,.5552 .1958,.6042Q.2588,.6533 .2822,.7188H.3936Z" fill="#262626"/>
<text x="1784.35" y="690.19" font-size="33" text-anchor="start" fill="#262626" >4</text>
<line x1="1746" y1="629.64" x2="1754" y2="629.64" stroke="#262626" stroke-width="1" />
<path transform="translate(1766,642.24) scale(33,-33)" d="M.3936,0H.2563V.5171Q.1812,.4468 .0791,.4131V.5376Q.1328,.5552 .1958,.6042Q.2588,.6533 .2822,.7188H.3936Z" fill="#262626"/>
<text x="1784.35" y="642.24" font-size="33" text-anchor="start" fill="#262626" >6</text>
<line x1="1746" y1="581.68" x2="1754" y2="581.68" stroke="#262626" stroke-width="1" />
<path transform="translate(1766,594.28) scale(33,-33)" d="M.3936,0H.2563V.5171Q.1812,.4468 .0791,.4131V.5376Q.1328,.5552 .1958,.6042Q.2588,.6533 .2822,.7188H.3936Z" fill="#262626"/>
<text x="1784.35" y="594.28" font-size="33" text-anchor="start" fill="#262626" >8</text>
<line x1="1746" y1="533.73" x2="1754" y2="533.73" stroke="#262626" stroke-width="1" />
<text x="1766" y="546.33" font-size="33" text-anchor="start" fill="#262626" >20</text>
<line x1="1746" y1="485.77" x2="1754" y2="485.77" stroke="#262626" stroke-width="1" />
<text x="1766" y="498.37" font-size="33" text-anchor="start" fill="#262626" >22</text>
<line x1="1746" y1="437.82" x2="1754" y2="437.82" stroke="#262626" stroke-width="1" />
<text x="1766" y="450.42" font-size="33" text-anchor="start" fill="#262626" >24</text>
<line x1="1746" y1="389.86" x2="1754" y2="389.86" stroke="#262626" stroke-width="1" />
<text x="1766" y="402.46" font-size="33" text-anchor="start" fill="#262626" >26</text>
<line x1="1746" y1="341.91" x2="1754" y2="341.91" stroke="#262626" stroke-width="1" />
<text x="1766" y="354.51" font-size="33" text-anchor="start" fill="#262626" >28</text>
<line x1="1746" y1="293.95" x2="1754" y2="293.95" stroke="#262626" stroke-width="1" />
<text x="1766" y="306.55" font-size="33" text-anchor="start" fill="#262626" >30</text>
<text x="1766" y="258.6" font-size="33" text-anchor="start" fill="#262626" >32</text>
<text transform="translate(1842.6,618.6) rotate(-90)" font-size="33.6" text-anchor="middle" fill="#262626">PRN</text>
</svg>
</body></html>
